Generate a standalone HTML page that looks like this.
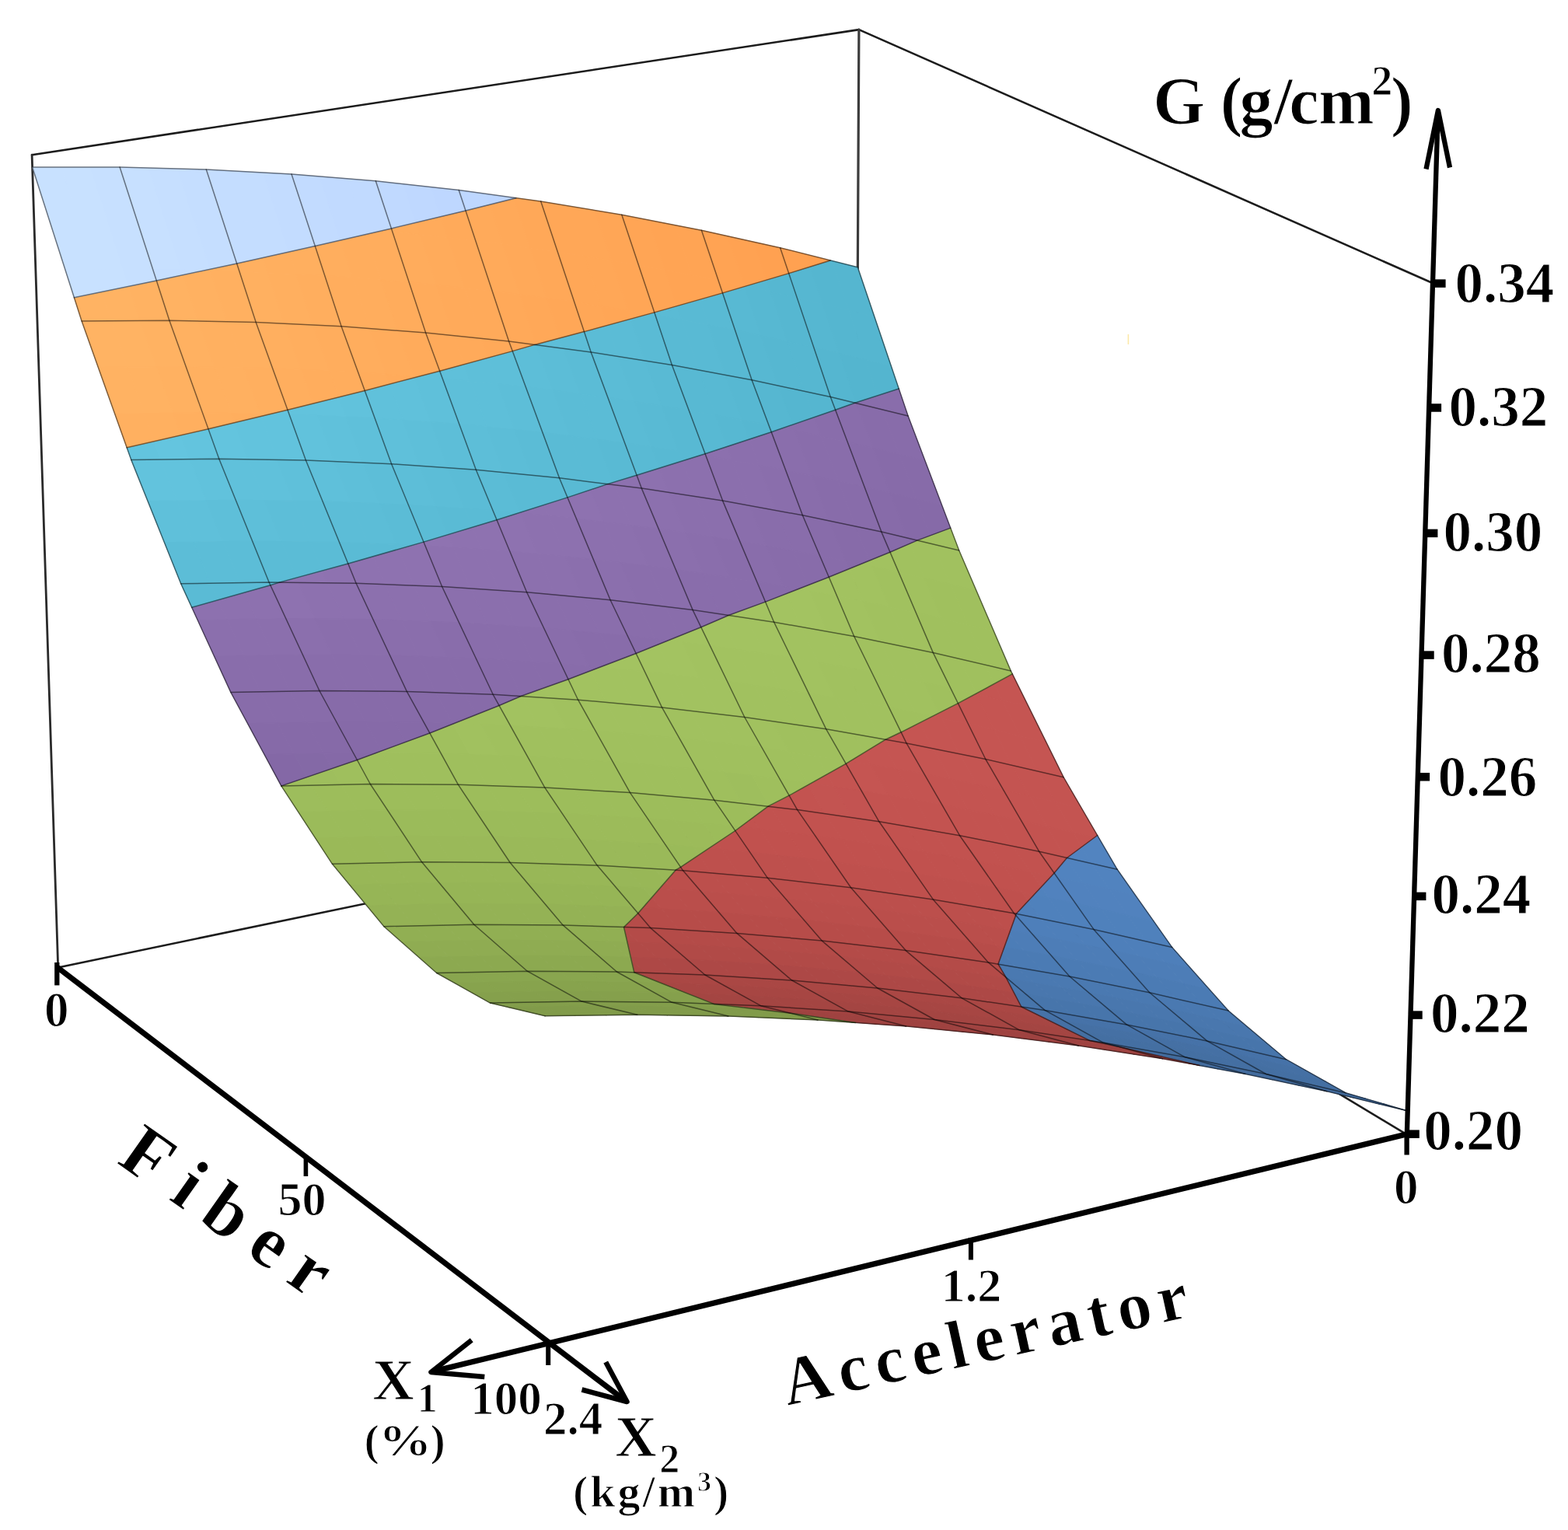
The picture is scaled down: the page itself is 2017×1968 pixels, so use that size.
<!DOCTYPE html>
<html lang="en"><head><meta charset="utf-8"><title>Response surface: G vs Fiber and Accelerator</title>
<style>html,body{margin:0;padding:0;background:#fff}body{width:2017px;height:1968px;overflow:hidden}svg{display:block}text{font-family:"Liberation Serif","DejaVu Serif",serif;font-weight:bold;fill:#000}</style></head><body>
<svg width="2017" height="1968" viewBox="0 0 2017 1968">
<rect width="2017" height="1968" fill="#fff"/>
<g id="box" stroke-linecap="round">
<line x1="41.1" y1="199.2" x2="1104.9" y2="38.1" stroke="#1c1c1c" stroke-width="2.6" />
<line x1="1104.9" y1="38.1" x2="1843.1" y2="364.3" stroke="#1c1c1c" stroke-width="2.6" />
<line x1="41.1" y1="199.2" x2="74.7" y2="1244.4" stroke="#2a2a2a" stroke-width="2.8" />
<line x1="1104.9" y1="38.1" x2="1099.8" y2="1031.5" stroke="#3c3c3c" stroke-width="3.1999999999999997" />
<line x1="74.7" y1="1244.4" x2="1099.8" y2="1031.5" stroke="#1c1c1c" stroke-width="2.6" />
<line x1="1099.8" y1="1031.5" x2="1808.9" y2="1458.9" stroke="#1c1c1c" stroke-width="2.6" />
</g>
<g id="surface" stroke-linejoin="round">
<polygon points="142.7,412.8 105.1,413.0 95.4,382.8 130.7,375.5" fill="#ffb363" stroke="#ffb363" stroke-width="1"/>
<polygon points="180.3,412.5 142.7,412.8 130.7,375.5 166.0,368.3" fill="#ffb363" stroke="#ffb363" stroke-width="1"/>
<polygon points="201.3,361.0 217.9,412.3 180.3,412.5 166.0,368.3" fill="#ffb262" stroke="#ffb262" stroke-width="1"/>
<polygon points="41.6,215.1 79.1,215.1 100.3,281.0 62.8,281.1" fill="#c8e1ff" stroke="#c8e1ff" stroke-width="1"/>
<polygon points="100.3,281.0 121.5,346.9 84.0,347.1 62.8,281.1" fill="#c8e1ff" stroke="#c8e1ff" stroke-width="1"/>
<polygon points="121.5,346.9 130.7,375.5 95.4,382.8 84.0,347.1" fill="#c8e1ff" stroke="#c8e1ff" stroke-width="1"/>
<polygon points="79.1,215.1 116.6,215.0 137.9,280.9 100.3,281.0" fill="#c8e1ff" stroke="#c8e1ff" stroke-width="1"/>
<polygon points="137.9,280.9 159.1,346.7 121.5,346.9 100.3,281.0" fill="#c8e1ff" stroke="#c8e1ff" stroke-width="1"/>
<polygon points="159.1,346.7 166.0,368.3 130.7,375.5 121.5,346.9" fill="#c8e1ff" stroke="#c8e1ff" stroke-width="1"/>
<polygon points="116.6,215.0 154.1,215.0 175.4,280.8 137.9,280.9" fill="#c7e0ff" stroke="#c7e0ff" stroke-width="1"/>
<polygon points="175.4,280.8 196.6,346.5 159.1,346.7 137.9,280.9" fill="#c7e0ff" stroke="#c7e0ff" stroke-width="1"/>
<polygon points="196.6,346.5 201.3,361.0 166.0,368.3 159.1,346.7" fill="#c7e0ff" stroke="#c7e0ff" stroke-width="1"/>
<polygon points="255.0,413.0 217.9,412.3 201.3,361.0 235.8,353.6" fill="#ffb262" stroke="#ffb262" stroke-width="1"/>
<polygon points="262.1,348.0 270.2,346.3 270.8,348.2" fill="#ffb161" stroke="#ffb161" stroke-width="1"/>
<polygon points="292.1,413.8 255.0,413.0 235.8,353.6 262.1,348.0 270.8,348.2" fill="#ffb161" stroke="#ffb161" stroke-width="1"/>
<polygon points="304.6,338.9 307.9,349.0 270.8,348.2 270.2,346.3" fill="#ffb161" stroke="#ffb161" stroke-width="1"/>
<polygon points="307.9,349.0 329.2,414.6 292.1,413.8 270.8,348.2" fill="#ffb060" stroke="#ffb060" stroke-width="1"/>
<polygon points="154.1,215.0 191.2,216.0 212.5,281.7 175.4,280.8" fill="#c7e0ff" stroke="#c7e0ff" stroke-width="1"/>
<polygon points="212.5,281.7 233.7,347.4 196.6,346.5 175.4,280.8" fill="#c7e0ff" stroke="#c7e0ff" stroke-width="1"/>
<polygon points="233.7,347.4 235.8,353.6 201.3,361.0 196.6,346.5" fill="#c6dfff" stroke="#c6dfff" stroke-width="1"/>
<polygon points="191.2,216.0 228.2,217.0 249.5,282.6 212.5,281.7" fill="#c6dfff" stroke="#c6dfff" stroke-width="1"/>
<polygon points="249.5,282.6 270.2,346.3 262.1,348.0 233.7,347.4 212.5,281.7" fill="#c6dfff" stroke="#c6dfff" stroke-width="1"/>
<polygon points="262.1,348.0 235.8,353.6 233.7,347.4" fill="#c6dfff" stroke="#c6dfff" stroke-width="1"/>
<polygon points="228.2,217.0 265.3,218.0 286.6,283.5 249.5,282.6" fill="#c5deff" stroke="#c5deff" stroke-width="1"/>
<polygon points="286.6,283.5 304.6,338.9 270.2,346.3 249.5,282.6" fill="#c5deff" stroke="#c5deff" stroke-width="1"/>
<polygon points="307.9,349.0 304.6,338.9 338.2,331.4 344.5,350.9" fill="#ffb060" stroke="#ffb060" stroke-width="1"/>
<polygon points="365.9,416.3 329.2,414.6 307.9,349.0 344.5,350.9" fill="#ffb060" stroke="#ffb060" stroke-width="1"/>
<polygon points="344.5,350.9 338.2,331.4 371.8,324.0 381.1,352.7" fill="#ffaf5f" stroke="#ffaf5f" stroke-width="1"/>
<polygon points="402.5,418.1 365.9,416.3 344.5,350.9 381.1,352.7" fill="#ffaf5f" stroke="#ffaf5f" stroke-width="1"/>
<polygon points="405.3,316.5 417.8,354.5 381.1,352.7 371.8,324.0" fill="#ffaf5f" stroke="#ffaf5f" stroke-width="1"/>
<polygon points="417.8,354.5 439.1,419.8 402.5,418.1 381.1,352.7" fill="#ffae5e" stroke="#ffae5e" stroke-width="1"/>
<polygon points="265.3,218.0 301.9,220.0 323.2,285.4 286.6,283.5" fill="#c4ddff" stroke="#c4ddff" stroke-width="1"/>
<polygon points="323.2,285.4 338.2,331.4 304.6,338.9 286.6,283.5" fill="#c4ddff" stroke="#c4ddff" stroke-width="1"/>
<polygon points="301.9,220.0 338.4,221.9 359.8,287.3 323.2,285.4" fill="#c4ddff" stroke="#c4ddff" stroke-width="1"/>
<polygon points="359.8,287.3 371.8,324.0 338.2,331.4 323.2,285.4" fill="#c4ddff" stroke="#c4ddff" stroke-width="1"/>
<polygon points="338.4,221.9 375.0,223.9 396.4,289.2 359.8,287.3" fill="#c3dcff" stroke="#c3dcff" stroke-width="1"/>
<polygon points="396.4,289.2 405.3,316.5 371.8,324.0 359.8,287.3" fill="#c3dcff" stroke="#c3dcff" stroke-width="1"/>
<polygon points="417.8,354.5 405.3,316.5 438.0,309.0 453.9,357.3" fill="#ffae5e" stroke="#ffae5e" stroke-width="1"/>
<polygon points="475.3,422.5 439.1,419.8 417.8,354.5 453.9,357.3" fill="#ffad5d" stroke="#ffad5d" stroke-width="1"/>
<polygon points="453.9,357.3 438.0,309.0 470.7,301.4 490.0,360.1" fill="#ffad5d" stroke="#ffad5d" stroke-width="1"/>
<polygon points="511.4,425.3 475.3,422.5 453.9,357.3 490.0,360.1" fill="#ffad5d" stroke="#ffad5d" stroke-width="1"/>
<polygon points="503.4,293.9 504.8,297.9 490.9,296.8" fill="#ffac5c" stroke="#ffac5c" stroke-width="1"/>
<polygon points="504.8,297.9 526.2,362.9 490.0,360.1 470.7,301.4 490.9,296.8" fill="#ffad5d" stroke="#ffad5d" stroke-width="1"/>
<polygon points="526.2,362.9 547.6,428.0 511.4,425.3 490.0,360.1" fill="#ffac5c" stroke="#ffac5c" stroke-width="1"/>
<polygon points="375.0,223.9 411.1,226.9 432.5,292.1 396.4,289.2" fill="#c2dbff" stroke="#c2dbff" stroke-width="1"/>
<polygon points="432.5,292.1 438.0,309.0 405.3,316.5 396.4,289.2" fill="#c2dbff" stroke="#c2dbff" stroke-width="1"/>
<polygon points="411.1,226.9 447.2,229.8 468.6,295.0 432.5,292.1" fill="#c1daff" stroke="#c1daff" stroke-width="1"/>
<polygon points="468.6,295.0 470.7,301.4 438.0,309.0 432.5,292.1" fill="#c1daff" stroke="#c1daff" stroke-width="1"/>
<polygon points="447.2,229.8 483.3,232.8 503.4,293.9 490.9,296.8 468.6,295.0" fill="#c1daff" stroke="#c1daff" stroke-width="1"/>
<polygon points="490.9,296.8 470.7,301.4 468.6,295.0" fill="#c1daff" stroke="#c1daff" stroke-width="1"/>
<polygon points="504.8,297.9 503.4,293.9 535.3,286.2 540.4,301.7" fill="#ffac5c" stroke="#ffac5c" stroke-width="1"/>
<polygon points="526.2,362.9 504.8,297.9 540.4,301.7 561.8,366.7" fill="#ffac5c" stroke="#ffac5c" stroke-width="1"/>
<polygon points="583.3,431.7 547.6,428.0 526.2,362.9 561.8,366.7" fill="#ffab5b" stroke="#ffab5b" stroke-width="1"/>
<polygon points="540.4,301.7 535.3,286.2 567.1,278.5 576.0,305.5" fill="#ffab5b" stroke="#ffab5b" stroke-width="1"/>
<polygon points="561.8,366.7 540.4,301.7 576.0,305.5 597.5,370.4" fill="#ffab5b" stroke="#ffab5b" stroke-width="1"/>
<polygon points="618.9,435.4 583.3,431.7 561.8,366.7 597.5,370.4" fill="#ffaa5a" stroke="#ffaa5a" stroke-width="1"/>
<polygon points="599.0,270.9 611.7,309.4 576.0,305.5 567.1,278.5" fill="#ffaa5a" stroke="#ffaa5a" stroke-width="1"/>
<polygon points="611.7,309.4 633.2,374.2 597.5,370.4 576.0,305.5" fill="#ffaa5a" stroke="#ffaa5a" stroke-width="1"/>
<polygon points="633.2,374.2 654.6,439.0 618.9,435.4 597.5,370.4" fill="#ffaa5a" stroke="#ffaa5a" stroke-width="1"/>
<polygon points="483.3,232.8 519.0,236.7 535.3,286.2 503.4,293.9" fill="#c0d9ff" stroke="#c0d9ff" stroke-width="1"/>
<polygon points="519.0,236.7 554.6,240.6 567.1,278.5 535.3,286.2" fill="#bfd8ff" stroke="#bfd8ff" stroke-width="1"/>
<polygon points="554.6,240.6 590.2,244.5 599.0,270.9 567.1,278.5" fill="#bed7ff" stroke="#bed7ff" stroke-width="1"/>
<polygon points="689.8,443.7 687.8,443.4 689.6,442.9" fill="#5dbed8" stroke="#5dbed8" stroke-width="1"/>
<polygon points="725.0,448.3 689.8,443.7 689.6,442.9 720.5,434.8" fill="#5dbed8" stroke="#5dbed8" stroke-width="1"/>
<polygon points="751.5,426.6 760.2,452.9 725.0,448.3 720.5,434.8" fill="#5cbdd7" stroke="#5cbdd7" stroke-width="1"/>
<polygon points="611.7,309.4 599.0,270.9 630.0,263.1 646.9,314.1" fill="#ffaa5a" stroke="#ffaa5a" stroke-width="1"/>
<polygon points="633.2,374.2 611.7,309.4 646.9,314.1 668.3,378.9" fill="#ffaa5a" stroke="#ffaa5a" stroke-width="1"/>
<polygon points="689.6,442.9 687.8,443.4 654.6,439.0 633.2,374.2 668.3,378.9" fill="#ffa959" stroke="#ffa959" stroke-width="1"/>
<polygon points="646.9,314.1 630.0,263.1 660.9,255.4 682.0,318.9" fill="#ffa959" stroke="#ffa959" stroke-width="1"/>
<polygon points="668.3,378.9 646.9,314.1 682.0,318.9 703.5,383.6" fill="#ffa959" stroke="#ffa959" stroke-width="1"/>
<polygon points="720.5,434.8 689.6,442.9 668.3,378.9 703.5,383.6" fill="#ffa858" stroke="#ffa858" stroke-width="1"/>
<polygon points="663.8,254.7 695.7,259.0 717.2,323.7 682.0,318.9 660.9,255.4" fill="#ffa858" stroke="#ffa858" stroke-width="1"/>
<polygon points="717.2,323.7 738.7,388.3 703.5,383.6 682.0,318.9" fill="#ffa858" stroke="#ffa858" stroke-width="1"/>
<polygon points="738.7,388.3 751.5,426.6 720.5,434.8 703.5,383.6" fill="#ffa757" stroke="#ffa757" stroke-width="1"/>
<polygon points="590.2,244.5 625.4,249.4 630.0,263.1 599.0,270.9" fill="#bed7ff" stroke="#bed7ff" stroke-width="1"/>
<polygon points="625.4,249.4 660.6,254.2 660.9,255.4 630.0,263.1" fill="#bdd6ff" stroke="#bdd6ff" stroke-width="1"/>
<polygon points="660.6,254.2 663.8,254.7 660.9,255.4" fill="#bcd5ff" stroke="#bcd5ff" stroke-width="1"/>
<polygon points="794.9,458.4 760.2,452.9 751.5,426.6 781.6,418.3" fill="#5bbcd6" stroke="#5bbcd6" stroke-width="1"/>
<polygon points="829.6,463.9 794.9,458.4 781.6,418.3 811.7,410.1" fill="#5bbcd6" stroke="#5bbcd6" stroke-width="1"/>
<polygon points="841.8,401.9 842.8,405.1 834.8,403.8" fill="#5abbd5" stroke="#5abbd5" stroke-width="1"/>
<polygon points="842.8,405.1 864.4,469.5 829.6,463.9 811.7,410.1 834.8,403.8" fill="#5abbd5" stroke="#5abbd5" stroke-width="1"/>
<polygon points="695.7,259.0 730.4,264.8 751.9,329.3 717.2,323.7" fill="#ffa757" stroke="#ffa757" stroke-width="1"/>
<polygon points="751.9,329.3 773.4,393.9 738.7,388.3 717.2,323.7" fill="#ffa757" stroke="#ffa757" stroke-width="1"/>
<polygon points="773.4,393.9 781.6,418.3 751.5,426.6 738.7,388.3" fill="#ffa757" stroke="#ffa757" stroke-width="1"/>
<polygon points="730.4,264.8 765.1,270.5 786.6,335.0 751.9,329.3" fill="#ffa757" stroke="#ffa757" stroke-width="1"/>
<polygon points="786.6,335.0 808.1,399.5 773.4,393.9 751.9,329.3" fill="#ffa757" stroke="#ffa757" stroke-width="1"/>
<polygon points="808.1,399.5 811.7,410.1 781.6,418.3 773.4,393.9" fill="#ffa656" stroke="#ffa656" stroke-width="1"/>
<polygon points="765.1,270.5 799.8,276.3 821.3,340.7 786.6,335.0" fill="#ffa656" stroke="#ffa656" stroke-width="1"/>
<polygon points="821.3,340.7 841.8,401.9 834.8,403.8 808.1,399.5 786.6,335.0" fill="#ffa656" stroke="#ffa656" stroke-width="1"/>
<polygon points="834.8,403.8 811.7,410.1 808.1,399.5" fill="#ffa656" stroke="#ffa656" stroke-width="1"/>
<polygon points="842.8,405.1 841.8,401.9 871.0,393.5 877.0,411.6" fill="#5abbd5" stroke="#5abbd5" stroke-width="1"/>
<polygon points="898.6,475.9 864.4,469.5 842.8,405.1 877.0,411.6" fill="#59bad4" stroke="#59bad4" stroke-width="1"/>
<polygon points="877.0,411.6 871.0,393.5 900.2,385.2 911.3,418.1" fill="#59bad4" stroke="#59bad4" stroke-width="1"/>
<polygon points="932.8,482.3 898.6,475.9 877.0,411.6 911.3,418.1" fill="#59bad4" stroke="#59bad4" stroke-width="1"/>
<polygon points="929.5,376.9 945.5,424.5 911.3,418.1 900.2,385.2" fill="#59bad4" stroke="#59bad4" stroke-width="1"/>
<polygon points="945.5,424.5 967.1,488.7 932.8,482.3 911.3,418.1" fill="#58b9d3" stroke="#58b9d3" stroke-width="1"/>
<polygon points="799.8,276.3 834.0,282.9 855.5,347.2 821.3,340.7" fill="#ffa555" stroke="#ffa555" stroke-width="1"/>
<polygon points="855.5,347.2 871.0,393.5 841.8,401.9 821.3,340.7" fill="#ffa555" stroke="#ffa555" stroke-width="1"/>
<polygon points="834.0,282.9 868.2,289.6 889.7,353.8 855.5,347.2" fill="#ffa454" stroke="#ffa454" stroke-width="1"/>
<polygon points="889.7,353.8 900.2,385.2 871.0,393.5 855.5,347.2" fill="#ffa454" stroke="#ffa454" stroke-width="1"/>
<polygon points="868.2,289.6 902.4,296.2 923.9,360.4 889.7,353.8" fill="#ffa454" stroke="#ffa454" stroke-width="1"/>
<polygon points="923.9,360.4 929.5,376.9 900.2,385.2 889.7,353.8" fill="#ffa454" stroke="#ffa454" stroke-width="1"/>
<polygon points="945.5,424.5 929.5,376.9 957.9,368.4 979.2,431.9" fill="#58b9d3" stroke="#58b9d3" stroke-width="1"/>
<polygon points="1000.8,496.0 967.1,488.7 945.5,424.5 979.2,431.9" fill="#57b8d2" stroke="#57b8d2" stroke-width="1"/>
<polygon points="958.9,368.1 986.3,360.0 991.4,375.3" fill="#57b8d2" stroke="#57b8d2" stroke-width="1"/>
<polygon points="979.2,431.9 957.9,368.4 958.9,368.1 991.4,375.3 1013.0,439.3" fill="#57b8d2" stroke="#57b8d2" stroke-width="1"/>
<polygon points="1034.5,503.3 1000.8,496.0 979.2,431.9 1013.0,439.3" fill="#56b7d1" stroke="#56b7d1" stroke-width="1"/>
<polygon points="1014.7,351.6 1025.1,382.7 991.4,375.3 986.3,360.0" fill="#56b7d1" stroke="#56b7d1" stroke-width="1"/>
<polygon points="1025.1,382.7 1046.7,446.6 1013.0,439.3 991.4,375.3" fill="#56b7d1" stroke="#56b7d1" stroke-width="1"/>
<polygon points="1046.7,446.6 1068.3,510.6 1034.5,503.3 1013.0,439.3" fill="#56b7d1" stroke="#56b7d1" stroke-width="1"/>
<polygon points="902.4,296.2 936.1,303.7 957.7,367.8 923.9,360.4" fill="#ffa353" stroke="#ffa353" stroke-width="1"/>
<polygon points="957.7,367.8 957.9,368.4 929.5,376.9 923.9,360.4" fill="#ffa353" stroke="#ffa353" stroke-width="1"/>
<polygon points="936.1,303.7 969.8,311.2 986.3,360.0 958.9,368.1 957.7,367.8" fill="#ffa252" stroke="#ffa252" stroke-width="1"/>
<polygon points="958.9,368.1 957.9,368.4 957.7,367.8" fill="#ffa353" stroke="#ffa353" stroke-width="1"/>
<polygon points="969.8,311.2 1003.6,318.7 1014.7,351.6 986.3,360.0" fill="#ffa151" stroke="#ffa151" stroke-width="1"/>
<polygon points="1101.6,518.7 1099.7,518.3 1101.2,517.8" fill="#896dab" stroke="#896dab" stroke-width="1"/>
<polygon points="1134.8,526.9 1101.6,518.7 1101.2,517.8 1128.7,508.9" fill="#896dab" stroke="#896dab" stroke-width="1"/>
<polygon points="1156.2,500.0 1168.1,535.0 1134.8,526.9 1128.7,508.9" fill="#896dab" stroke="#896dab" stroke-width="1"/>
<polygon points="1025.1,382.7 1014.7,351.6 1042.2,343.0 1058.4,391.0" fill="#56b7d1" stroke="#56b7d1" stroke-width="1"/>
<polygon points="1046.7,446.6 1025.1,382.7 1058.4,391.0 1080.0,454.8" fill="#56b7d1" stroke="#56b7d1" stroke-width="1"/>
<polygon points="1101.2,517.8 1099.7,518.3 1068.3,510.6 1046.7,446.6 1080.0,454.8" fill="#55b6d0" stroke="#55b6d0" stroke-width="1"/>
<polygon points="1068.2,335.0 1070.1,335.5 1091.7,399.3 1058.4,391.0 1042.2,343.0" fill="#55b6d0" stroke="#55b6d0" stroke-width="1"/>
<polygon points="1091.7,399.3 1113.2,463.1 1080.0,454.8 1058.4,391.0" fill="#55b6d0" stroke="#55b6d0" stroke-width="1"/>
<polygon points="1113.2,463.1 1128.7,508.9 1101.2,517.8 1080.0,454.8" fill="#54b5cf" stroke="#54b5cf" stroke-width="1"/>
<polygon points="1070.1,335.5 1103.3,343.8 1124.9,407.5 1091.7,399.3" fill="#55b6d0" stroke="#55b6d0" stroke-width="1"/>
<polygon points="1124.9,407.5 1146.5,471.3 1113.2,463.1 1091.7,399.3" fill="#55b6d0" stroke="#55b6d0" stroke-width="1"/>
<polygon points="1146.5,471.3 1156.2,500.0 1128.7,508.9 1113.2,463.1" fill="#54b5cf" stroke="#54b5cf" stroke-width="1"/>
<polygon points="1003.6,318.7 1036.8,327.1 1042.2,343.0 1014.7,351.6" fill="#ffa151" stroke="#ffa151" stroke-width="1"/>
<polygon points="1036.8,327.1 1068.2,335.0 1042.2,343.0" fill="#ffa050" stroke="#ffa050" stroke-width="1"/>
<polygon points="206.5,591.2 168.8,591.6 163.1,575.8 198.1,567.8" fill="#63c4de" stroke="#63c4de" stroke-width="1"/>
<polygon points="244.1,590.7 206.5,591.2 198.1,567.8 233.1,559.8" fill="#64c5df" stroke="#64c5df" stroke-width="1"/>
<polygon points="268.0,551.8 281.8,590.3 244.1,590.7 233.1,559.8" fill="#63c4de" stroke="#63c4de" stroke-width="1"/>
<polygon points="105.1,413.0 142.7,412.8 164.0,472.2 126.3,472.6" fill="#ffb363" stroke="#ffb363" stroke-width="1"/>
<polygon points="164.0,472.2 185.2,531.7 147.6,532.1 126.3,472.6" fill="#ffb262" stroke="#ffb262" stroke-width="1"/>
<polygon points="185.2,531.7 198.1,567.8 163.1,575.8 147.6,532.1" fill="#ffb060" stroke="#ffb060" stroke-width="1"/>
<polygon points="142.7,412.8 180.3,412.5 201.6,471.9 164.0,472.2" fill="#ffb363" stroke="#ffb363" stroke-width="1"/>
<polygon points="201.6,471.9 222.9,531.3 185.2,531.7 164.0,472.2" fill="#ffb262" stroke="#ffb262" stroke-width="1"/>
<polygon points="222.9,531.3 233.1,559.8 198.1,567.8 185.2,531.7" fill="#ffb060" stroke="#ffb060" stroke-width="1"/>
<polygon points="180.3,412.5 217.9,412.3 239.2,471.6 201.6,471.9" fill="#ffb262" stroke="#ffb262" stroke-width="1"/>
<polygon points="239.2,471.6 260.5,530.9 222.9,531.3 201.6,471.9" fill="#ffb161" stroke="#ffb161" stroke-width="1"/>
<polygon points="260.5,530.9 268.0,551.8 233.1,559.8 222.9,531.3" fill="#ffaf5f" stroke="#ffaf5f" stroke-width="1"/>
<polygon points="319.0,590.8 281.8,590.3 268.0,551.8 302.0,543.6" fill="#63c4de" stroke="#63c4de" stroke-width="1"/>
<polygon points="356.2,591.4 319.0,590.8 302.0,543.6 336.0,535.5" fill="#62c3dd" stroke="#62c3dd" stroke-width="1"/>
<polygon points="370.0,527.3 372.0,532.8 348.7,532.4" fill="#63c4de" stroke="#63c4de" stroke-width="1"/>
<polygon points="372.0,532.8 393.4,592.0 356.2,591.4 336.0,535.5 348.7,532.4" fill="#62c3dd" stroke="#62c3dd" stroke-width="1"/>
<polygon points="217.9,412.3 255.0,413.0 276.3,472.3 239.2,471.6" fill="#ffb161" stroke="#ffb161" stroke-width="1"/>
<polygon points="276.3,472.3 297.7,531.6 260.5,530.9 239.2,471.6" fill="#ffb060" stroke="#ffb060" stroke-width="1"/>
<polygon points="297.7,531.6 302.0,543.6 268.0,551.8 260.5,530.9" fill="#ffaf5f" stroke="#ffaf5f" stroke-width="1"/>
<polygon points="255.0,413.0 292.1,413.8 313.5,473.0 276.3,472.3" fill="#ffb060" stroke="#ffb060" stroke-width="1"/>
<polygon points="313.5,473.0 334.9,532.2 297.7,531.6 276.3,472.3" fill="#ffb060" stroke="#ffb060" stroke-width="1"/>
<polygon points="334.9,532.2 336.0,535.5 302.0,543.6 297.7,531.6" fill="#ffae5e" stroke="#ffae5e" stroke-width="1"/>
<polygon points="292.1,413.8 329.2,414.6 350.6,473.7 313.5,473.0" fill="#ffb060" stroke="#ffb060" stroke-width="1"/>
<polygon points="350.6,473.7 370.0,527.3 348.7,532.4 334.9,532.2 313.5,473.0" fill="#ffaf5f" stroke="#ffaf5f" stroke-width="1"/>
<polygon points="348.7,532.4 336.0,535.5 334.9,532.2" fill="#ffae5e" stroke="#ffae5e" stroke-width="1"/>
<polygon points="372.0,532.8 370.0,527.3 403.1,519.0 408.7,534.5" fill="#62c3dd" stroke="#62c3dd" stroke-width="1"/>
<polygon points="430.2,593.5 393.4,592.0 372.0,532.8 408.7,534.5" fill="#61c2dc" stroke="#61c2dc" stroke-width="1"/>
<polygon points="408.7,534.5 403.1,519.0 436.2,510.7 445.4,536.1" fill="#62c3dd" stroke="#62c3dd" stroke-width="1"/>
<polygon points="466.9,595.1 430.2,593.5 408.7,534.5 445.4,536.1" fill="#60c1db" stroke="#60c1db" stroke-width="1"/>
<polygon points="469.3,502.5 482.1,537.7 445.4,536.1 436.2,510.7" fill="#61c2dc" stroke="#61c2dc" stroke-width="1"/>
<polygon points="482.1,537.7 503.6,596.7 466.9,595.1 445.4,536.1" fill="#5fc0da" stroke="#5fc0da" stroke-width="1"/>
<polygon points="329.2,414.6 365.9,416.3 387.3,475.4 350.6,473.7" fill="#ffaf5f" stroke="#ffaf5f" stroke-width="1"/>
<polygon points="387.3,475.4 403.1,519.0 370.0,527.3 350.6,473.7" fill="#ffae5e" stroke="#ffae5e" stroke-width="1"/>
<polygon points="365.9,416.3 402.5,418.1 424.0,477.1 387.3,475.4" fill="#ffae5e" stroke="#ffae5e" stroke-width="1"/>
<polygon points="424.0,477.1 436.2,510.7 403.1,519.0 387.3,475.4" fill="#ffad5d" stroke="#ffad5d" stroke-width="1"/>
<polygon points="402.5,418.1 439.1,419.8 460.6,478.8 424.0,477.1" fill="#ffad5d" stroke="#ffad5d" stroke-width="1"/>
<polygon points="460.6,478.8 469.3,502.5 436.2,510.7 424.0,477.1" fill="#ffad5d" stroke="#ffad5d" stroke-width="1"/>
<polygon points="482.1,537.7 469.3,502.5 501.4,494.0 518.3,540.3" fill="#60c1db" stroke="#60c1db" stroke-width="1"/>
<polygon points="539.8,599.2 503.6,596.7 482.1,537.7 518.3,540.3" fill="#5fc0da" stroke="#5fc0da" stroke-width="1"/>
<polygon points="518.3,540.3 501.4,494.0 533.5,485.6 554.5,542.9" fill="#60c1db" stroke="#60c1db" stroke-width="1"/>
<polygon points="576.1,601.7 539.8,599.2 518.3,540.3 554.5,542.9" fill="#5ebfd9" stroke="#5ebfd9" stroke-width="1"/>
<polygon points="565.7,477.2 569.2,486.8 537.9,484.5" fill="#5fc0da" stroke="#5fc0da" stroke-width="1"/>
<polygon points="569.2,486.8 590.7,545.5 554.5,542.9 533.5,485.6 537.9,484.5" fill="#5fc0da" stroke="#5fc0da" stroke-width="1"/>
<polygon points="590.7,545.5 612.3,604.3 576.1,601.7 554.5,542.9" fill="#5dbed8" stroke="#5dbed8" stroke-width="1"/>
<polygon points="439.1,419.8 475.3,422.5 496.8,481.4 460.6,478.8" fill="#ffad5d" stroke="#ffad5d" stroke-width="1"/>
<polygon points="496.8,481.4 501.4,494.0 469.3,502.5 460.6,478.8" fill="#ffac5c" stroke="#ffac5c" stroke-width="1"/>
<polygon points="475.3,422.5 511.4,425.3 533.0,484.1 496.8,481.4" fill="#ffac5c" stroke="#ffac5c" stroke-width="1"/>
<polygon points="533.0,484.1 533.5,485.6 501.4,494.0 496.8,481.4" fill="#ffab5b" stroke="#ffab5b" stroke-width="1"/>
<polygon points="511.4,425.3 547.6,428.0 565.7,477.2 537.9,484.5 533.0,484.1" fill="#ffab5b" stroke="#ffab5b" stroke-width="1"/>
<polygon points="537.9,484.5 533.5,485.6 533.0,484.1" fill="#ffab5b" stroke="#ffab5b" stroke-width="1"/>
<polygon points="569.2,486.8 565.7,477.2 596.9,468.7 604.9,490.4" fill="#5fc0da" stroke="#5fc0da" stroke-width="1"/>
<polygon points="590.7,545.5 569.2,486.8 604.9,490.4 626.4,549.1" fill="#5ebfd9" stroke="#5ebfd9" stroke-width="1"/>
<polygon points="648.0,607.8 612.3,604.3 590.7,545.5 626.4,549.1" fill="#5dbed8" stroke="#5dbed8" stroke-width="1"/>
<polygon points="604.9,490.4 596.9,468.7 628.1,460.1 640.6,494.0" fill="#5ebfd9" stroke="#5ebfd9" stroke-width="1"/>
<polygon points="626.4,549.1 604.9,490.4 640.6,494.0 662.2,552.6" fill="#5ebfd9" stroke="#5ebfd9" stroke-width="1"/>
<polygon points="683.8,611.3 648.0,607.8 626.4,549.1 662.2,552.6" fill="#5cbdd7" stroke="#5cbdd7" stroke-width="1"/>
<polygon points="659.3,451.6 676.3,497.6 640.6,494.0 628.1,460.1" fill="#5ebfd9" stroke="#5ebfd9" stroke-width="1"/>
<polygon points="676.3,497.6 697.9,556.2 662.2,552.6 640.6,494.0" fill="#5dbed8" stroke="#5dbed8" stroke-width="1"/>
<polygon points="697.9,556.2 719.5,614.8 683.8,611.3 662.2,552.6" fill="#5bbcd6" stroke="#5bbcd6" stroke-width="1"/>
<polygon points="547.6,428.0 583.3,431.7 596.9,468.7 565.7,477.2" fill="#ffaa5a" stroke="#ffaa5a" stroke-width="1"/>
<polygon points="583.3,431.7 618.9,435.4 628.1,460.1 596.9,468.7" fill="#ffaa5a" stroke="#ffaa5a" stroke-width="1"/>
<polygon points="618.9,435.4 654.6,439.0 659.3,451.6 628.1,460.1" fill="#ffa959" stroke="#ffa959" stroke-width="1"/>
<polygon points="790.0,623.6 781.6,622.6 788.8,620.4" fill="#8e72b0" stroke="#8e72b0" stroke-width="1"/>
<polygon points="819.1,611.3 825.3,628.1 790.0,623.6 788.8,620.4" fill="#8d71af" stroke="#8d71af" stroke-width="1"/>
<polygon points="687.8,443.4 689.8,443.7 711.5,502.2 676.3,497.6 659.3,451.6" fill="#5dbed8" stroke="#5dbed8" stroke-width="1"/>
<polygon points="711.5,502.2 733.1,560.7 697.9,556.2 676.3,497.6" fill="#5cbdd7" stroke="#5cbdd7" stroke-width="1"/>
<polygon points="733.1,560.7 754.8,619.2 719.5,614.8 697.9,556.2" fill="#5abbd5" stroke="#5abbd5" stroke-width="1"/>
<polygon points="689.8,443.7 725.0,448.3 746.7,506.7 711.5,502.2" fill="#5cbdd7" stroke="#5cbdd7" stroke-width="1"/>
<polygon points="746.7,506.7 768.4,565.2 733.1,560.7 711.5,502.2" fill="#5bbcd6" stroke="#5bbcd6" stroke-width="1"/>
<polygon points="768.4,565.2 788.8,620.4 781.6,622.6 754.8,619.2 733.1,560.7" fill="#5abbd5" stroke="#5abbd5" stroke-width="1"/>
<polygon points="725.0,448.3 760.2,452.9 781.9,511.3 746.7,506.7" fill="#5bbcd6" stroke="#5bbcd6" stroke-width="1"/>
<polygon points="781.9,511.3 803.6,569.7 768.4,565.2 746.7,506.7" fill="#5bbcd6" stroke="#5bbcd6" stroke-width="1"/>
<polygon points="803.6,569.7 819.1,611.3 788.8,620.4 768.4,565.2" fill="#59bad4" stroke="#59bad4" stroke-width="1"/>
<polygon points="654.6,439.0 687.8,443.4 659.3,451.6" fill="#ffa858" stroke="#ffa858" stroke-width="1"/>
<polygon points="860.1,633.4 825.3,628.1 819.1,611.3 848.4,602.1" fill="#8d71af" stroke="#8d71af" stroke-width="1"/>
<polygon points="894.8,638.7 860.1,633.4 848.4,602.1 877.7,592.9" fill="#8c70ae" stroke="#8c70ae" stroke-width="1"/>
<polygon points="907.0,583.7 907.9,585.9 902.6,585.1" fill="#8c70ae" stroke="#8c70ae" stroke-width="1"/>
<polygon points="907.9,585.9 929.6,644.1 894.8,638.7 877.7,592.9 902.6,585.1" fill="#8c70ae" stroke="#8c70ae" stroke-width="1"/>
<polygon points="760.2,452.9 794.9,458.4 816.6,516.7 781.9,511.3" fill="#5bbcd6" stroke="#5bbcd6" stroke-width="1"/>
<polygon points="816.6,516.7 838.4,575.1 803.6,569.7 781.9,511.3" fill="#5abbd5" stroke="#5abbd5" stroke-width="1"/>
<polygon points="838.4,575.1 848.4,602.1 819.1,611.3 803.6,569.7" fill="#59bad4" stroke="#59bad4" stroke-width="1"/>
<polygon points="794.9,458.4 829.6,463.9 851.4,522.2 816.6,516.7" fill="#5abbd5" stroke="#5abbd5" stroke-width="1"/>
<polygon points="851.4,522.2 873.1,580.5 838.4,575.1 816.6,516.7" fill="#59bad4" stroke="#59bad4" stroke-width="1"/>
<polygon points="873.1,580.5 877.7,592.9 848.4,602.1 838.4,575.1" fill="#58b9d3" stroke="#58b9d3" stroke-width="1"/>
<polygon points="829.6,463.9 864.4,469.5 886.1,527.7 851.4,522.2" fill="#59bad4" stroke="#59bad4" stroke-width="1"/>
<polygon points="886.1,527.7 907.0,583.7 902.6,585.1 873.1,580.5 851.4,522.2" fill="#58b9d3" stroke="#58b9d3" stroke-width="1"/>
<polygon points="902.6,585.1 877.7,592.9 873.1,580.5" fill="#58b9d3" stroke="#58b9d3" stroke-width="1"/>
<polygon points="907.9,585.9 907.0,583.7 935.4,574.3 942.1,592.2" fill="#8c70ae" stroke="#8c70ae" stroke-width="1"/>
<polygon points="963.9,650.3 929.6,644.1 907.9,585.9 942.1,592.2" fill="#8b6fad" stroke="#8b6fad" stroke-width="1"/>
<polygon points="942.1,592.2 935.4,574.3 963.8,565.0 976.4,598.5" fill="#8b6fad" stroke="#8b6fad" stroke-width="1"/>
<polygon points="998.2,656.6 963.9,650.3 942.1,592.2 976.4,598.5" fill="#8b6fad" stroke="#8b6fad" stroke-width="1"/>
<polygon points="992.2,555.7 1010.6,604.8 976.4,598.5 963.8,565.0" fill="#8b6fad" stroke="#8b6fad" stroke-width="1"/>
<polygon points="1010.6,604.8 1032.4,662.8 998.2,656.6 976.4,598.5" fill="#8a6eac" stroke="#8a6eac" stroke-width="1"/>
<polygon points="864.4,469.5 898.6,475.9 920.4,534.0 886.1,527.7" fill="#58b9d3" stroke="#58b9d3" stroke-width="1"/>
<polygon points="920.4,534.0 935.4,574.3 907.0,583.7 886.1,527.7" fill="#58b9d3" stroke="#58b9d3" stroke-width="1"/>
<polygon points="898.6,475.9 932.8,482.3 954.6,540.4 920.4,534.0" fill="#58b9d3" stroke="#58b9d3" stroke-width="1"/>
<polygon points="954.6,540.4 963.8,565.0 935.4,574.3 920.4,534.0" fill="#57b8d2" stroke="#57b8d2" stroke-width="1"/>
<polygon points="932.8,482.3 967.1,488.7 988.8,546.7 954.6,540.4" fill="#57b8d2" stroke="#57b8d2" stroke-width="1"/>
<polygon points="988.8,546.7 992.2,555.7 963.8,565.0 954.6,540.4" fill="#56b7d1" stroke="#56b7d1" stroke-width="1"/>
<polygon points="1006.9,550.6 1019.7,546.2 1022.6,554.0" fill="#8a6eac" stroke="#8a6eac" stroke-width="1"/>
<polygon points="1010.6,604.8 992.2,555.7 1006.9,550.6 1022.6,554.0 1044.4,611.9" fill="#8a6eac" stroke="#8a6eac" stroke-width="1"/>
<polygon points="1066.2,669.9 1032.4,662.8 1010.6,604.8 1044.4,611.9" fill="#896dab" stroke="#896dab" stroke-width="1"/>
<polygon points="1022.6,554.0 1019.7,546.2 1047.2,536.8 1056.4,561.2" fill="#8a6eac" stroke="#8a6eac" stroke-width="1"/>
<polygon points="1044.4,611.9 1022.6,554.0 1056.4,561.2 1078.2,619.1" fill="#896dab" stroke="#896dab" stroke-width="1"/>
<polygon points="1100.0,677.0 1066.2,669.9 1044.4,611.9 1078.2,619.1" fill="#886caa" stroke="#886caa" stroke-width="1"/>
<polygon points="1074.6,527.3 1090.1,568.4 1056.4,561.2 1047.2,536.8" fill="#896dab" stroke="#896dab" stroke-width="1"/>
<polygon points="1090.1,568.4 1112.0,626.3 1078.2,619.1 1056.4,561.2" fill="#896dab" stroke="#896dab" stroke-width="1"/>
<polygon points="1112.0,626.3 1133.8,684.1 1100.0,677.0 1078.2,619.1" fill="#886caa" stroke="#886caa" stroke-width="1"/>
<polygon points="967.1,488.7 1000.8,496.0 1019.7,546.2 1006.9,550.6 988.8,546.7" fill="#56b7d1" stroke="#56b7d1" stroke-width="1"/>
<polygon points="1006.9,550.6 992.2,555.7 988.8,546.7" fill="#56b7d1" stroke="#56b7d1" stroke-width="1"/>
<polygon points="1000.8,496.0 1034.5,503.3 1047.2,536.8 1019.7,546.2" fill="#55b6d0" stroke="#55b6d0" stroke-width="1"/>
<polygon points="1034.5,503.3 1068.3,510.6 1074.6,527.3 1047.2,536.8" fill="#55b6d0" stroke="#55b6d0" stroke-width="1"/>
<polygon points="1200.4,700.1 1179.8,695.1 1196.2,689.0" fill="#a1c15f" stroke="#a1c15f" stroke-width="1"/>
<polygon points="1222.7,679.1 1233.7,708.0 1200.4,700.1 1196.2,689.0" fill="#a1c15f" stroke="#a1c15f" stroke-width="1"/>
<polygon points="1099.7,518.3 1101.6,518.7 1123.4,576.5 1090.1,568.4 1074.6,527.3" fill="#896dab" stroke="#896dab" stroke-width="1"/>
<polygon points="1123.4,576.5 1145.2,634.3 1112.0,626.3 1090.1,568.4" fill="#886caa" stroke="#886caa" stroke-width="1"/>
<polygon points="1145.2,634.3 1167.1,692.1 1133.8,684.1 1112.0,626.3" fill="#876ba9" stroke="#876ba9" stroke-width="1"/>
<polygon points="1101.6,518.7 1134.8,526.9 1156.7,584.6 1123.4,576.5" fill="#886caa" stroke="#886caa" stroke-width="1"/>
<polygon points="1156.7,584.6 1178.5,642.3 1145.2,634.3 1123.4,576.5" fill="#876ba9" stroke="#876ba9" stroke-width="1"/>
<polygon points="1178.5,642.3 1196.2,689.0 1179.8,695.1 1167.1,692.1 1145.2,634.3" fill="#866aa8" stroke="#866aa8" stroke-width="1"/>
<polygon points="1134.8,526.9 1168.1,535.0 1190.0,592.7 1156.7,584.6" fill="#886caa" stroke="#886caa" stroke-width="1"/>
<polygon points="1190.0,592.7 1211.8,650.3 1178.5,642.3 1156.7,584.6" fill="#876ba9" stroke="#876ba9" stroke-width="1"/>
<polygon points="1211.8,650.3 1222.7,679.1 1196.2,689.0 1178.5,642.3" fill="#866aa8" stroke="#866aa8" stroke-width="1"/>
<polygon points="1068.3,510.6 1099.7,518.3 1074.6,527.3" fill="#54b5cf" stroke="#54b5cf" stroke-width="1"/>
<polygon points="168.8,591.6 206.5,591.2 227.8,644.2 190.1,644.7" fill="#62c3dd" stroke="#62c3dd" stroke-width="1"/>
<polygon points="227.8,644.2 249.1,697.2 211.4,697.7 190.1,644.7" fill="#5fc0da" stroke="#5fc0da" stroke-width="1"/>
<polygon points="249.1,697.2 270.5,750.2 232.7,750.8 211.4,697.7" fill="#5cbdd7" stroke="#5cbdd7" stroke-width="1"/>
<polygon points="206.5,591.2 244.1,590.7 265.5,643.7 227.8,644.2" fill="#62c3dd" stroke="#62c3dd" stroke-width="1"/>
<polygon points="265.5,643.7 286.9,696.6 249.1,697.2 227.8,644.2" fill="#5fc0da" stroke="#5fc0da" stroke-width="1"/>
<polygon points="286.9,696.6 308.3,749.6 270.5,750.2 249.1,697.2" fill="#5cbdd7" stroke="#5cbdd7" stroke-width="1"/>
<polygon points="244.1,590.7 281.8,590.3 303.2,643.2 265.5,643.7" fill="#61c2dc" stroke="#61c2dc" stroke-width="1"/>
<polygon points="303.2,643.2 324.7,696.1 286.9,696.6 265.5,643.7" fill="#5ebfd9" stroke="#5ebfd9" stroke-width="1"/>
<polygon points="324.7,696.1 346.1,749.0 308.3,749.6 286.9,696.6" fill="#5cbdd7" stroke="#5cbdd7" stroke-width="1"/>
<polygon points="383.4,749.4 359.4,749.1 380.9,743.3" fill="#8f73b1" stroke="#8f73b1" stroke-width="1"/>
<polygon points="420.7,749.8 383.4,749.4 380.9,743.3 414.4,734.2" fill="#8f73b1" stroke="#8f73b1" stroke-width="1"/>
<polygon points="447.8,725.0 458.1,750.2 420.7,749.8 414.4,734.2" fill="#8e72b0" stroke="#8e72b0" stroke-width="1"/>
<polygon points="281.8,590.3 319.0,590.8 340.5,643.7 303.2,643.2" fill="#60c1db" stroke="#60c1db" stroke-width="1"/>
<polygon points="340.5,643.7 362.0,696.6 324.7,696.1 303.2,643.2" fill="#5ebfd9" stroke="#5ebfd9" stroke-width="1"/>
<polygon points="362.0,696.6 380.9,743.3 359.4,749.1 346.1,749.0 324.7,696.1" fill="#5bbcd6" stroke="#5bbcd6" stroke-width="1"/>
<polygon points="319.0,590.8 356.2,591.4 377.7,644.2 340.5,643.7" fill="#60c1db" stroke="#60c1db" stroke-width="1"/>
<polygon points="377.7,644.2 399.2,697.0 362.0,696.6 340.5,643.7" fill="#5dbed8" stroke="#5dbed8" stroke-width="1"/>
<polygon points="399.2,697.0 414.4,734.2 380.9,743.3 362.0,696.6" fill="#5bbcd6" stroke="#5bbcd6" stroke-width="1"/>
<polygon points="356.2,591.4 393.4,592.0 415.0,644.7 377.7,644.2" fill="#5fc0da" stroke="#5fc0da" stroke-width="1"/>
<polygon points="415.0,644.7 436.5,697.5 399.2,697.0 377.7,644.2" fill="#5dbed8" stroke="#5dbed8" stroke-width="1"/>
<polygon points="436.5,697.5 447.8,725.0 414.4,734.2 399.2,697.0" fill="#5bbcd6" stroke="#5bbcd6" stroke-width="1"/>
<polygon points="494.9,751.7 458.1,750.2 447.8,725.0 480.2,715.7" fill="#8e72b0" stroke="#8e72b0" stroke-width="1"/>
<polygon points="531.7,753.1 494.9,751.7 480.2,715.7 512.6,706.4" fill="#8e72b0" stroke="#8e72b0" stroke-width="1"/>
<polygon points="545.0,697.1 546.9,701.9 530.7,701.2" fill="#8f73b1" stroke="#8f73b1" stroke-width="1"/>
<polygon points="546.9,701.9 568.6,754.5 531.7,753.1 512.6,706.4 530.7,701.2" fill="#8e72b0" stroke="#8e72b0" stroke-width="1"/>
<polygon points="393.4,592.0 430.2,593.5 451.7,646.2 415.0,644.7" fill="#5fc0da" stroke="#5fc0da" stroke-width="1"/>
<polygon points="451.7,646.2 473.3,698.9 436.5,697.5 415.0,644.7" fill="#5cbdd7" stroke="#5cbdd7" stroke-width="1"/>
<polygon points="473.3,698.9 480.2,715.7 447.8,725.0 436.5,697.5" fill="#5abbd5" stroke="#5abbd5" stroke-width="1"/>
<polygon points="430.2,593.5 466.9,595.1 488.5,647.8 451.7,646.2" fill="#5ebfd9" stroke="#5ebfd9" stroke-width="1"/>
<polygon points="488.5,647.8 510.1,700.4 473.3,698.9 451.7,646.2" fill="#5cbdd7" stroke="#5cbdd7" stroke-width="1"/>
<polygon points="510.1,700.4 512.6,706.4 480.2,715.7 473.3,698.9" fill="#5abbd5" stroke="#5abbd5" stroke-width="1"/>
<polygon points="466.9,595.1 503.6,596.7 525.2,649.3 488.5,647.8" fill="#5dbed8" stroke="#5dbed8" stroke-width="1"/>
<polygon points="525.2,649.3 545.0,697.1 530.7,701.2 510.1,700.4 488.5,647.8" fill="#5bbcd6" stroke="#5bbcd6" stroke-width="1"/>
<polygon points="530.7,701.2 512.6,706.4 510.1,700.4" fill="#5abbd5" stroke="#5abbd5" stroke-width="1"/>
<polygon points="546.9,701.9 545.0,697.1 576.3,687.7 583.2,704.3" fill="#8f73b1" stroke="#8f73b1" stroke-width="1"/>
<polygon points="604.9,756.9 568.6,754.5 546.9,701.9 583.2,704.3" fill="#8d71af" stroke="#8d71af" stroke-width="1"/>
<polygon points="583.2,704.3 576.3,687.7 607.7,678.2 619.5,706.8" fill="#8e72b0" stroke="#8e72b0" stroke-width="1"/>
<polygon points="641.2,759.3 604.9,756.9 583.2,704.3 619.5,706.8" fill="#8d71af" stroke="#8d71af" stroke-width="1"/>
<polygon points="639.0,668.7 655.8,709.2 619.5,706.8 607.7,678.2" fill="#8e72b0" stroke="#8e72b0" stroke-width="1"/>
<polygon points="655.8,709.2 677.6,761.7 641.2,759.3 619.5,706.8" fill="#8d71af" stroke="#8d71af" stroke-width="1"/>
<polygon points="503.6,596.7 539.8,599.2 561.5,651.8 525.2,649.3" fill="#5dbed8" stroke="#5dbed8" stroke-width="1"/>
<polygon points="561.5,651.8 576.3,687.7 545.0,697.1 525.2,649.3" fill="#5bbcd6" stroke="#5bbcd6" stroke-width="1"/>
<polygon points="539.8,599.2 576.1,601.7 597.8,654.3 561.5,651.8" fill="#5cbdd7" stroke="#5cbdd7" stroke-width="1"/>
<polygon points="597.8,654.3 607.7,678.2 576.3,687.7 561.5,651.8" fill="#5abbd5" stroke="#5abbd5" stroke-width="1"/>
<polygon points="576.1,601.7 612.3,604.3 634.0,656.7 597.8,654.3" fill="#5bbcd6" stroke="#5bbcd6" stroke-width="1"/>
<polygon points="634.0,656.7 639.0,668.7 607.7,678.2 597.8,654.3" fill="#5abbd5" stroke="#5abbd5" stroke-width="1"/>
<polygon points="666.8,659.9 669.4,659.1 669.8,660.2" fill="#8f73b1" stroke="#8f73b1" stroke-width="1"/>
<polygon points="655.8,709.2 639.0,668.7 666.8,659.9 669.8,660.2 691.6,712.6" fill="#8e72b0" stroke="#8e72b0" stroke-width="1"/>
<polygon points="713.4,765.0 677.6,761.7 655.8,709.2 691.6,712.6" fill="#8c70ae" stroke="#8c70ae" stroke-width="1"/>
<polygon points="669.8,660.2 669.4,659.1 699.7,649.5 705.6,663.6" fill="#8e72b0" stroke="#8e72b0" stroke-width="1"/>
<polygon points="691.6,712.6 669.8,660.2 705.6,663.6 727.4,716.0" fill="#8d71af" stroke="#8d71af" stroke-width="1"/>
<polygon points="749.2,768.4 713.4,765.0 691.6,712.6 727.4,716.0" fill="#8c70ae" stroke="#8c70ae" stroke-width="1"/>
<polygon points="730.0,639.9 741.4,667.1 705.6,663.6 699.7,649.5" fill="#8e72b0" stroke="#8e72b0" stroke-width="1"/>
<polygon points="741.4,667.1 763.2,719.4 727.4,716.0 705.6,663.6" fill="#8d71af" stroke="#8d71af" stroke-width="1"/>
<polygon points="763.2,719.4 785.1,771.7 749.2,768.4 727.4,716.0" fill="#8b6fad" stroke="#8b6fad" stroke-width="1"/>
<polygon points="612.3,604.3 648.0,607.8 669.4,659.1 666.8,659.9 634.0,656.7" fill="#5bbcd6" stroke="#5bbcd6" stroke-width="1"/>
<polygon points="666.8,659.9 639.0,668.7 634.0,656.7" fill="#5abbd5" stroke="#5abbd5" stroke-width="1"/>
<polygon points="648.0,607.8 683.8,611.3 699.7,649.5 669.4,659.1" fill="#5abbd5" stroke="#5abbd5" stroke-width="1"/>
<polygon points="683.8,611.3 719.5,614.8 730.0,639.9 699.7,649.5" fill="#5abbd5" stroke="#5abbd5" stroke-width="1"/>
<polygon points="741.4,667.1 730.0,639.9 759.3,630.0 776.7,671.5" fill="#8e72b0" stroke="#8e72b0" stroke-width="1"/>
<polygon points="763.2,719.4 741.4,667.1 776.7,671.5 798.5,723.7" fill="#8c70ae" stroke="#8c70ae" stroke-width="1"/>
<polygon points="820.4,776.0 785.1,771.7 763.2,719.4 798.5,723.7" fill="#8b6fad" stroke="#8b6fad" stroke-width="1"/>
<polygon points="781.6,622.6 790.0,623.6 812.0,675.9 776.7,671.5 759.3,630.0" fill="#8d71af" stroke="#8d71af" stroke-width="1"/>
<polygon points="812.0,675.9 833.9,728.1 798.5,723.7 776.7,671.5" fill="#8c70ae" stroke="#8c70ae" stroke-width="1"/>
<polygon points="833.9,728.1 855.8,780.3 820.4,776.0 798.5,723.7" fill="#8a6eac" stroke="#8a6eac" stroke-width="1"/>
<polygon points="790.0,623.6 825.3,628.1 847.2,680.2 812.0,675.9" fill="#8d71af" stroke="#8d71af" stroke-width="1"/>
<polygon points="847.2,680.2 869.2,732.4 833.9,728.1 812.0,675.9" fill="#8b6fad" stroke="#8b6fad" stroke-width="1"/>
<polygon points="869.2,732.4 891.1,784.6 855.8,780.3 833.9,728.1" fill="#8a6eac" stroke="#8a6eac" stroke-width="1"/>
<polygon points="719.5,614.8 754.8,619.2 759.3,630.0 730.0,639.9" fill="#59bad4" stroke="#59bad4" stroke-width="1"/>
<polygon points="754.8,619.2 781.6,622.6 759.3,630.0" fill="#59bad4" stroke="#59bad4" stroke-width="1"/>
<polygon points="960.8,795.0 937.1,791.5 956.3,784.4" fill="#a3c361" stroke="#a3c361" stroke-width="1"/>
<polygon points="984.6,774.1 995.6,800.2 960.8,795.0 956.3,784.4" fill="#a3c361" stroke="#a3c361" stroke-width="1"/>
<polygon points="825.3,628.1 860.1,633.4 882.0,685.5 847.2,680.2" fill="#8c70ae" stroke="#8c70ae" stroke-width="1"/>
<polygon points="882.0,685.5 904.0,737.7 869.2,732.4 847.2,680.2" fill="#8b6fad" stroke="#8b6fad" stroke-width="1"/>
<polygon points="904.0,737.7 926.0,789.8 891.1,784.6 869.2,732.4" fill="#896dab" stroke="#896dab" stroke-width="1"/>
<polygon points="860.1,633.4 894.8,638.7 916.8,690.8 882.0,685.5" fill="#8b6fad" stroke="#8b6fad" stroke-width="1"/>
<polygon points="916.8,690.8 938.8,742.9 904.0,737.7 882.0,685.5" fill="#8a6eac" stroke="#8a6eac" stroke-width="1"/>
<polygon points="938.8,742.9 956.3,784.4 937.1,791.5 926.0,789.8 904.0,737.7" fill="#896dab" stroke="#896dab" stroke-width="1"/>
<polygon points="894.8,638.7 929.6,644.1 951.6,696.1 916.8,690.8" fill="#8b6fad" stroke="#8b6fad" stroke-width="1"/>
<polygon points="951.6,696.1 973.6,748.2 938.8,742.9 916.8,690.8" fill="#896dab" stroke="#896dab" stroke-width="1"/>
<polygon points="973.6,748.2 984.6,774.1 956.3,784.4 938.8,742.9" fill="#896dab" stroke="#896dab" stroke-width="1"/>
<polygon points="1030.0,806.3 995.6,800.2 984.6,774.1 1011.8,763.5" fill="#a3c361" stroke="#a3c361" stroke-width="1"/>
<polygon points="1026.7,757.7 1039.1,752.9 1042.3,760.5" fill="#a3c361" stroke="#a3c361" stroke-width="1"/>
<polygon points="1064.3,812.4 1030.0,806.3 1011.8,763.5 1026.7,757.7 1042.3,760.5" fill="#a3c361" stroke="#a3c361" stroke-width="1"/>
<polygon points="1066.3,742.3 1076.6,766.6 1042.3,760.5 1039.1,752.9" fill="#a3c361" stroke="#a3c361" stroke-width="1"/>
<polygon points="1076.6,766.6 1098.7,818.5 1064.3,812.4 1042.3,760.5" fill="#a2c260" stroke="#a2c260" stroke-width="1"/>
<polygon points="929.6,644.1 963.9,650.3 985.9,702.3 951.6,696.1" fill="#8a6eac" stroke="#8a6eac" stroke-width="1"/>
<polygon points="985.9,702.3 1008.0,754.3 973.6,748.2 951.6,696.1" fill="#896dab" stroke="#896dab" stroke-width="1"/>
<polygon points="1008.0,754.3 1011.8,763.5 984.6,774.1 973.6,748.2" fill="#886caa" stroke="#886caa" stroke-width="1"/>
<polygon points="963.9,650.3 998.2,656.6 1020.2,708.5 985.9,702.3" fill="#896dab" stroke="#896dab" stroke-width="1"/>
<polygon points="1020.2,708.5 1039.1,752.9 1026.7,757.7 1008.0,754.3 985.9,702.3" fill="#886caa" stroke="#886caa" stroke-width="1"/>
<polygon points="1026.7,757.7 1011.8,763.5 1008.0,754.3" fill="#886caa" stroke="#886caa" stroke-width="1"/>
<polygon points="998.2,656.6 1032.4,662.8 1054.5,714.7 1020.2,708.5" fill="#896dab" stroke="#896dab" stroke-width="1"/>
<polygon points="1054.5,714.7 1066.3,742.3 1039.1,752.9 1020.2,708.5" fill="#886caa" stroke="#886caa" stroke-width="1"/>
<polygon points="1076.6,766.6 1066.3,742.3 1092.5,731.6 1110.4,773.6" fill="#a2c260" stroke="#a2c260" stroke-width="1"/>
<polygon points="1132.5,825.5 1098.7,818.5 1076.6,766.6 1110.4,773.6" fill="#a2c260" stroke="#a2c260" stroke-width="1"/>
<polygon points="1107.0,725.7 1118.7,720.9 1122.1,728.8" fill="#a2c260" stroke="#a2c260" stroke-width="1"/>
<polygon points="1110.4,773.6 1092.5,731.6 1107.0,725.7 1122.1,728.8 1144.3,780.7" fill="#a2c260" stroke="#a2c260" stroke-width="1"/>
<polygon points="1166.4,832.5 1132.5,825.5 1110.4,773.6 1144.3,780.7" fill="#a1c15f" stroke="#a1c15f" stroke-width="1"/>
<polygon points="1144.9,710.2 1155.9,735.9 1122.1,728.8 1118.7,720.9" fill="#a2c260" stroke="#a2c260" stroke-width="1"/>
<polygon points="1155.9,735.9 1178.1,787.7 1144.3,780.7 1122.1,728.8" fill="#a1c15f" stroke="#a1c15f" stroke-width="1"/>
<polygon points="1178.1,787.7 1200.2,839.4 1166.4,832.5 1144.3,780.7" fill="#a1c15f" stroke="#a1c15f" stroke-width="1"/>
<polygon points="1032.4,662.8 1066.2,669.9 1088.3,721.8 1054.5,714.7" fill="#886caa" stroke="#886caa" stroke-width="1"/>
<polygon points="1088.3,721.8 1092.5,731.6 1066.3,742.3 1054.5,714.7" fill="#886caa" stroke="#886caa" stroke-width="1"/>
<polygon points="1066.2,669.9 1100.0,677.0 1118.7,720.9 1107.0,725.7 1088.3,721.8" fill="#876ba9" stroke="#876ba9" stroke-width="1"/>
<polygon points="1107.0,725.7 1092.5,731.6 1088.3,721.8" fill="#876ba9" stroke="#876ba9" stroke-width="1"/>
<polygon points="1100.0,677.0 1133.8,684.1 1144.9,710.2 1118.7,720.9" fill="#876ba9" stroke="#876ba9" stroke-width="1"/>
<polygon points="1155.9,735.9 1144.9,710.2 1170.2,699.3 1189.3,743.8" fill="#a1c15f" stroke="#a1c15f" stroke-width="1"/>
<polygon points="1178.1,787.7 1155.9,735.9 1189.3,743.8 1211.4,795.5" fill="#a1c15f" stroke="#a1c15f" stroke-width="1"/>
<polygon points="1233.6,847.3 1200.2,839.4 1178.1,787.7 1211.4,795.5" fill="#a0c05e" stroke="#a0c05e" stroke-width="1"/>
<polygon points="1179.8,695.1 1200.4,700.1 1222.6,751.7 1189.3,743.8 1170.2,699.3" fill="#a1c15f" stroke="#a1c15f" stroke-width="1"/>
<polygon points="1222.6,751.7 1244.8,803.4 1211.4,795.5 1189.3,743.8" fill="#a0c05e" stroke="#a0c05e" stroke-width="1"/>
<polygon points="1244.8,803.4 1266.9,855.1 1233.6,847.3 1211.4,795.5" fill="#a0c05e" stroke="#a0c05e" stroke-width="1"/>
<polygon points="1200.4,700.1 1233.7,708.0 1255.9,759.7 1222.6,751.7" fill="#a1c15f" stroke="#a1c15f" stroke-width="1"/>
<polygon points="1255.9,759.7 1278.1,811.3 1244.8,803.4 1222.6,751.7" fill="#a0c05e" stroke="#a0c05e" stroke-width="1"/>
<polygon points="1278.1,811.3 1300.3,862.9 1266.9,855.1 1244.8,803.4" fill="#a0c05e" stroke="#a0c05e" stroke-width="1"/>
<polygon points="1133.8,684.1 1167.1,692.1 1170.2,699.3 1144.9,710.2" fill="#876ba9" stroke="#876ba9" stroke-width="1"/>
<polygon points="1167.1,692.1 1179.8,695.1 1170.2,699.3" fill="#866aa8" stroke="#866aa8" stroke-width="1"/>
<polygon points="254.1,797.4 246.7,781.3 280.4,771.7 292.0,796.8" fill="#8d71af" stroke="#8d71af" stroke-width="1"/>
<polygon points="275.5,844.0 254.1,797.4 292.0,796.8 313.4,843.3" fill="#8b6fad" stroke="#8b6fad" stroke-width="1"/>
<polygon points="334.9,889.9 296.9,890.6 275.5,844.0 313.4,843.3" fill="#896dab" stroke="#896dab" stroke-width="1"/>
<polygon points="292.0,796.8 280.4,771.7 314.1,762.2 329.8,796.1" fill="#8d71af" stroke="#8d71af" stroke-width="1"/>
<polygon points="313.4,843.3 292.0,796.8 329.8,796.1 351.4,842.7" fill="#8b6fad" stroke="#8b6fad" stroke-width="1"/>
<polygon points="372.9,889.2 334.9,889.9 313.4,843.3 351.4,842.7" fill="#896dab" stroke="#896dab" stroke-width="1"/>
<polygon points="347.8,752.7 367.7,795.5 329.8,796.1 314.1,762.2" fill="#8d71af" stroke="#8d71af" stroke-width="1"/>
<polygon points="367.7,795.5 389.3,842.0 351.4,842.7 329.8,796.1" fill="#8b6fad" stroke="#8b6fad" stroke-width="1"/>
<polygon points="389.3,842.0 410.9,888.5 372.9,889.2 351.4,842.7" fill="#896dab" stroke="#896dab" stroke-width="1"/>
<polygon points="232.7,750.8 270.5,750.2 280.4,771.7 246.7,781.3" fill="#5abbd5" stroke="#5abbd5" stroke-width="1"/>
<polygon points="270.5,750.2 308.3,749.6 314.1,762.2 280.4,771.7" fill="#5abbd5" stroke="#5abbd5" stroke-width="1"/>
<polygon points="308.3,749.6 346.1,749.0 347.8,752.7 314.1,762.2" fill="#5abbd5" stroke="#5abbd5" stroke-width="1"/>
<polygon points="359.4,749.1 383.4,749.4 405.1,795.9 367.7,795.5 347.8,752.7" fill="#8e72b0" stroke="#8e72b0" stroke-width="1"/>
<polygon points="405.1,795.9 426.7,842.3 389.3,842.0 367.7,795.5" fill="#8b6fad" stroke="#8b6fad" stroke-width="1"/>
<polygon points="426.7,842.3 448.3,888.8 410.9,888.5 389.3,842.0" fill="#896dab" stroke="#896dab" stroke-width="1"/>
<polygon points="383.4,749.4 420.7,749.8 442.4,796.2 405.1,795.9" fill="#8d71af" stroke="#8d71af" stroke-width="1"/>
<polygon points="442.4,796.2 464.1,842.6 426.7,842.3 405.1,795.9" fill="#8a6eac" stroke="#8a6eac" stroke-width="1"/>
<polygon points="464.1,842.6 485.8,889.1 448.3,888.8 426.7,842.3" fill="#896dab" stroke="#896dab" stroke-width="1"/>
<polygon points="420.7,749.8 458.1,750.2 479.8,796.6 442.4,796.2" fill="#8d71af" stroke="#8d71af" stroke-width="1"/>
<polygon points="479.8,796.6 501.5,843.0 464.1,842.6 442.4,796.2" fill="#8a6eac" stroke="#8a6eac" stroke-width="1"/>
<polygon points="501.5,843.0 523.3,889.4 485.8,889.1 464.1,842.6" fill="#896dab" stroke="#896dab" stroke-width="1"/>
<polygon points="346.1,749.0 359.4,749.1 347.8,752.7" fill="#5abbd5" stroke="#5abbd5" stroke-width="1"/>
<polygon points="458.1,750.2 494.9,751.7 516.7,798.0 479.8,796.6" fill="#8c70ae" stroke="#8c70ae" stroke-width="1"/>
<polygon points="516.7,798.0 538.5,844.3 501.5,843.0 479.8,796.6" fill="#8a6eac" stroke="#8a6eac" stroke-width="1"/>
<polygon points="538.5,844.3 560.3,890.7 523.3,889.4 501.5,843.0" fill="#886caa" stroke="#886caa" stroke-width="1"/>
<polygon points="494.9,751.7 531.7,753.1 553.6,799.4 516.7,798.0" fill="#8c70ae" stroke="#8c70ae" stroke-width="1"/>
<polygon points="553.6,799.4 575.4,845.7 538.5,844.3 516.7,798.0" fill="#8a6eac" stroke="#8a6eac" stroke-width="1"/>
<polygon points="575.4,845.7 597.2,892.0 560.3,890.7 538.5,844.3" fill="#886caa" stroke="#886caa" stroke-width="1"/>
<polygon points="531.7,753.1 568.6,754.5 590.4,800.8 553.6,799.4" fill="#8c70ae" stroke="#8c70ae" stroke-width="1"/>
<polygon points="590.4,800.8 612.3,847.0 575.4,845.7 553.6,799.4" fill="#896dab" stroke="#896dab" stroke-width="1"/>
<polygon points="612.3,847.0 634.2,893.3 597.2,892.0 575.4,845.7" fill="#886caa" stroke="#886caa" stroke-width="1"/>
<polygon points="670.7,895.6 670.0,895.5 670.5,895.3" fill="#a2c260" stroke="#a2c260" stroke-width="1"/>
<polygon points="707.1,897.9 670.7,895.6 670.5,895.3 700.8,884.5" fill="#a2c260" stroke="#a2c260" stroke-width="1"/>
<polygon points="731.0,873.7 743.6,900.2 707.1,897.9 700.8,884.5" fill="#a2c260" stroke="#a2c260" stroke-width="1"/>
<polygon points="568.6,754.5 604.9,756.9 626.8,803.1 590.4,800.8" fill="#8b6fad" stroke="#8b6fad" stroke-width="1"/>
<polygon points="626.8,803.1 648.7,849.3 612.3,847.0 590.4,800.8" fill="#896dab" stroke="#896dab" stroke-width="1"/>
<polygon points="648.7,849.3 670.5,895.3 670.0,895.5 634.2,893.3 612.3,847.0" fill="#886caa" stroke="#886caa" stroke-width="1"/>
<polygon points="604.9,756.9 641.2,759.3 663.2,805.5 626.8,803.1" fill="#8b6fad" stroke="#8b6fad" stroke-width="1"/>
<polygon points="663.2,805.5 685.2,851.7 648.7,849.3 626.8,803.1" fill="#896dab" stroke="#896dab" stroke-width="1"/>
<polygon points="685.2,851.7 700.8,884.5 670.5,895.3 648.7,849.3" fill="#886caa" stroke="#886caa" stroke-width="1"/>
<polygon points="641.2,759.3 677.6,761.7 699.6,807.8 663.2,805.5" fill="#8b6fad" stroke="#8b6fad" stroke-width="1"/>
<polygon points="699.6,807.8 721.6,854.0 685.2,851.7 663.2,805.5" fill="#896dab" stroke="#896dab" stroke-width="1"/>
<polygon points="721.6,854.0 731.0,873.7 700.8,884.5 685.2,851.7" fill="#886caa" stroke="#886caa" stroke-width="1"/>
<polygon points="779.5,903.4 743.6,900.2 731.0,873.7 760.1,862.6" fill="#a2c260" stroke="#a2c260" stroke-width="1"/>
<polygon points="770.9,858.5 789.1,851.6 793.4,860.6" fill="#a3c361" stroke="#a3c361" stroke-width="1"/>
<polygon points="815.5,906.7 779.5,903.4 760.1,862.6 770.9,858.5 793.4,860.6" fill="#a2c260" stroke="#a2c260" stroke-width="1"/>
<polygon points="818.1,840.5 829.3,863.9 793.4,860.6 789.1,851.6" fill="#a3c361" stroke="#a3c361" stroke-width="1"/>
<polygon points="829.3,863.9 851.5,909.9 815.5,906.7 793.4,860.6" fill="#a2c260" stroke="#a2c260" stroke-width="1"/>
<polygon points="677.6,761.7 713.4,765.0 735.5,811.2 699.6,807.8" fill="#8a6eac" stroke="#8a6eac" stroke-width="1"/>
<polygon points="735.5,811.2 757.5,857.3 721.6,854.0 699.6,807.8" fill="#896dab" stroke="#896dab" stroke-width="1"/>
<polygon points="757.5,857.3 760.1,862.6 731.0,873.7 721.6,854.0" fill="#886caa" stroke="#886caa" stroke-width="1"/>
<polygon points="713.4,765.0 749.2,768.4 771.3,814.5 735.5,811.2" fill="#8a6eac" stroke="#8a6eac" stroke-width="1"/>
<polygon points="771.3,814.5 789.1,851.6 770.9,858.5 757.5,857.3 735.5,811.2" fill="#886caa" stroke="#886caa" stroke-width="1"/>
<polygon points="770.9,858.5 760.1,862.6 757.5,857.3" fill="#886caa" stroke="#886caa" stroke-width="1"/>
<polygon points="749.2,768.4 785.1,771.7 807.2,817.8 771.3,814.5" fill="#8a6eac" stroke="#8a6eac" stroke-width="1"/>
<polygon points="807.2,817.8 818.1,840.5 789.1,851.6 771.3,814.5" fill="#886caa" stroke="#886caa" stroke-width="1"/>
<polygon points="829.3,863.9 818.1,840.5 846.1,829.2 864.8,868.1" fill="#a3c361" stroke="#a3c361" stroke-width="1"/>
<polygon points="886.9,914.1 851.5,909.9 829.3,863.9 864.8,868.1" fill="#a2c260" stroke="#a2c260" stroke-width="1"/>
<polygon points="859.0,824.0 873.9,818.0 878.0,826.3" fill="#a3c361" stroke="#a3c361" stroke-width="1"/>
<polygon points="864.8,868.1 846.1,829.2 859.0,824.0 878.0,826.3 900.2,872.3" fill="#a3c361" stroke="#a3c361" stroke-width="1"/>
<polygon points="922.4,918.3 886.9,914.1 864.8,868.1 900.2,872.3" fill="#a2c260" stroke="#a2c260" stroke-width="1"/>
<polygon points="901.8,806.7 913.4,830.6 878.0,826.3 873.9,818.0" fill="#a3c361" stroke="#a3c361" stroke-width="1"/>
<polygon points="913.4,830.6 935.6,876.5 900.2,872.3 878.0,826.3" fill="#a2c260" stroke="#a2c260" stroke-width="1"/>
<polygon points="935.6,876.5 957.8,922.5 922.4,918.3 900.2,872.3" fill="#a2c260" stroke="#a2c260" stroke-width="1"/>
<polygon points="785.1,771.7 820.4,776.0 842.6,822.0 807.2,817.8" fill="#896dab" stroke="#896dab" stroke-width="1"/>
<polygon points="842.6,822.0 846.1,829.2 818.1,840.5 807.2,817.8" fill="#886caa" stroke="#886caa" stroke-width="1"/>
<polygon points="820.4,776.0 855.8,780.3 873.9,818.0 859.0,824.0 842.6,822.0" fill="#896dab" stroke="#896dab" stroke-width="1"/>
<polygon points="859.0,824.0 846.1,829.2 842.6,822.0" fill="#886caa" stroke="#886caa" stroke-width="1"/>
<polygon points="855.8,780.3 891.1,784.6 901.8,806.7 873.9,818.0" fill="#896dab" stroke="#896dab" stroke-width="1"/>
<polygon points="913.4,830.6 901.8,806.7 928.6,795.2 948.2,835.7" fill="#a3c361" stroke="#a3c361" stroke-width="1"/>
<polygon points="935.6,876.5 913.4,830.6 948.2,835.7 970.5,881.7" fill="#a2c260" stroke="#a2c260" stroke-width="1"/>
<polygon points="992.8,927.6 957.8,922.5 935.6,876.5 970.5,881.7" fill="#a1c15f" stroke="#a1c15f" stroke-width="1"/>
<polygon points="937.1,791.5 960.8,795.0 983.1,840.9 948.2,835.7 928.6,795.2" fill="#a3c361" stroke="#a3c361" stroke-width="1"/>
<polygon points="983.1,840.9 1005.4,886.8 970.5,881.7 948.2,835.7" fill="#a2c260" stroke="#a2c260" stroke-width="1"/>
<polygon points="1005.4,886.8 1027.7,932.7 992.8,927.6 970.5,881.7" fill="#a1c15f" stroke="#a1c15f" stroke-width="1"/>
<polygon points="960.8,795.0 995.6,800.2 1018.0,846.1 983.1,840.9" fill="#a3c361" stroke="#a3c361" stroke-width="1"/>
<polygon points="1018.0,846.1 1040.3,892.0 1005.4,886.8 983.1,840.9" fill="#a2c260" stroke="#a2c260" stroke-width="1"/>
<polygon points="1040.3,892.0 1062.7,937.8 1027.7,932.7 1005.4,886.8" fill="#a1c15f" stroke="#a1c15f" stroke-width="1"/>
<polygon points="891.1,784.6 926.0,789.8 928.6,795.2 901.8,806.7" fill="#896dab" stroke="#896dab" stroke-width="1"/>
<polygon points="926.0,789.8 937.1,791.5 928.6,795.2" fill="#896dab" stroke="#896dab" stroke-width="1"/>
<polygon points="1159.1,941.8 1166.0,955.9 1139.3,951.2" fill="#c55552" stroke="#c55552" stroke-width="1"/>
<polygon points="995.6,800.2 1030.0,806.3 1052.4,852.2 1018.0,846.1" fill="#a2c260" stroke="#a2c260" stroke-width="1"/>
<polygon points="1052.4,852.2 1074.7,898.0 1040.3,892.0 1018.0,846.1" fill="#a2c260" stroke="#a2c260" stroke-width="1"/>
<polygon points="1074.7,898.0 1097.1,943.8 1062.7,937.8 1040.3,892.0" fill="#a1c15f" stroke="#a1c15f" stroke-width="1"/>
<polygon points="1030.0,806.3 1064.3,812.4 1086.7,858.2 1052.4,852.2" fill="#a2c260" stroke="#a2c260" stroke-width="1"/>
<polygon points="1086.7,858.2 1109.1,904.0 1074.7,898.0 1052.4,852.2" fill="#a1c15f" stroke="#a1c15f" stroke-width="1"/>
<polygon points="1109.1,904.0 1131.5,949.8 1097.1,943.8 1074.7,898.0" fill="#a1c15f" stroke="#a1c15f" stroke-width="1"/>
<polygon points="1064.3,812.4 1098.7,818.5 1121.1,864.3 1086.7,858.2" fill="#a2c260" stroke="#a2c260" stroke-width="1"/>
<polygon points="1121.1,864.3 1143.6,910.1 1109.1,904.0 1086.7,858.2" fill="#a1c15f" stroke="#a1c15f" stroke-width="1"/>
<polygon points="1143.6,910.1 1159.1,941.8 1139.3,951.2 1131.5,949.8 1109.1,904.0" fill="#a1c15f" stroke="#a1c15f" stroke-width="1"/>
<polygon points="1199.9,962.7 1166.0,955.9 1159.1,941.8 1183.6,929.4" fill="#c55552" stroke="#c55552" stroke-width="1"/>
<polygon points="1199.3,921.4 1208.0,917.0 1211.4,923.9" fill="#c55552" stroke="#c55552" stroke-width="1"/>
<polygon points="1233.8,969.6 1199.9,962.7 1183.6,929.4 1199.3,921.4 1211.4,923.9" fill="#c55552" stroke="#c55552" stroke-width="1"/>
<polygon points="1232.4,904.7 1245.3,930.8 1211.4,923.9 1208.0,917.0" fill="#c55552" stroke="#c55552" stroke-width="1"/>
<polygon points="1245.3,930.8 1267.8,976.5 1233.8,969.6 1211.4,923.9" fill="#c55552" stroke="#c55552" stroke-width="1"/>
<polygon points="1098.7,818.5 1132.5,825.5 1155.0,871.2 1121.1,864.3" fill="#a1c15f" stroke="#a1c15f" stroke-width="1"/>
<polygon points="1155.0,871.2 1177.5,917.0 1143.6,910.1 1121.1,864.3" fill="#a1c15f" stroke="#a1c15f" stroke-width="1"/>
<polygon points="1177.5,917.0 1183.6,929.4 1159.1,941.8 1143.6,910.1" fill="#a0c05e" stroke="#a0c05e" stroke-width="1"/>
<polygon points="1132.5,825.5 1166.4,832.5 1188.9,878.2 1155.0,871.2" fill="#a1c15f" stroke="#a1c15f" stroke-width="1"/>
<polygon points="1188.9,878.2 1208.0,917.0 1199.3,921.4 1177.5,917.0 1155.0,871.2" fill="#a1c15f" stroke="#a1c15f" stroke-width="1"/>
<polygon points="1199.3,921.4 1183.6,929.4 1177.5,917.0" fill="#a0c05e" stroke="#a0c05e" stroke-width="1"/>
<polygon points="1166.4,832.5 1200.2,839.4 1222.7,885.1 1188.9,878.2" fill="#a1c15f" stroke="#a1c15f" stroke-width="1"/>
<polygon points="1222.7,885.1 1232.4,904.7 1208.0,917.0 1188.9,878.2" fill="#a0c05e" stroke="#a0c05e" stroke-width="1"/>
<polygon points="1254.7,892.6 1255.7,892.1 1256.1,892.9" fill="#c55552" stroke="#c55552" stroke-width="1"/>
<polygon points="1245.3,930.8 1232.4,904.7 1254.7,892.6 1256.1,892.9 1278.7,938.6" fill="#c55552" stroke="#c55552" stroke-width="1"/>
<polygon points="1301.2,984.3 1267.8,976.5 1245.3,930.8 1278.7,938.6" fill="#c55552" stroke="#c55552" stroke-width="1"/>
<polygon points="1256.1,892.9 1255.7,892.1 1279.0,879.5 1289.5,900.7" fill="#c55552" stroke="#c55552" stroke-width="1"/>
<polygon points="1278.7,938.6 1256.1,892.9 1289.5,900.7 1312.1,946.4" fill="#c55552" stroke="#c55552" stroke-width="1"/>
<polygon points="1334.6,992.0 1301.2,984.3 1278.7,938.6 1312.1,946.4" fill="#c55552" stroke="#c55552" stroke-width="1"/>
<polygon points="1302.3,866.9 1322.9,908.5 1289.5,900.7 1279.0,879.5" fill="#c55552" stroke="#c55552" stroke-width="1"/>
<polygon points="1322.9,908.5 1345.5,954.1 1312.1,946.4 1289.5,900.7" fill="#c55552" stroke="#c55552" stroke-width="1"/>
<polygon points="1345.5,954.1 1368.1,999.7 1334.6,992.0 1312.1,946.4" fill="#c55552" stroke="#c55552" stroke-width="1"/>
<polygon points="1200.2,839.4 1233.6,847.3 1255.7,892.1 1254.7,892.6 1222.7,885.1" fill="#a0c05e" stroke="#a0c05e" stroke-width="1"/>
<polygon points="1254.7,892.6 1232.4,904.7 1222.7,885.1" fill="#a0c05e" stroke="#a0c05e" stroke-width="1"/>
<polygon points="1233.6,847.3 1266.9,855.1 1279.0,879.5 1255.7,892.1" fill="#a0c05e" stroke="#a0c05e" stroke-width="1"/>
<polygon points="1266.9,855.1 1300.3,862.9 1302.3,866.9 1279.0,879.5" fill="#a0c05e" stroke="#a0c05e" stroke-width="1"/>
<polygon points="400.0,1010.1 362.0,1010.9 394.4,999.8" fill="#9ebe5c" stroke="#9ebe5c" stroke-width="1"/>
<polygon points="438.1,1009.3 400.0,1010.1 394.4,999.8 426.9,988.6" fill="#9ebe5d" stroke="#9ebe5d" stroke-width="1"/>
<polygon points="459.4,977.5 476.3,1008.5 438.1,1009.3 426.9,988.6" fill="#9fbf5d" stroke="#9fbf5d" stroke-width="1"/>
<polygon points="296.9,890.6 334.9,889.9 356.6,930.0 318.6,930.7" fill="#886caa" stroke="#886caa" stroke-width="1"/>
<polygon points="356.6,930.0 378.3,970.0 340.2,970.8 318.6,930.7" fill="#866aa8" stroke="#866aa8" stroke-width="1"/>
<polygon points="378.3,970.0 394.4,999.8 362.0,1010.9 361.8,1010.9 340.2,970.8" fill="#8468a6" stroke="#8468a6" stroke-width="1"/>
<polygon points="334.9,889.9 372.9,889.2 394.6,929.2 356.6,930.0" fill="#886caa" stroke="#886caa" stroke-width="1"/>
<polygon points="394.6,929.2 416.4,969.2 378.3,970.0 356.6,930.0" fill="#866aa8" stroke="#866aa8" stroke-width="1"/>
<polygon points="416.4,969.2 426.9,988.6 394.4,999.8 378.3,970.0" fill="#8469a6" stroke="#8469a6" stroke-width="1"/>
<polygon points="372.9,889.2 410.9,888.5 432.7,928.5 394.6,929.2" fill="#886caa" stroke="#886caa" stroke-width="1"/>
<polygon points="432.7,928.5 454.5,968.5 416.4,969.2 394.6,929.2" fill="#866aa8" stroke="#866aa8" stroke-width="1"/>
<polygon points="454.5,968.5 459.4,977.5 426.9,988.6 416.4,969.2" fill="#8569a7" stroke="#8569a7" stroke-width="1"/>
<polygon points="483.2,968.7 490.6,965.9 492.1,968.7" fill="#a0c05e" stroke="#a0c05e" stroke-width="1"/>
<polygon points="513.9,1008.7 476.3,1008.5 459.4,977.5 483.2,968.7 492.1,968.7" fill="#9fbf5d" stroke="#9fbf5d" stroke-width="1"/>
<polygon points="492.1,968.7 490.6,965.9 521.7,954.4 529.7,969.0" fill="#a0c05e" stroke="#a0c05e" stroke-width="1"/>
<polygon points="551.6,1008.9 513.9,1008.7 492.1,968.7 529.7,969.0" fill="#9fbf5d" stroke="#9fbf5d" stroke-width="1"/>
<polygon points="552.8,943.0 567.3,969.2 529.7,969.0 521.7,954.4" fill="#a0c05e" stroke="#a0c05e" stroke-width="1"/>
<polygon points="567.3,969.2 589.3,1009.2 551.6,1008.9 529.7,969.0" fill="#9fbf5d" stroke="#9fbf5d" stroke-width="1"/>
<polygon points="410.9,888.5 448.3,888.8 470.2,928.7 432.7,928.5" fill="#876ba9" stroke="#876ba9" stroke-width="1"/>
<polygon points="470.2,928.7 490.6,965.9 483.2,968.7 454.5,968.5 432.7,928.5" fill="#866aa8" stroke="#866aa8" stroke-width="1"/>
<polygon points="483.2,968.7 459.4,977.5 454.5,968.5" fill="#8569a7" stroke="#8569a7" stroke-width="1"/>
<polygon points="448.3,888.8 485.8,889.1 507.7,929.0 470.2,928.7" fill="#876ba9" stroke="#876ba9" stroke-width="1"/>
<polygon points="507.7,929.0 521.7,954.4 490.6,965.9 470.2,928.7" fill="#866aa8" stroke="#866aa8" stroke-width="1"/>
<polygon points="485.8,889.1 523.3,889.4 545.3,929.3 507.7,929.0" fill="#876ba9" stroke="#876ba9" stroke-width="1"/>
<polygon points="545.3,929.3 552.8,943.0 521.7,954.4 507.7,929.0" fill="#866aa8" stroke="#866aa8" stroke-width="1"/>
<polygon points="567.3,969.2 552.8,943.0 582.6,931.1 604.3,970.5" fill="#a0c05e" stroke="#a0c05e" stroke-width="1"/>
<polygon points="626.4,1010.4 589.3,1009.2 567.3,969.2 604.3,970.5" fill="#9fbf5d" stroke="#9fbf5d" stroke-width="1"/>
<polygon points="583.9,930.6 612.4,919.3 619.3,931.9" fill="#a1c15f" stroke="#a1c15f" stroke-width="1"/>
<polygon points="604.3,970.5 582.6,931.1 583.9,930.6 619.3,931.9 641.4,971.8" fill="#a1c15f" stroke="#a1c15f" stroke-width="1"/>
<polygon points="663.5,1011.7 626.4,1010.4 604.3,970.5 641.4,971.8" fill="#9fbf5d" stroke="#9fbf5d" stroke-width="1"/>
<polygon points="642.1,907.5 656.3,933.2 619.3,931.9 612.4,919.3" fill="#a1c15f" stroke="#a1c15f" stroke-width="1"/>
<polygon points="656.3,933.2 678.5,973.0 641.4,971.8 619.3,931.9" fill="#a0c05e" stroke="#a0c05e" stroke-width="1"/>
<polygon points="678.5,973.0 700.7,1012.9 663.5,1011.7 641.4,971.8" fill="#9fbf5d" stroke="#9fbf5d" stroke-width="1"/>
<polygon points="523.3,889.4 560.3,890.7 582.3,930.6 545.3,929.3" fill="#876ba9" stroke="#876ba9" stroke-width="1"/>
<polygon points="582.3,930.6 582.6,931.1 552.8,943.0 545.3,929.3" fill="#866aa8" stroke="#866aa8" stroke-width="1"/>
<polygon points="560.3,890.7 597.2,892.0 612.4,919.3 583.9,930.6 582.3,930.6" fill="#876ba9" stroke="#876ba9" stroke-width="1"/>
<polygon points="583.9,930.6 582.6,931.1 582.3,930.6" fill="#866aa8" stroke="#866aa8" stroke-width="1"/>
<polygon points="597.2,892.0 634.2,893.3 642.1,907.5 612.4,919.3" fill="#876ba9" stroke="#876ba9" stroke-width="1"/>
<polygon points="670.0,895.5 670.7,895.6 692.9,935.4 656.3,933.2 642.1,907.5" fill="#a2c260" stroke="#a2c260" stroke-width="1"/>
<polygon points="692.9,935.4 715.1,975.3 678.5,973.0 656.3,933.2" fill="#a0c05e" stroke="#a0c05e" stroke-width="1"/>
<polygon points="715.1,975.3 737.3,1015.1 700.7,1012.9 678.5,973.0" fill="#9fbf5d" stroke="#9fbf5d" stroke-width="1"/>
<polygon points="670.7,895.6 707.1,897.9 729.4,937.7 692.9,935.4" fill="#a2c260" stroke="#a2c260" stroke-width="1"/>
<polygon points="729.4,937.7 751.6,977.5 715.1,975.3 692.9,935.4" fill="#a0c05e" stroke="#a0c05e" stroke-width="1"/>
<polygon points="751.6,977.5 773.9,1017.4 737.3,1015.1 715.1,975.3" fill="#9fbf5d" stroke="#9fbf5d" stroke-width="1"/>
<polygon points="707.1,897.9 743.6,900.2 765.9,940.0 729.4,937.7" fill="#a1c15f" stroke="#a1c15f" stroke-width="1"/>
<polygon points="765.9,940.0 788.2,979.8 751.6,977.5 729.4,937.7" fill="#a0c05e" stroke="#a0c05e" stroke-width="1"/>
<polygon points="788.2,979.8 810.5,1019.6 773.9,1017.4 751.6,977.5" fill="#9fbf5d" stroke="#9fbf5d" stroke-width="1"/>
<polygon points="634.2,893.3 670.0,895.5 642.1,907.5" fill="#876ba9" stroke="#876ba9" stroke-width="1"/>
<polygon points="743.6,900.2 779.5,903.4 801.9,943.2 765.9,940.0" fill="#a1c15f" stroke="#a1c15f" stroke-width="1"/>
<polygon points="801.9,943.2 824.3,983.0 788.2,979.8 765.9,940.0" fill="#a0c05e" stroke="#a0c05e" stroke-width="1"/>
<polygon points="824.3,983.0 846.6,1022.8 810.5,1019.6 788.2,979.8" fill="#9fbf5d" stroke="#9fbf5d" stroke-width="1"/>
<polygon points="779.5,903.4 815.5,906.7 837.9,946.4 801.9,943.2" fill="#a1c15f" stroke="#a1c15f" stroke-width="1"/>
<polygon points="837.9,946.4 860.3,986.2 824.3,983.0 801.9,943.2" fill="#a0c05e" stroke="#a0c05e" stroke-width="1"/>
<polygon points="860.3,986.2 882.7,1026.0 846.6,1022.8 824.3,983.0" fill="#9fbf5d" stroke="#9fbf5d" stroke-width="1"/>
<polygon points="815.5,906.7 851.5,909.9 873.9,949.7 837.9,946.4" fill="#a1c15f" stroke="#a1c15f" stroke-width="1"/>
<polygon points="873.9,949.7 896.4,989.4 860.3,986.2 837.9,946.4" fill="#a0c05e" stroke="#a0c05e" stroke-width="1"/>
<polygon points="896.4,989.4 918.8,1029.2 882.7,1026.0 860.3,986.2" fill="#9fbf5d" stroke="#9fbf5d" stroke-width="1"/>
<polygon points="990.0,1037.5 988.1,1037.2 989.5,1036.5" fill="#c35350" stroke="#c35350" stroke-width="1"/>
<polygon points="1015.2,1023.2 1025.6,1041.6 990.0,1037.5 989.5,1036.5" fill="#c35350" stroke="#c35350" stroke-width="1"/>
<polygon points="851.5,909.9 886.9,914.1 909.4,953.8 873.9,949.7" fill="#a1c15f" stroke="#a1c15f" stroke-width="1"/>
<polygon points="909.4,953.8 931.9,993.6 896.4,989.4 873.9,949.7" fill="#a0c05e" stroke="#a0c05e" stroke-width="1"/>
<polygon points="931.9,993.6 954.4,1033.3 918.8,1029.2 896.4,989.4" fill="#9fbf5d" stroke="#9fbf5d" stroke-width="1"/>
<polygon points="886.9,914.1 922.4,918.3 944.9,958.0 909.4,953.8" fill="#a1c15f" stroke="#a1c15f" stroke-width="1"/>
<polygon points="944.9,958.0 967.5,997.7 931.9,993.6 909.4,953.8" fill="#a0c05e" stroke="#a0c05e" stroke-width="1"/>
<polygon points="967.5,997.7 989.5,1036.5 988.1,1037.2 954.4,1033.3 931.9,993.6" fill="#9ebe5d" stroke="#9ebe5d" stroke-width="1"/>
<polygon points="922.4,918.3 957.8,922.5 980.4,962.2 944.9,958.0" fill="#a1c15f" stroke="#a1c15f" stroke-width="1"/>
<polygon points="980.4,962.2 1003.0,1001.9 967.5,997.7 944.9,958.0" fill="#a0c05e" stroke="#a0c05e" stroke-width="1"/>
<polygon points="1003.0,1001.9 1015.2,1023.2 989.5,1036.5 967.5,997.7" fill="#9fbf5d" stroke="#9fbf5d" stroke-width="1"/>
<polygon points="1060.7,1046.7 1025.6,1041.6 1015.2,1023.2 1039.5,1009.6" fill="#c35350" stroke="#c35350" stroke-width="1"/>
<polygon points="1042.9,1007.7 1063.8,995.9 1073.1,1012.1" fill="#c45451" stroke="#c45451" stroke-width="1"/>
<polygon points="1095.7,1051.7 1060.7,1046.7 1039.5,1009.6 1042.9,1007.7 1073.1,1012.1" fill="#c35451" stroke="#c35451" stroke-width="1"/>
<polygon points="1088.1,982.3 1108.1,1017.1 1073.1,1012.1 1063.8,995.9" fill="#c45451" stroke="#c45451" stroke-width="1"/>
<polygon points="1108.1,1017.1 1130.8,1056.8 1095.7,1051.7 1073.1,1012.1" fill="#c35351" stroke="#c35351" stroke-width="1"/>
<polygon points="957.8,922.5 992.8,927.6 1015.4,967.3 980.4,962.2" fill="#a1c15f" stroke="#a1c15f" stroke-width="1"/>
<polygon points="1015.4,967.3 1038.0,1007.0 1003.0,1001.9 980.4,962.2" fill="#a0c05e" stroke="#a0c05e" stroke-width="1"/>
<polygon points="1038.0,1007.0 1039.5,1009.6 1015.2,1023.2 1003.0,1001.9" fill="#9fbf5d" stroke="#9fbf5d" stroke-width="1"/>
<polygon points="992.8,927.6 1027.7,932.7 1050.4,972.4 1015.4,967.3" fill="#a0c05e" stroke="#a0c05e" stroke-width="1"/>
<polygon points="1050.4,972.4 1063.8,995.9 1042.9,1007.7 1038.0,1007.0 1015.4,967.3" fill="#a0c05e" stroke="#a0c05e" stroke-width="1"/>
<polygon points="1042.9,1007.7 1039.5,1009.6 1038.0,1007.0" fill="#9fbf5d" stroke="#9fbf5d" stroke-width="1"/>
<polygon points="1027.7,932.7 1062.7,937.8 1085.4,977.5 1050.4,972.4" fill="#a0c05e" stroke="#a0c05e" stroke-width="1"/>
<polygon points="1085.4,977.5 1088.1,982.3 1063.8,995.9 1050.4,972.4" fill="#a0c05e" stroke="#a0c05e" stroke-width="1"/>
<polygon points="1093.6,978.9 1111.1,968.3 1119.9,983.5" fill="#c55552" stroke="#c55552" stroke-width="1"/>
<polygon points="1108.1,1017.1 1088.1,982.3 1093.6,978.9 1119.9,983.5 1142.6,1023.1" fill="#c55552" stroke="#c55552" stroke-width="1"/>
<polygon points="1165.4,1062.8 1130.8,1056.8 1108.1,1017.1 1142.6,1023.1" fill="#c35350" stroke="#c35350" stroke-width="1"/>
<polygon points="1119.9,983.5 1111.1,968.3 1134.1,954.3 1154.3,989.5" fill="#c55552" stroke="#c55552" stroke-width="1"/>
<polygon points="1142.6,1023.1 1119.9,983.5 1154.3,989.5 1177.1,1029.1" fill="#c45451" stroke="#c45451" stroke-width="1"/>
<polygon points="1199.9,1068.7 1165.4,1062.8 1142.6,1023.1 1177.1,1029.1" fill="#c35350" stroke="#c35350" stroke-width="1"/>
<polygon points="1139.3,951.2 1166.0,955.9 1188.8,995.5 1154.3,989.5 1134.1,954.3" fill="#c55552" stroke="#c55552" stroke-width="1"/>
<polygon points="1188.8,995.5 1211.7,1035.1 1177.1,1029.1 1154.3,989.5" fill="#c45451" stroke="#c45451" stroke-width="1"/>
<polygon points="1211.7,1035.1 1234.5,1074.7 1199.9,1068.7 1177.1,1029.1" fill="#c35350" stroke="#c35350" stroke-width="1"/>
<polygon points="1062.7,937.8 1097.1,943.8 1111.1,968.3 1093.6,978.9 1085.4,977.5" fill="#a0c05e" stroke="#a0c05e" stroke-width="1"/>
<polygon points="1093.6,978.9 1088.1,982.3 1085.4,977.5" fill="#a0c05e" stroke="#a0c05e" stroke-width="1"/>
<polygon points="1097.1,943.8 1131.5,949.8 1134.1,954.3 1111.1,968.3" fill="#a0c05e" stroke="#a0c05e" stroke-width="1"/>
<polygon points="1131.5,949.8 1139.3,951.2 1134.1,954.3" fill="#a0c05e" stroke="#a0c05e" stroke-width="1"/>
<polygon points="1166.0,955.9 1199.9,962.7 1222.8,1002.3 1188.8,995.5" fill="#c55552" stroke="#c55552" stroke-width="1"/>
<polygon points="1222.8,1002.3 1245.7,1041.9 1211.7,1035.1 1188.8,995.5" fill="#c45451" stroke="#c45451" stroke-width="1"/>
<polygon points="1245.7,1041.9 1268.5,1081.5 1234.5,1074.7 1211.7,1035.1" fill="#c35350" stroke="#c35350" stroke-width="1"/>
<polygon points="1199.9,962.7 1233.8,969.6 1256.8,1009.2 1222.8,1002.3" fill="#c55552" stroke="#c55552" stroke-width="1"/>
<polygon points="1256.8,1009.2 1279.7,1048.8 1245.7,1041.9 1222.8,1002.3" fill="#c45451" stroke="#c45451" stroke-width="1"/>
<polygon points="1279.7,1048.8 1302.6,1088.4 1268.5,1081.5 1245.7,1041.9" fill="#c35350" stroke="#c35350" stroke-width="1"/>
<polygon points="1233.8,969.6 1267.8,976.5 1290.7,1016.1 1256.8,1009.2" fill="#c55552" stroke="#c55552" stroke-width="1"/>
<polygon points="1290.7,1016.1 1313.7,1055.7 1279.7,1048.8 1256.8,1009.2" fill="#c45451" stroke="#c45451" stroke-width="1"/>
<polygon points="1313.7,1055.7 1336.6,1095.2 1302.6,1088.4 1279.7,1048.8" fill="#c35350" stroke="#c35350" stroke-width="1"/>
<polygon points="1403.6,1110.6 1372.4,1103.5 1391.3,1089.5" fill="#5284c0" stroke="#5284c0" stroke-width="1"/>
<polygon points="1411.6,1074.5 1414.1,1078.8 1407.8,1077.4" fill="#5385c1" stroke="#5385c1" stroke-width="1"/>
<polygon points="1414.1,1078.8 1437.2,1118.3 1403.6,1110.6 1391.3,1089.5 1407.8,1077.4" fill="#5284c0" stroke="#5284c0" stroke-width="1"/>
<polygon points="1267.8,976.5 1301.2,984.3 1324.2,1023.8 1290.7,1016.1" fill="#c45451" stroke="#c45451" stroke-width="1"/>
<polygon points="1324.2,1023.8 1347.1,1063.4 1313.7,1055.7 1290.7,1016.1" fill="#c45451" stroke="#c45451" stroke-width="1"/>
<polygon points="1347.1,1063.4 1370.1,1102.9 1336.6,1095.2 1313.7,1055.7" fill="#c35350" stroke="#c35350" stroke-width="1"/>
<polygon points="1301.2,984.3 1334.6,992.0 1357.6,1031.5 1324.2,1023.8" fill="#c45451" stroke="#c45451" stroke-width="1"/>
<polygon points="1357.6,1031.5 1380.6,1071.1 1347.1,1063.4 1324.2,1023.8" fill="#c45451" stroke="#c45451" stroke-width="1"/>
<polygon points="1380.6,1071.1 1391.3,1089.5 1372.4,1103.5 1370.1,1102.9 1347.1,1063.4" fill="#c35350" stroke="#c35350" stroke-width="1"/>
<polygon points="1334.6,992.0 1368.1,999.7 1391.1,1039.3 1357.6,1031.5" fill="#c45451" stroke="#c45451" stroke-width="1"/>
<polygon points="1391.1,1039.3 1411.6,1074.5 1407.8,1077.4 1380.6,1071.1 1357.6,1031.5" fill="#c45451" stroke="#c45451" stroke-width="1"/>
<polygon points="1407.8,1077.4 1391.3,1089.5 1380.6,1071.1" fill="#c35350" stroke="#c35350" stroke-width="1"/>
<polygon points="362.0,1010.9 400.0,1010.1 421.9,1043.6 383.7,1044.4 361.9,1010.9" fill="#9dbd5c" stroke="#9dbd5c" stroke-width="1"/>
<polygon points="421.9,1043.6 443.9,1077.0 405.5,1077.9 383.7,1044.4" fill="#9bbb5a" stroke="#9bbb5a" stroke-width="1"/>
<polygon points="443.9,1077.0 465.8,1110.5 427.4,1111.3 405.5,1077.9" fill="#9ab958" stroke="#9ab958" stroke-width="1"/>
<polygon points="400.0,1010.1 438.1,1009.3 460.2,1042.7 421.9,1043.6" fill="#9dbd5b" stroke="#9dbd5b" stroke-width="1"/>
<polygon points="460.2,1042.7 482.2,1076.2 443.9,1077.0 421.9,1043.6" fill="#9bbb5a" stroke="#9bbb5a" stroke-width="1"/>
<polygon points="482.2,1076.2 504.2,1109.7 465.8,1110.5 443.9,1077.0" fill="#9ab958" stroke="#9ab958" stroke-width="1"/>
<polygon points="438.1,1009.3 476.3,1008.5 498.4,1041.9 460.2,1042.7" fill="#9dbd5b" stroke="#9dbd5b" stroke-width="1"/>
<polygon points="498.4,1041.9 520.5,1075.4 482.2,1076.2 460.2,1042.7" fill="#9bbb5a" stroke="#9bbb5a" stroke-width="1"/>
<polygon points="520.5,1075.4 542.6,1108.8 504.2,1109.7 482.2,1076.2" fill="#9ab959" stroke="#9ab959" stroke-width="1"/>
<polygon points="476.3,1008.5 513.9,1008.7 536.1,1042.2 498.4,1041.9" fill="#9dbd5b" stroke="#9dbd5b" stroke-width="1"/>
<polygon points="536.1,1042.2 558.3,1075.6 520.5,1075.4 498.4,1041.9" fill="#9bbb5a" stroke="#9bbb5a" stroke-width="1"/>
<polygon points="558.3,1075.6 580.4,1109.1 542.6,1108.8 520.5,1075.4" fill="#9ab959" stroke="#9ab959" stroke-width="1"/>
<polygon points="513.9,1008.7 551.6,1008.9 573.8,1042.4 536.1,1042.2" fill="#9dbd5b" stroke="#9dbd5b" stroke-width="1"/>
<polygon points="573.8,1042.4 596.1,1075.8 558.3,1075.6 536.1,1042.2" fill="#9bbb5a" stroke="#9bbb5a" stroke-width="1"/>
<polygon points="596.1,1075.8 618.3,1109.3 580.4,1109.1 558.3,1075.6" fill="#9ab959" stroke="#9ab959" stroke-width="1"/>
<polygon points="551.6,1008.9 589.3,1009.2 611.5,1042.6 573.8,1042.4" fill="#9dbd5b" stroke="#9dbd5b" stroke-width="1"/>
<polygon points="611.5,1042.6 633.8,1076.0 596.1,1075.8 573.8,1042.4" fill="#9bbb5a" stroke="#9bbb5a" stroke-width="1"/>
<polygon points="633.8,1076.0 656.1,1109.5 618.3,1109.3 596.1,1075.8" fill="#9ab959" stroke="#9ab959" stroke-width="1"/>
<polygon points="589.3,1009.2 626.4,1010.4 648.7,1043.8 611.5,1042.6" fill="#9dbd5b" stroke="#9dbd5b" stroke-width="1"/>
<polygon points="648.7,1043.8 671.1,1077.3 633.8,1076.0 611.5,1042.6" fill="#9bbb5a" stroke="#9bbb5a" stroke-width="1"/>
<polygon points="671.1,1077.3 693.5,1110.7 656.1,1109.5 633.8,1076.0" fill="#9ab959" stroke="#9ab959" stroke-width="1"/>
<polygon points="626.4,1010.4 663.5,1011.7 686.0,1045.1 648.7,1043.8" fill="#9dbd5b" stroke="#9dbd5b" stroke-width="1"/>
<polygon points="686.0,1045.1 708.4,1078.5 671.1,1077.3 648.7,1043.8" fill="#9bbb5a" stroke="#9bbb5a" stroke-width="1"/>
<polygon points="708.4,1078.5 730.8,1111.9 693.5,1110.7 671.1,1077.3" fill="#9ab959" stroke="#9ab959" stroke-width="1"/>
<polygon points="663.5,1011.7 700.7,1012.9 723.2,1046.3 686.0,1045.1" fill="#9dbd5b" stroke="#9dbd5b" stroke-width="1"/>
<polygon points="723.2,1046.3 745.6,1079.7 708.4,1078.5 686.0,1045.1" fill="#9bbb5a" stroke="#9bbb5a" stroke-width="1"/>
<polygon points="745.6,1079.7 768.1,1113.1 730.8,1111.9 708.4,1078.5" fill="#9ab959" stroke="#9ab959" stroke-width="1"/>
<polygon points="875.5,1115.3 878.6,1119.8 869.1,1119.2" fill="#bd4f4c" stroke="#bd4f4c" stroke-width="1"/>
<polygon points="700.7,1012.9 737.3,1015.1 759.8,1048.5 723.2,1046.3" fill="#9dbd5b" stroke="#9dbd5b" stroke-width="1"/>
<polygon points="759.8,1048.5 782.4,1081.9 745.6,1079.7 723.2,1046.3" fill="#9cbb5a" stroke="#9cbb5a" stroke-width="1"/>
<polygon points="782.4,1081.9 804.9,1115.3 768.1,1113.1 745.6,1079.7" fill="#9ab959" stroke="#9ab959" stroke-width="1"/>
<polygon points="737.3,1015.1 773.9,1017.4 796.5,1050.8 759.8,1048.5" fill="#9dbd5b" stroke="#9dbd5b" stroke-width="1"/>
<polygon points="796.5,1050.8 819.1,1084.2 782.4,1081.9 759.8,1048.5" fill="#9cbb5a" stroke="#9cbb5a" stroke-width="1"/>
<polygon points="819.1,1084.2 841.7,1117.6 804.9,1115.3 782.4,1081.9" fill="#9ab959" stroke="#9ab959" stroke-width="1"/>
<polygon points="773.9,1017.4 810.5,1019.6 833.2,1053.0 796.5,1050.8" fill="#9dbd5b" stroke="#9dbd5b" stroke-width="1"/>
<polygon points="833.2,1053.0 855.9,1086.4 819.1,1084.2 796.5,1050.8" fill="#9cbb5a" stroke="#9cbb5a" stroke-width="1"/>
<polygon points="855.9,1086.4 875.5,1115.3 869.1,1119.2 841.7,1117.6 819.1,1084.2" fill="#9ab959" stroke="#9ab959" stroke-width="1"/>
<polygon points="914.8,1123.0 878.6,1119.8 875.5,1115.3 899.0,1099.7" fill="#be504d" stroke="#be504d" stroke-width="1"/>
<polygon points="911.7,1091.3 922.4,1084.1 928.3,1092.8" fill="#c0514e" stroke="#c0514e" stroke-width="1"/>
<polygon points="951.1,1126.1 914.8,1123.0 899.0,1099.7 911.7,1091.3 928.3,1092.8" fill="#be504d" stroke="#be504d" stroke-width="1"/>
<polygon points="945.8,1068.5 964.5,1095.9 928.3,1092.8 922.4,1084.1" fill="#c0514e" stroke="#c0514e" stroke-width="1"/>
<polygon points="964.5,1095.9 987.4,1129.3 951.1,1126.1 928.3,1092.8" fill="#be504d" stroke="#be504d" stroke-width="1"/>
<polygon points="810.5,1019.6 846.6,1022.8 869.4,1056.2 833.2,1053.0" fill="#9dbd5b" stroke="#9dbd5b" stroke-width="1"/>
<polygon points="869.4,1056.2 892.1,1089.6 855.9,1086.4 833.2,1053.0" fill="#9cbb5a" stroke="#9cbb5a" stroke-width="1"/>
<polygon points="892.1,1089.6 899.0,1099.7 875.5,1115.3 855.9,1086.4" fill="#9aba59" stroke="#9aba59" stroke-width="1"/>
<polygon points="846.6,1022.8 882.7,1026.0 905.5,1059.4 869.4,1056.2" fill="#9dbd5b" stroke="#9dbd5b" stroke-width="1"/>
<polygon points="905.5,1059.4 922.4,1084.1 911.7,1091.3 892.1,1089.6 869.4,1056.2" fill="#9cbb5a" stroke="#9cbb5a" stroke-width="1"/>
<polygon points="911.7,1091.3 899.0,1099.7 892.1,1089.6" fill="#9bba59" stroke="#9bba59" stroke-width="1"/>
<polygon points="882.7,1026.0 918.8,1029.2 941.7,1062.6 905.5,1059.4" fill="#9dbd5b" stroke="#9dbd5b" stroke-width="1"/>
<polygon points="941.7,1062.6 945.8,1068.5 922.4,1084.1 905.5,1059.4" fill="#9cbc5a" stroke="#9cbc5a" stroke-width="1"/>
<polygon points="952.2,1063.8 967.5,1052.4 977.3,1066.7" fill="#c2524f" stroke="#c2524f" stroke-width="1"/>
<polygon points="964.5,1095.9 945.8,1068.5 952.2,1063.8 977.3,1066.7 1000.2,1100.1" fill="#c1514e" stroke="#c1514e" stroke-width="1"/>
<polygon points="1023.1,1133.5 987.4,1129.3 964.5,1095.9 1000.2,1100.1" fill="#be504d" stroke="#be504d" stroke-width="1"/>
<polygon points="988.1,1037.2 990.0,1037.5 1013.0,1070.8 977.3,1066.7 967.5,1052.4" fill="#c2524f" stroke="#c2524f" stroke-width="1"/>
<polygon points="1013.0,1070.8 1035.9,1104.2 1000.2,1100.1 977.3,1066.7" fill="#c1514e" stroke="#c1514e" stroke-width="1"/>
<polygon points="1035.9,1104.2 1058.9,1137.6 1023.1,1133.5 1000.2,1100.1" fill="#be504d" stroke="#be504d" stroke-width="1"/>
<polygon points="990.0,1037.5 1025.6,1041.6 1048.6,1075.0 1013.0,1070.8" fill="#c2524f" stroke="#c2524f" stroke-width="1"/>
<polygon points="1048.6,1075.0 1071.6,1108.4 1035.9,1104.2 1013.0,1070.8" fill="#c1514e" stroke="#c1514e" stroke-width="1"/>
<polygon points="1071.6,1108.4 1094.6,1141.7 1058.9,1137.6 1035.9,1104.2" fill="#bf504d" stroke="#bf504d" stroke-width="1"/>
<polygon points="918.8,1029.2 954.4,1033.3 967.5,1052.4 952.2,1063.8 941.7,1062.6" fill="#9dbd5b" stroke="#9dbd5b" stroke-width="1"/>
<polygon points="952.2,1063.8 945.8,1068.5 941.7,1062.6" fill="#9cbc5b" stroke="#9cbc5b" stroke-width="1"/>
<polygon points="954.4,1033.3 988.1,1037.2 967.5,1052.4" fill="#9ebd5c" stroke="#9ebd5c" stroke-width="1"/>
<polygon points="1025.6,1041.6 1060.7,1046.7 1083.7,1080.0 1048.6,1075.0" fill="#c2524f" stroke="#c2524f" stroke-width="1"/>
<polygon points="1083.7,1080.0 1106.8,1113.4 1071.6,1108.4 1048.6,1075.0" fill="#c1514e" stroke="#c1514e" stroke-width="1"/>
<polygon points="1106.8,1113.4 1129.9,1146.8 1094.6,1141.7 1071.6,1108.4" fill="#bf504d" stroke="#bf504d" stroke-width="1"/>
<polygon points="1060.7,1046.7 1095.7,1051.7 1118.9,1085.1 1083.7,1080.0" fill="#c2524f" stroke="#c2524f" stroke-width="1"/>
<polygon points="1118.9,1085.1 1142.0,1118.5 1106.8,1113.4 1083.7,1080.0" fill="#c1514e" stroke="#c1514e" stroke-width="1"/>
<polygon points="1142.0,1118.5 1165.1,1151.9 1129.9,1146.8 1106.8,1113.4" fill="#bf504d" stroke="#bf504d" stroke-width="1"/>
<polygon points="1095.7,1051.7 1130.8,1056.8 1154.0,1090.2 1118.9,1085.1" fill="#c2524f" stroke="#c2524f" stroke-width="1"/>
<polygon points="1154.0,1090.2 1177.1,1123.6 1142.0,1118.5 1118.9,1085.1" fill="#c1514e" stroke="#c1514e" stroke-width="1"/>
<polygon points="1177.1,1123.6 1200.3,1156.9 1165.1,1151.9 1142.0,1118.5" fill="#bf504d" stroke="#bf504d" stroke-width="1"/>
<polygon points="1130.8,1056.8 1165.4,1062.8 1188.6,1096.1 1154.0,1090.2" fill="#c2524f" stroke="#c2524f" stroke-width="1"/>
<polygon points="1188.6,1096.1 1211.8,1129.5 1177.1,1123.6 1154.0,1090.2" fill="#c1514e" stroke="#c1514e" stroke-width="1"/>
<polygon points="1211.8,1129.5 1235.0,1162.9 1200.3,1156.9 1177.1,1123.6" fill="#bf504d" stroke="#bf504d" stroke-width="1"/>
<polygon points="1165.4,1062.8 1199.9,1068.7 1223.2,1102.1 1188.6,1096.1" fill="#c2524f" stroke="#c2524f" stroke-width="1"/>
<polygon points="1223.2,1102.1 1246.4,1135.5 1211.8,1129.5 1188.6,1096.1" fill="#c1514e" stroke="#c1514e" stroke-width="1"/>
<polygon points="1246.4,1135.5 1269.7,1168.9 1235.0,1162.9 1211.8,1129.5" fill="#bf504d" stroke="#bf504d" stroke-width="1"/>
<polygon points="1199.9,1068.7 1234.5,1074.7 1257.8,1108.1 1223.2,1102.1" fill="#c2524f" stroke="#c2524f" stroke-width="1"/>
<polygon points="1257.8,1108.1 1281.1,1141.5 1246.4,1135.5 1223.2,1102.1" fill="#c1514e" stroke="#c1514e" stroke-width="1"/>
<polygon points="1281.1,1141.5 1304.4,1174.8 1269.7,1168.9 1246.4,1135.5" fill="#bf504d" stroke="#bf504d" stroke-width="1"/>
<polygon points="1338.5,1181.7 1307.1,1175.4 1322.6,1158.9" fill="#4f80bb" stroke="#4f80bb" stroke-width="1"/>
<polygon points="1329.8,1151.3 1339.4,1141.0 1349.3,1155.2" fill="#5082bd" stroke="#5082bd" stroke-width="1"/>
<polygon points="1372.7,1188.6 1338.5,1181.7 1322.6,1158.9 1329.8,1151.3 1349.3,1155.2" fill="#4f81bc" stroke="#4f81bc" stroke-width="1"/>
<polygon points="1356.1,1123.1 1360.0,1128.6 1352.4,1127.1" fill="#5183bf" stroke="#5183bf" stroke-width="1"/>
<polygon points="1360.0,1128.6 1383.5,1162.0 1349.3,1155.2 1339.4,1141.0 1352.4,1127.1" fill="#5182be" stroke="#5182be" stroke-width="1"/>
<polygon points="1383.5,1162.0 1406.9,1195.4 1372.7,1188.6 1349.3,1155.2" fill="#4f81bc" stroke="#4f81bc" stroke-width="1"/>
<polygon points="1234.5,1074.7 1268.5,1081.5 1291.9,1114.9 1257.8,1108.1" fill="#c2524f" stroke="#c2524f" stroke-width="1"/>
<polygon points="1291.9,1114.9 1315.2,1148.3 1281.1,1141.5 1257.8,1108.1" fill="#c1514e" stroke="#c1514e" stroke-width="1"/>
<polygon points="1315.2,1148.3 1322.6,1158.9 1307.1,1175.4 1304.4,1174.8 1281.1,1141.5" fill="#bf504d" stroke="#bf504d" stroke-width="1"/>
<polygon points="1268.5,1081.5 1302.6,1088.4 1325.9,1121.8 1291.9,1114.9" fill="#c2524f" stroke="#c2524f" stroke-width="1"/>
<polygon points="1325.9,1121.8 1339.4,1141.0 1329.8,1151.3 1315.2,1148.3 1291.9,1114.9" fill="#c1514e" stroke="#c1514e" stroke-width="1"/>
<polygon points="1329.8,1151.3 1322.6,1158.9 1315.2,1148.3" fill="#c0514e" stroke="#c0514e" stroke-width="1"/>
<polygon points="1302.6,1088.4 1336.6,1095.2 1356.1,1123.1 1352.4,1127.1 1325.9,1121.8" fill="#c2524f" stroke="#c2524f" stroke-width="1"/>
<polygon points="1352.4,1127.1 1339.4,1141.0 1325.9,1121.8" fill="#c1524f" stroke="#c1524f" stroke-width="1"/>
<polygon points="1360.0,1128.6 1356.1,1123.1 1371.4,1104.7 1393.6,1136.3" fill="#5183bf" stroke="#5183bf" stroke-width="1"/>
<polygon points="1383.5,1162.0 1360.0,1128.6 1393.6,1136.3 1417.1,1169.7" fill="#5182be" stroke="#5182be" stroke-width="1"/>
<polygon points="1440.5,1203.1 1406.9,1195.4 1383.5,1162.0 1417.1,1169.7" fill="#4f81bc" stroke="#4f81bc" stroke-width="1"/>
<polygon points="1372.4,1103.5 1403.6,1110.6 1427.2,1144.0 1393.6,1136.3 1371.4,1104.7" fill="#5183bf" stroke="#5183bf" stroke-width="1"/>
<polygon points="1427.2,1144.0 1450.7,1177.4 1417.1,1169.7 1393.6,1136.3" fill="#5182be" stroke="#5182be" stroke-width="1"/>
<polygon points="1450.7,1177.4 1474.2,1210.8 1440.5,1203.1 1417.1,1169.7" fill="#4f81bc" stroke="#4f81bc" stroke-width="1"/>
<polygon points="1403.6,1110.6 1437.2,1118.3 1460.7,1151.8 1427.2,1144.0" fill="#5183bf" stroke="#5183bf" stroke-width="1"/>
<polygon points="1460.7,1151.8 1484.3,1185.2 1450.7,1177.4 1427.2,1144.0" fill="#5182be" stroke="#5182be" stroke-width="1"/>
<polygon points="1484.3,1185.2 1507.8,1218.6 1474.2,1210.8 1450.7,1177.4" fill="#4f81bc" stroke="#4f81bc" stroke-width="1"/>
<polygon points="1336.6,1095.2 1370.1,1102.9 1371.4,1104.7 1356.1,1123.1" fill="#c25350" stroke="#c25350" stroke-width="1"/>
<polygon points="1370.1,1102.9 1372.4,1103.5 1371.4,1104.7" fill="#c35350" stroke="#c35350" stroke-width="1"/>
<polygon points="427.4,1111.3 465.8,1110.5 488.1,1137.3 449.6,1138.1" fill="#98b757" stroke="#98b757" stroke-width="1"/>
<polygon points="488.1,1137.3 510.3,1164.1 471.8,1164.9 449.6,1138.1" fill="#96b556" stroke="#96b556" stroke-width="1"/>
<polygon points="510.3,1164.1 532.6,1190.9 493.9,1191.7 471.8,1164.9" fill="#94b255" stroke="#94b255" stroke-width="1"/>
<polygon points="465.8,1110.5 504.2,1109.7 526.5,1136.5 488.1,1137.3" fill="#98b757" stroke="#98b757" stroke-width="1"/>
<polygon points="526.5,1136.5 548.9,1163.3 510.3,1164.1 488.1,1137.3" fill="#96b556" stroke="#96b556" stroke-width="1"/>
<polygon points="548.9,1163.3 571.2,1190.1 532.6,1190.9 510.3,1164.1" fill="#94b255" stroke="#94b255" stroke-width="1"/>
<polygon points="504.2,1109.7 542.6,1108.8 565.0,1135.6 526.5,1136.5" fill="#98b757" stroke="#98b757" stroke-width="1"/>
<polygon points="565.0,1135.6 587.4,1162.4 548.9,1163.3 526.5,1136.5" fill="#96b556" stroke="#96b556" stroke-width="1"/>
<polygon points="587.4,1162.4 609.8,1189.2 571.2,1190.1 548.9,1163.3" fill="#94b255" stroke="#94b255" stroke-width="1"/>
<polygon points="542.6,1108.8 580.4,1109.1 602.9,1135.9 565.0,1135.6" fill="#98b757" stroke="#98b757" stroke-width="1"/>
<polygon points="602.9,1135.9 625.4,1162.7 587.4,1162.4 565.0,1135.6" fill="#96b556" stroke="#96b556" stroke-width="1"/>
<polygon points="625.4,1162.7 647.9,1189.5 609.8,1189.2 587.4,1162.4" fill="#94b255" stroke="#94b255" stroke-width="1"/>
<polygon points="580.4,1109.1 618.3,1109.3 640.9,1136.1 602.9,1135.9" fill="#98b757" stroke="#98b757" stroke-width="1"/>
<polygon points="640.9,1136.1 663.5,1162.9 625.4,1162.7 602.9,1135.9" fill="#96b556" stroke="#96b556" stroke-width="1"/>
<polygon points="663.5,1162.9 686.0,1189.7 647.9,1189.5 625.4,1162.7" fill="#94b255" stroke="#94b255" stroke-width="1"/>
<polygon points="618.3,1109.3 656.1,1109.5 678.8,1136.3 640.9,1136.1" fill="#98b757" stroke="#98b757" stroke-width="1"/>
<polygon points="678.8,1136.3 701.5,1163.1 663.5,1162.9 640.9,1136.1" fill="#96b556" stroke="#96b556" stroke-width="1"/>
<polygon points="701.5,1163.1 724.1,1189.9 686.0,1189.7 663.5,1162.9" fill="#94b255" stroke="#94b255" stroke-width="1"/>
<polygon points="820.7,1174.8 836.8,1193.6 802.5,1192.5" fill="#b64c49" stroke="#b64c49" stroke-width="1"/>
<polygon points="656.1,1109.5 693.5,1110.7 716.2,1137.5 678.8,1136.3" fill="#98b757" stroke="#98b757" stroke-width="1"/>
<polygon points="716.2,1137.5 739.0,1164.3 701.5,1163.1 678.8,1136.3" fill="#96b556" stroke="#96b556" stroke-width="1"/>
<polygon points="739.0,1164.3 761.7,1191.1 724.1,1189.9 701.5,1163.1" fill="#94b255" stroke="#94b255" stroke-width="1"/>
<polygon points="693.5,1110.7 730.8,1111.9 753.6,1138.7 716.2,1137.5" fill="#98b757" stroke="#98b757" stroke-width="1"/>
<polygon points="753.6,1138.7 776.4,1165.6 739.0,1164.3 716.2,1137.5" fill="#96b556" stroke="#96b556" stroke-width="1"/>
<polygon points="776.4,1165.6 799.3,1192.4 761.7,1191.1 739.0,1164.3" fill="#94b255" stroke="#94b255" stroke-width="1"/>
<polygon points="730.8,1111.9 768.1,1113.1 791.0,1140.0 753.6,1138.7" fill="#98b757" stroke="#98b757" stroke-width="1"/>
<polygon points="791.0,1140.0 813.9,1166.8 776.4,1165.6 753.6,1138.7" fill="#96b556" stroke="#96b556" stroke-width="1"/>
<polygon points="813.9,1166.8 820.7,1174.8 802.5,1192.5 799.3,1192.4 776.4,1165.6" fill="#94b255" stroke="#94b255" stroke-width="1"/>
<polygon points="827.0,1167.6 838.5,1154.5 850.9,1169.0" fill="#b94d4a" stroke="#b94d4a" stroke-width="1"/>
<polygon points="873.8,1195.9 836.8,1193.6 820.7,1174.8 827.0,1167.6 850.9,1169.0" fill="#b74c49" stroke="#b74c49" stroke-width="1"/>
<polygon points="848.2,1143.4 856.1,1134.3 864.8,1144.4" fill="#bc4e4b" stroke="#bc4e4b" stroke-width="1"/>
<polygon points="850.9,1169.0 838.5,1154.5 848.2,1143.4 864.8,1144.4 887.8,1171.3" fill="#ba4e4b" stroke="#ba4e4b" stroke-width="1"/>
<polygon points="910.8,1198.1 873.8,1195.9 850.9,1169.0 887.8,1171.3" fill="#b74c49" stroke="#b74c49" stroke-width="1"/>
<polygon points="869.1,1119.2 878.6,1119.8 901.7,1146.6 864.8,1144.4 856.1,1134.3" fill="#bc4f4c" stroke="#bc4f4c" stroke-width="1"/>
<polygon points="901.7,1146.6 924.8,1173.5 887.8,1171.3 864.8,1144.4" fill="#ba4e4b" stroke="#ba4e4b" stroke-width="1"/>
<polygon points="924.8,1173.5 947.9,1200.4 910.8,1198.1 887.8,1171.3" fill="#b74c49" stroke="#b74c49" stroke-width="1"/>
<polygon points="768.1,1113.1 804.9,1115.3 827.9,1142.2 791.0,1140.0" fill="#98b758" stroke="#98b758" stroke-width="1"/>
<polygon points="827.9,1142.2 838.5,1154.5 827.0,1167.6 813.9,1166.8 791.0,1140.0" fill="#96b556" stroke="#96b556" stroke-width="1"/>
<polygon points="827.0,1167.6 820.7,1174.8 813.9,1166.8" fill="#95b455" stroke="#95b455" stroke-width="1"/>
<polygon points="804.9,1115.3 841.7,1117.6 856.1,1134.3 848.2,1143.4 827.9,1142.2" fill="#98b757" stroke="#98b757" stroke-width="1"/>
<polygon points="848.2,1143.4 838.5,1154.5 827.9,1142.2" fill="#97b657" stroke="#97b657" stroke-width="1"/>
<polygon points="841.7,1117.6 869.1,1119.2 856.1,1134.3" fill="#99b858" stroke="#99b858" stroke-width="1"/>
<polygon points="878.6,1119.8 914.8,1123.0 938.0,1149.8 901.7,1146.6" fill="#bc4f4c" stroke="#bc4f4c" stroke-width="1"/>
<polygon points="938.0,1149.8 961.2,1176.7 924.8,1173.5 901.7,1146.6" fill="#ba4e4b" stroke="#ba4e4b" stroke-width="1"/>
<polygon points="961.2,1176.7 984.3,1203.6 947.9,1200.4 924.8,1173.5" fill="#b74c49" stroke="#b74c49" stroke-width="1"/>
<polygon points="914.8,1123.0 951.1,1126.1 974.3,1153.0 938.0,1149.8" fill="#bc4f4c" stroke="#bc4f4c" stroke-width="1"/>
<polygon points="974.3,1153.0 997.6,1179.9 961.2,1176.7 938.0,1149.8" fill="#ba4e4b" stroke="#ba4e4b" stroke-width="1"/>
<polygon points="997.6,1179.9 1020.8,1206.8 984.3,1203.6 961.2,1176.7" fill="#b74c49" stroke="#b74c49" stroke-width="1"/>
<polygon points="951.1,1126.1 987.4,1129.3 1010.7,1156.2 974.3,1153.0" fill="#bc4f4c" stroke="#bc4f4c" stroke-width="1"/>
<polygon points="1010.7,1156.2 1034.0,1183.1 997.6,1179.9 974.3,1153.0" fill="#ba4e4b" stroke="#ba4e4b" stroke-width="1"/>
<polygon points="1034.0,1183.1 1057.3,1210.1 1020.8,1206.8 997.6,1179.9" fill="#b74c49" stroke="#b74c49" stroke-width="1"/>
<polygon points="987.4,1129.3 1023.1,1133.5 1046.5,1160.4 1010.7,1156.2" fill="#bc4f4c" stroke="#bc4f4c" stroke-width="1"/>
<polygon points="1046.5,1160.4 1069.9,1187.3 1034.0,1183.1 1010.7,1156.2" fill="#ba4e4b" stroke="#ba4e4b" stroke-width="1"/>
<polygon points="1069.9,1187.3 1093.2,1214.2 1057.3,1210.1 1034.0,1183.1" fill="#b74c49" stroke="#b74c49" stroke-width="1"/>
<polygon points="1023.1,1133.5 1058.9,1137.6 1082.3,1164.5 1046.5,1160.4" fill="#bc4f4c" stroke="#bc4f4c" stroke-width="1"/>
<polygon points="1082.3,1164.5 1105.7,1191.5 1069.9,1187.3 1046.5,1160.4" fill="#ba4e4b" stroke="#ba4e4b" stroke-width="1"/>
<polygon points="1105.7,1191.5 1129.2,1218.4 1093.2,1214.2 1069.9,1187.3" fill="#b74c49" stroke="#b74c49" stroke-width="1"/>
<polygon points="1058.9,1137.6 1094.6,1141.7 1118.1,1168.7 1082.3,1164.5" fill="#bc4f4c" stroke="#bc4f4c" stroke-width="1"/>
<polygon points="1118.1,1168.7 1141.6,1195.6 1105.7,1191.5 1082.3,1164.5" fill="#ba4e4b" stroke="#ba4e4b" stroke-width="1"/>
<polygon points="1141.6,1195.6 1165.1,1222.6 1129.2,1218.4 1105.7,1191.5" fill="#b74c49" stroke="#b74c49" stroke-width="1"/>
<polygon points="1094.6,1141.7 1129.9,1146.8 1153.4,1173.8 1118.1,1168.7" fill="#bc4f4c" stroke="#bc4f4c" stroke-width="1"/>
<polygon points="1153.4,1173.8 1177.0,1200.7 1141.6,1195.6 1118.1,1168.7" fill="#ba4e4b" stroke="#ba4e4b" stroke-width="1"/>
<polygon points="1177.0,1200.7 1200.5,1227.7 1165.1,1222.6 1141.6,1195.6" fill="#b74c49" stroke="#b74c49" stroke-width="1"/>
<polygon points="1129.9,1146.8 1165.1,1151.9 1188.7,1178.9 1153.4,1173.8" fill="#bc4f4c" stroke="#bc4f4c" stroke-width="1"/>
<polygon points="1188.7,1178.9 1212.3,1205.8 1177.0,1200.7 1153.4,1173.8" fill="#ba4e4b" stroke="#ba4e4b" stroke-width="1"/>
<polygon points="1212.3,1205.8 1235.9,1232.8 1200.5,1227.7 1177.0,1200.7" fill="#b74c49" stroke="#b74c49" stroke-width="1"/>
<polygon points="1165.1,1151.9 1200.3,1156.9 1224.0,1183.9 1188.7,1178.9" fill="#bc4f4c" stroke="#bc4f4c" stroke-width="1"/>
<polygon points="1224.0,1183.9 1247.6,1210.9 1212.3,1205.8 1188.7,1178.9" fill="#ba4e4b" stroke="#ba4e4b" stroke-width="1"/>
<polygon points="1247.6,1210.9 1271.3,1237.9 1235.9,1232.8 1212.3,1205.8" fill="#b74c49" stroke="#b74c49" stroke-width="1"/>
<polygon points="1306.2,1244.0 1284.0,1240.1 1289.5,1225.0" fill="#4b7ab3" stroke="#4b7ab3" stroke-width="1"/>
<polygon points="1291.9,1218.6 1298.1,1201.2 1317.2,1223.0" fill="#4c7db7" stroke="#4c7db7" stroke-width="1"/>
<polygon points="1341.0,1250.0 1306.2,1244.0 1289.5,1225.0 1291.9,1218.6 1317.2,1223.0" fill="#4b7bb4" stroke="#4b7bb4" stroke-width="1"/>
<polygon points="1306.6,1177.4 1328.2,1201.9 1299.7,1197.0" fill="#4e7eb9" stroke="#4e7eb9" stroke-width="1"/>
<polygon points="1328.2,1201.9 1352.0,1229.0 1317.2,1223.0 1298.1,1201.2 1299.7,1197.0" fill="#4d7db7" stroke="#4d7db7" stroke-width="1"/>
<polygon points="1352.0,1229.0 1375.9,1256.0 1341.0,1250.0 1317.2,1223.0" fill="#4b7bb4" stroke="#4b7bb4" stroke-width="1"/>
<polygon points="1200.3,1156.9 1235.0,1162.9 1258.7,1189.9 1224.0,1183.9" fill="#bc4f4c" stroke="#bc4f4c" stroke-width="1"/>
<polygon points="1258.7,1189.9 1282.4,1217.0 1247.6,1210.9 1224.0,1183.9" fill="#ba4e4b" stroke="#ba4e4b" stroke-width="1"/>
<polygon points="1282.4,1217.0 1289.5,1225.0 1284.0,1240.1 1271.3,1237.9 1247.6,1210.9" fill="#b74c49" stroke="#b74c49" stroke-width="1"/>
<polygon points="1235.0,1162.9 1269.7,1168.9 1293.5,1195.9 1258.7,1189.9" fill="#bc4f4c" stroke="#bc4f4c" stroke-width="1"/>
<polygon points="1293.5,1195.9 1298.1,1201.2 1291.9,1218.6 1282.4,1217.0 1258.7,1189.9" fill="#ba4e4b" stroke="#ba4e4b" stroke-width="1"/>
<polygon points="1291.9,1218.6 1289.5,1225.0 1282.4,1217.0" fill="#b84d4a" stroke="#b84d4a" stroke-width="1"/>
<polygon points="1269.7,1168.9 1304.4,1174.8 1306.6,1177.4 1299.7,1197.0 1293.5,1195.9" fill="#bd4f4c" stroke="#bd4f4c" stroke-width="1"/>
<polygon points="1299.7,1197.0 1298.1,1201.2 1293.5,1195.9" fill="#bb4e4b" stroke="#bb4e4b" stroke-width="1"/>
<polygon points="1307.1,1175.4 1338.5,1181.7 1362.4,1208.8 1328.2,1201.9 1306.6,1177.4" fill="#4e7fba" stroke="#4e7fba" stroke-width="1"/>
<polygon points="1362.4,1208.8 1386.3,1235.9 1352.0,1229.0 1328.2,1201.9" fill="#4d7db7" stroke="#4d7db7" stroke-width="1"/>
<polygon points="1386.3,1235.9 1410.2,1262.9 1375.9,1256.0 1352.0,1229.0" fill="#4b7bb4" stroke="#4b7bb4" stroke-width="1"/>
<polygon points="1338.5,1181.7 1372.7,1188.6 1396.6,1215.7 1362.4,1208.8" fill="#4e7fba" stroke="#4e7fba" stroke-width="1"/>
<polygon points="1396.6,1215.7 1420.6,1242.8 1386.3,1235.9 1362.4,1208.8" fill="#4d7db7" stroke="#4d7db7" stroke-width="1"/>
<polygon points="1420.6,1242.8 1444.5,1269.9 1410.2,1262.9 1386.3,1235.9" fill="#4b7bb4" stroke="#4b7bb4" stroke-width="1"/>
<polygon points="1372.7,1188.6 1406.9,1195.4 1430.9,1222.5 1396.6,1215.7" fill="#4e7fba" stroke="#4e7fba" stroke-width="1"/>
<polygon points="1430.9,1222.5 1454.8,1249.7 1420.6,1242.8 1396.6,1215.7" fill="#4d7db7" stroke="#4d7db7" stroke-width="1"/>
<polygon points="1454.8,1249.7 1478.8,1276.8 1444.5,1269.9 1420.6,1242.8" fill="#4b7bb4" stroke="#4b7bb4" stroke-width="1"/>
<polygon points="1304.4,1174.8 1307.1,1175.4 1306.6,1177.4" fill="#bd4f4d" stroke="#bd4f4d" stroke-width="1"/>
<polygon points="1406.9,1195.4 1440.5,1203.1 1464.6,1230.3 1430.9,1222.5" fill="#4e7fba" stroke="#4e7fba" stroke-width="1"/>
<polygon points="1464.6,1230.3 1488.6,1257.4 1454.8,1249.7 1430.9,1222.5" fill="#4d7db7" stroke="#4d7db7" stroke-width="1"/>
<polygon points="1488.6,1257.4 1512.6,1284.6 1478.8,1276.8 1454.8,1249.7" fill="#4b7bb4" stroke="#4b7bb4" stroke-width="1"/>
<polygon points="1440.5,1203.1 1474.2,1210.8 1498.2,1238.0 1464.6,1230.3" fill="#4e7fba" stroke="#4e7fba" stroke-width="1"/>
<polygon points="1498.2,1238.0 1522.3,1265.2 1488.6,1257.4 1464.6,1230.3" fill="#4d7db7" stroke="#4d7db7" stroke-width="1"/>
<polygon points="1522.3,1265.2 1546.4,1292.3 1512.6,1284.6 1488.6,1257.4" fill="#4b7bb4" stroke="#4b7bb4" stroke-width="1"/>
<polygon points="1474.2,1210.8 1507.8,1218.6 1531.9,1245.7 1498.2,1238.0" fill="#4e7fba" stroke="#4e7fba" stroke-width="1"/>
<polygon points="1531.9,1245.7 1556.0,1272.9 1522.3,1265.2 1498.2,1238.0" fill="#4d7db7" stroke="#4d7db7" stroke-width="1"/>
<polygon points="1556.0,1272.9 1580.2,1300.1 1546.4,1292.3 1522.3,1265.2" fill="#4b7bb4" stroke="#4b7bb4" stroke-width="1"/>
<polygon points="493.9,1191.7 532.6,1190.9 555.2,1210.8 516.5,1211.6" fill="#91af53" stroke="#91af53" stroke-width="1"/>
<polygon points="555.2,1210.8 577.9,1230.8 539.0,1231.5 516.5,1211.6" fill="#8fac52" stroke="#8fac52" stroke-width="1"/>
<polygon points="577.9,1230.8 600.5,1250.7 561.6,1251.5 539.0,1231.5" fill="#8ca950" stroke="#8ca950" stroke-width="1"/>
<polygon points="532.6,1190.9 571.2,1190.1 593.9,1210.0 555.2,1210.8" fill="#91af53" stroke="#91af53" stroke-width="1"/>
<polygon points="593.9,1210.0 616.7,1230.0 577.9,1230.8 555.2,1210.8" fill="#8fac52" stroke="#8fac52" stroke-width="1"/>
<polygon points="616.7,1230.0 639.4,1249.9 600.5,1250.7 577.9,1230.8" fill="#8ca950" stroke="#8ca950" stroke-width="1"/>
<polygon points="571.2,1190.1 609.8,1189.2 632.7,1209.2 593.9,1210.0" fill="#91af53" stroke="#91af53" stroke-width="1"/>
<polygon points="632.7,1209.2 655.5,1229.2 616.7,1230.0 593.9,1210.0" fill="#8fac52" stroke="#8fac52" stroke-width="1"/>
<polygon points="655.5,1229.2 678.3,1249.2 639.4,1249.9 616.7,1230.0" fill="#8ca950" stroke="#8ca950" stroke-width="1"/>
<polygon points="609.8,1189.2 647.9,1189.5 670.9,1209.5 632.7,1209.2" fill="#91af53" stroke="#91af53" stroke-width="1"/>
<polygon points="670.9,1209.5 693.8,1229.5 655.5,1229.2 632.7,1209.2" fill="#8fac52" stroke="#8fac52" stroke-width="1"/>
<polygon points="693.8,1229.5 716.7,1249.5 678.3,1249.2 655.5,1229.2" fill="#8ca950" stroke="#8ca950" stroke-width="1"/>
<polygon points="647.9,1189.5 686.0,1189.7 709.1,1209.7 670.9,1209.5" fill="#91af53" stroke="#91af53" stroke-width="1"/>
<polygon points="709.1,1209.7 732.1,1229.7 693.8,1229.5 670.9,1209.5" fill="#8fac52" stroke="#8fac52" stroke-width="1"/>
<polygon points="732.1,1229.7 755.1,1249.7 716.7,1249.5 693.8,1229.5" fill="#8ca950" stroke="#8ca950" stroke-width="1"/>
<polygon points="686.0,1189.7 724.1,1189.9 747.2,1209.9 709.1,1209.7" fill="#91af53" stroke="#91af53" stroke-width="1"/>
<polygon points="747.2,1209.9 770.3,1230.0 732.1,1229.7 709.1,1209.7" fill="#8fac52" stroke="#8fac52" stroke-width="1"/>
<polygon points="770.3,1230.0 793.4,1250.0 755.1,1249.7 732.1,1229.7" fill="#8ca950" stroke="#8ca950" stroke-width="1"/>
<polygon points="831.3,1251.4 815.8,1250.8 812.3,1234.9" fill="#ad4845" stroke="#ad4845" stroke-width="1"/>
<polygon points="807.0,1212.0 803.3,1195.9 822.5,1212.5" fill="#b34b48" stroke="#b34b48" stroke-width="1"/>
<polygon points="811.5,1231.4 807.0,1212.0 822.5,1212.5 845.8,1232.6" fill="#b14a47" stroke="#b14a47" stroke-width="1"/>
<polygon points="869.1,1252.7 831.3,1251.4 812.3,1234.9 811.5,1231.4 845.8,1232.6" fill="#ae4846" stroke="#ae4846" stroke-width="1"/>
<polygon points="802.5,1192.5 836.8,1193.6 860.2,1213.8 822.5,1212.5 803.3,1195.9" fill="#b44b48" stroke="#b44b48" stroke-width="1"/>
<polygon points="860.2,1213.8 883.5,1233.9 845.8,1232.6 822.5,1212.5" fill="#b14a47" stroke="#b14a47" stroke-width="1"/>
<polygon points="883.5,1233.9 906.9,1254.0 869.1,1252.7 845.8,1232.6" fill="#ad4846" stroke="#ad4846" stroke-width="1"/>
<polygon points="724.1,1189.9 761.7,1191.1 784.9,1211.2 747.2,1209.9" fill="#91af53" stroke="#91af53" stroke-width="1"/>
<polygon points="784.9,1211.2 808.1,1231.3 770.3,1230.0 747.2,1209.9" fill="#8fac52" stroke="#8fac52" stroke-width="1"/>
<polygon points="808.1,1231.3 812.3,1234.9 815.8,1250.8 793.4,1250.0 770.3,1230.0" fill="#8ca950" stroke="#8ca950" stroke-width="1"/>
<polygon points="761.7,1191.1 799.3,1192.4 803.3,1195.9 807.0,1212.0 784.9,1211.2" fill="#91af53" stroke="#91af53" stroke-width="1"/>
<polygon points="807.0,1212.0 811.5,1231.4 808.1,1231.3 784.9,1211.2" fill="#8fac52" stroke="#8fac52" stroke-width="1"/>
<polygon points="811.5,1231.4 812.3,1234.9 808.1,1231.3" fill="#8daa51" stroke="#8daa51" stroke-width="1"/>
<polygon points="799.3,1192.4 802.5,1192.5 803.3,1195.9" fill="#92b154" stroke="#92b154" stroke-width="1"/>
<polygon points="836.8,1193.6 873.8,1195.9 897.3,1216.0 860.2,1213.8" fill="#b44b48" stroke="#b44b48" stroke-width="1"/>
<polygon points="897.3,1216.0 920.7,1236.2 883.5,1233.9 860.2,1213.8" fill="#b14a47" stroke="#b14a47" stroke-width="1"/>
<polygon points="920.7,1236.2 944.1,1256.3 906.9,1254.0 883.5,1233.9" fill="#ad4846" stroke="#ad4846" stroke-width="1"/>
<polygon points="873.8,1195.9 910.8,1198.1 934.4,1218.3 897.3,1216.0" fill="#b44b48" stroke="#b44b48" stroke-width="1"/>
<polygon points="934.4,1218.3 957.9,1238.5 920.7,1236.2 897.3,1216.0" fill="#b14a47" stroke="#b14a47" stroke-width="1"/>
<polygon points="957.9,1238.5 981.4,1258.7 944.1,1256.3 920.7,1236.2" fill="#ad4846" stroke="#ad4846" stroke-width="1"/>
<polygon points="910.8,1198.1 947.9,1200.4 971.5,1220.6 934.4,1218.3" fill="#b44b48" stroke="#b44b48" stroke-width="1"/>
<polygon points="971.5,1220.6 995.1,1240.8 957.9,1238.5 934.4,1218.3" fill="#b14a47" stroke="#b14a47" stroke-width="1"/>
<polygon points="995.1,1240.8 1018.7,1261.0 981.4,1258.7 957.9,1238.5" fill="#ad4846" stroke="#ad4846" stroke-width="1"/>
<polygon points="947.9,1200.4 984.3,1203.6 1008.0,1223.8 971.5,1220.6" fill="#b44b48" stroke="#b44b48" stroke-width="1"/>
<polygon points="1008.0,1223.8 1031.7,1244.1 995.1,1240.8 971.5,1220.6" fill="#b14a47" stroke="#b14a47" stroke-width="1"/>
<polygon points="1031.7,1244.1 1055.4,1264.3 1018.7,1261.0 995.1,1240.8" fill="#ad4846" stroke="#ad4846" stroke-width="1"/>
<polygon points="984.3,1203.6 1020.8,1206.8 1044.6,1227.1 1008.0,1223.8" fill="#b44b48" stroke="#b44b48" stroke-width="1"/>
<polygon points="1044.6,1227.1 1068.3,1247.4 1031.7,1244.1 1008.0,1223.8" fill="#b14a47" stroke="#b14a47" stroke-width="1"/>
<polygon points="1068.3,1247.4 1092.1,1267.6 1055.4,1264.3 1031.7,1244.1" fill="#ad4846" stroke="#ad4846" stroke-width="1"/>
<polygon points="1020.8,1206.8 1057.3,1210.1 1081.1,1230.4 1044.6,1227.1" fill="#b44b48" stroke="#b44b48" stroke-width="1"/>
<polygon points="1081.1,1230.4 1105.0,1250.7 1068.3,1247.4 1044.6,1227.1" fill="#b14a47" stroke="#b14a47" stroke-width="1"/>
<polygon points="1105.0,1250.7 1128.8,1271.0 1092.1,1267.6 1068.3,1247.4" fill="#ad4846" stroke="#ad4846" stroke-width="1"/>
<polygon points="1057.3,1210.1 1093.2,1214.2 1117.1,1234.6 1081.1,1230.4" fill="#b44b48" stroke="#b44b48" stroke-width="1"/>
<polygon points="1117.1,1234.6 1141.0,1254.9 1105.0,1250.7 1081.1,1230.4" fill="#b14a47" stroke="#b14a47" stroke-width="1"/>
<polygon points="1141.0,1254.9 1164.9,1275.2 1128.8,1271.0 1105.0,1250.7" fill="#ad4846" stroke="#ad4846" stroke-width="1"/>
<polygon points="1093.2,1214.2 1129.2,1218.4 1153.1,1238.8 1117.1,1234.6" fill="#b44b48" stroke="#b44b48" stroke-width="1"/>
<polygon points="1153.1,1238.8 1177.1,1259.1 1141.0,1254.9 1117.1,1234.6" fill="#b14a47" stroke="#b14a47" stroke-width="1"/>
<polygon points="1177.1,1259.1 1201.1,1279.5 1164.9,1275.2 1141.0,1254.9" fill="#ad4846" stroke="#ad4846" stroke-width="1"/>
<polygon points="1129.2,1218.4 1165.1,1222.6 1189.2,1243.0 1153.1,1238.8" fill="#b44b48" stroke="#b44b48" stroke-width="1"/>
<polygon points="1189.2,1243.0 1213.2,1263.4 1177.1,1259.1 1153.1,1238.8" fill="#b14a47" stroke="#b14a47" stroke-width="1"/>
<polygon points="1213.2,1263.4 1237.2,1283.8 1201.1,1279.5 1177.1,1259.1" fill="#ad4846" stroke="#ad4846" stroke-width="1"/>
<polygon points="1294.0,1257.2 1295.5,1258.4 1294.6,1258.3" fill="#4978b0" stroke="#4978b0" stroke-width="1"/>
<polygon points="1295.5,1258.4 1319.8,1278.9 1304.2,1276.7 1294.6,1258.3" fill="#4977ae" stroke="#4977ae" stroke-width="1"/>
<polygon points="1319.8,1278.9 1344.0,1299.4 1313.8,1295.0 1304.2,1276.7" fill="#4775ab" stroke="#4775ab" stroke-width="1"/>
<polygon points="1165.1,1222.6 1200.5,1227.7 1224.6,1248.1 1189.2,1243.0" fill="#b44b48" stroke="#b44b48" stroke-width="1"/>
<polygon points="1224.6,1248.1 1248.7,1268.6 1213.2,1263.4 1189.2,1243.0" fill="#b14a47" stroke="#b14a47" stroke-width="1"/>
<polygon points="1248.7,1268.6 1272.8,1289.0 1237.2,1283.8 1213.2,1263.4" fill="#ad4846" stroke="#ad4846" stroke-width="1"/>
<polygon points="1200.5,1227.7 1235.9,1232.8 1260.1,1253.3 1224.6,1248.1" fill="#b44b48" stroke="#b44b48" stroke-width="1"/>
<polygon points="1260.1,1253.3 1284.3,1273.8 1248.7,1268.6 1224.6,1248.1" fill="#b14a47" stroke="#b14a47" stroke-width="1"/>
<polygon points="1284.3,1273.8 1308.4,1294.2 1272.8,1289.0 1248.7,1268.6" fill="#ad4846" stroke="#ad4846" stroke-width="1"/>
<polygon points="1235.9,1232.8 1271.3,1237.9 1294.0,1257.2 1294.6,1258.3 1260.1,1253.3" fill="#b44b48" stroke="#b44b48" stroke-width="1"/>
<polygon points="1294.6,1258.3 1304.2,1276.7 1284.3,1273.8 1260.1,1253.3" fill="#b14a47" stroke="#b14a47" stroke-width="1"/>
<polygon points="1304.2,1276.7 1313.8,1295.0 1308.4,1294.2 1284.3,1273.8" fill="#ad4846" stroke="#ad4846" stroke-width="1"/>
<polygon points="1284.0,1240.1 1306.2,1244.0 1330.5,1264.5 1295.5,1258.4 1294.0,1257.2" fill="#4a79b1" stroke="#4a79b1" stroke-width="1"/>
<polygon points="1330.5,1264.5 1354.8,1285.0 1319.8,1278.9 1295.5,1258.4" fill="#4977ae" stroke="#4977ae" stroke-width="1"/>
<polygon points="1354.8,1285.0 1379.1,1305.6 1344.0,1299.4 1319.8,1278.9" fill="#4775ab" stroke="#4775ab" stroke-width="1"/>
<polygon points="1306.2,1244.0 1341.0,1250.0 1365.4,1270.6 1330.5,1264.5" fill="#4a79b1" stroke="#4a79b1" stroke-width="1"/>
<polygon points="1365.4,1270.6 1389.8,1291.1 1354.8,1285.0 1330.5,1264.5" fill="#4977ae" stroke="#4977ae" stroke-width="1"/>
<polygon points="1389.8,1291.1 1414.1,1311.7 1379.1,1305.6 1354.8,1285.0" fill="#4775ab" stroke="#4775ab" stroke-width="1"/>
<polygon points="1341.0,1250.0 1375.9,1256.0 1400.3,1276.6 1365.4,1270.6" fill="#4a79b1" stroke="#4a79b1" stroke-width="1"/>
<polygon points="1400.3,1276.6 1424.7,1297.2 1389.8,1291.1 1365.4,1270.6" fill="#4977ae" stroke="#4977ae" stroke-width="1"/>
<polygon points="1424.7,1297.2 1449.2,1317.9 1414.1,1311.7 1389.8,1291.1" fill="#4775ab" stroke="#4775ab" stroke-width="1"/>
<polygon points="1271.3,1237.9 1284.0,1240.1 1294.0,1257.2" fill="#b44b48" stroke="#b44b48" stroke-width="1"/>
<polygon points="1375.9,1256.0 1410.2,1262.9 1434.7,1283.6 1400.3,1276.6" fill="#4a79b1" stroke="#4a79b1" stroke-width="1"/>
<polygon points="1434.7,1283.6 1459.2,1304.2 1424.7,1297.2 1400.3,1276.6" fill="#4977ae" stroke="#4977ae" stroke-width="1"/>
<polygon points="1459.2,1304.2 1483.7,1324.9 1449.2,1317.9 1424.7,1297.2" fill="#4775ab" stroke="#4775ab" stroke-width="1"/>
<polygon points="1410.2,1262.9 1444.5,1269.9 1469.1,1290.5 1434.7,1283.6" fill="#4a79b1" stroke="#4a79b1" stroke-width="1"/>
<polygon points="1469.1,1290.5 1493.6,1311.2 1459.2,1304.2 1434.7,1283.6" fill="#4977ae" stroke="#4977ae" stroke-width="1"/>
<polygon points="1493.6,1311.2 1518.2,1331.9 1483.7,1324.9 1459.2,1304.2" fill="#4775ab" stroke="#4775ab" stroke-width="1"/>
<polygon points="1444.5,1269.9 1478.8,1276.8 1503.4,1297.5 1469.1,1290.5" fill="#4a79b1" stroke="#4a79b1" stroke-width="1"/>
<polygon points="1503.4,1297.5 1528.0,1318.2 1493.6,1311.2 1469.1,1290.5" fill="#4977ae" stroke="#4977ae" stroke-width="1"/>
<polygon points="1528.0,1318.2 1552.6,1338.9 1518.2,1331.9 1493.6,1311.2" fill="#4775ab" stroke="#4775ab" stroke-width="1"/>
<polygon points="1478.8,1276.8 1512.6,1284.6 1537.3,1305.3 1503.4,1297.5" fill="#4a79b1" stroke="#4a79b1" stroke-width="1"/>
<polygon points="1537.3,1305.3 1561.9,1326.1 1528.0,1318.2 1503.4,1297.5" fill="#4977ae" stroke="#4977ae" stroke-width="1"/>
<polygon points="1561.9,1326.1 1586.6,1346.8 1552.6,1338.9 1528.0,1318.2" fill="#4775ab" stroke="#4775ab" stroke-width="1"/>
<polygon points="1512.6,1284.6 1546.4,1292.3 1571.1,1313.1 1537.3,1305.3" fill="#4a79b1" stroke="#4a79b1" stroke-width="1"/>
<polygon points="1571.1,1313.1 1595.8,1333.9 1561.9,1326.1 1537.3,1305.3" fill="#4977ae" stroke="#4977ae" stroke-width="1"/>
<polygon points="1595.8,1333.9 1620.5,1354.7 1586.6,1346.8 1561.9,1326.1" fill="#4775ab" stroke="#4775ab" stroke-width="1"/>
<polygon points="1546.4,1292.3 1580.2,1300.1 1604.9,1321.0 1571.1,1313.1" fill="#4a79b1" stroke="#4a79b1" stroke-width="1"/>
<polygon points="1604.9,1321.0 1629.7,1341.8 1595.8,1333.9 1571.1,1313.1" fill="#4977ae" stroke="#4977ae" stroke-width="1"/>
<polygon points="1629.7,1341.8 1654.5,1362.7 1620.5,1354.7 1595.8,1333.9" fill="#4775ab" stroke="#4775ab" stroke-width="1"/>
<polygon points="561.6,1251.5 600.5,1250.7 623.6,1263.6 584.6,1264.3" fill="#89a64f" stroke="#89a64f" stroke-width="1"/>
<polygon points="623.6,1263.6 646.7,1276.5 607.6,1277.2 584.6,1264.3" fill="#87a34d" stroke="#87a34d" stroke-width="1"/>
<polygon points="646.7,1276.5 669.8,1289.4 630.5,1290.1 607.6,1277.2" fill="#85a04c" stroke="#85a04c" stroke-width="1"/>
<polygon points="600.5,1250.7 639.4,1249.9 662.6,1262.9 623.6,1263.6" fill="#89a64f" stroke="#89a64f" stroke-width="1"/>
<polygon points="662.6,1262.9 685.8,1275.8 646.7,1276.5 623.6,1263.6" fill="#87a34d" stroke="#87a34d" stroke-width="1"/>
<polygon points="685.8,1275.8 709.0,1288.8 669.8,1289.4 646.7,1276.5" fill="#85a04c" stroke="#85a04c" stroke-width="1"/>
<polygon points="639.4,1249.9 678.3,1249.2 701.6,1262.1 662.6,1262.9" fill="#89a64f" stroke="#89a64f" stroke-width="1"/>
<polygon points="701.6,1262.1 725.0,1275.1 685.8,1275.8 662.6,1262.9" fill="#87a34d" stroke="#87a34d" stroke-width="1"/>
<polygon points="725.0,1275.1 748.3,1288.1 709.0,1288.8 685.8,1275.8" fill="#85a04c" stroke="#85a04c" stroke-width="1"/>
<polygon points="678.3,1249.2 716.7,1249.5 740.1,1262.5 701.6,1262.1" fill="#89a64f" stroke="#89a64f" stroke-width="1"/>
<polygon points="740.1,1262.5 763.5,1275.5 725.0,1275.1 701.6,1262.1" fill="#87a34d" stroke="#87a34d" stroke-width="1"/>
<polygon points="763.5,1275.5 786.9,1288.5 748.3,1288.1 725.0,1275.1" fill="#85a04c" stroke="#85a04c" stroke-width="1"/>
<polygon points="716.7,1249.5 755.1,1249.7 778.6,1262.8 740.1,1262.5" fill="#89a64f" stroke="#89a64f" stroke-width="1"/>
<polygon points="778.6,1262.8 802.1,1275.9 763.5,1275.5 740.1,1262.5" fill="#87a34d" stroke="#87a34d" stroke-width="1"/>
<polygon points="802.1,1275.9 825.6,1288.9 786.9,1288.5 763.5,1275.5" fill="#85a04c" stroke="#85a04c" stroke-width="1"/>
<polygon points="755.1,1249.7 793.4,1250.0 817.1,1263.1 778.6,1262.8" fill="#89a64f" stroke="#89a64f" stroke-width="1"/>
<polygon points="817.1,1263.1 840.7,1276.2 802.1,1275.9 778.6,1262.8" fill="#87a34d" stroke="#87a34d" stroke-width="1"/>
<polygon points="840.7,1276.2 864.3,1289.3 825.6,1288.9 802.1,1275.9" fill="#85a04c" stroke="#85a04c" stroke-width="1"/>
<polygon points="815.8,1250.8 831.3,1251.4 855.0,1264.5 849.9,1264.3" fill="#aa4744" stroke="#aa4744" stroke-width="1"/>
<polygon points="855.0,1264.5 866.4,1270.9 849.9,1264.3" fill="#a84643" stroke="#a84643" stroke-width="1"/>
<polygon points="831.3,1251.4 869.1,1252.7 892.9,1265.9 855.0,1264.5" fill="#aa4744" stroke="#aa4744" stroke-width="1"/>
<polygon points="892.9,1265.9 916.7,1279.1 884.1,1277.8 866.4,1270.9 855.0,1264.5" fill="#a74643" stroke="#a74643" stroke-width="1"/>
<polygon points="916.7,1279.1 940.5,1292.2 918.3,1291.4 884.1,1277.8" fill="#a44542" stroke="#a44542" stroke-width="1"/>
<polygon points="869.1,1252.7 906.9,1254.0 930.8,1267.2 892.9,1265.9" fill="#aa4744" stroke="#aa4744" stroke-width="1"/>
<polygon points="930.8,1267.2 954.7,1280.5 916.7,1279.1 892.9,1265.9" fill="#a74643" stroke="#a74643" stroke-width="1"/>
<polygon points="954.7,1280.5 978.6,1293.7 940.5,1292.2 916.7,1279.1" fill="#a44542" stroke="#a44542" stroke-width="1"/>
<polygon points="793.4,1250.0 815.8,1250.8 849.9,1264.3 817.1,1263.1" fill="#89a64f" stroke="#89a64f" stroke-width="1"/>
<polygon points="849.9,1264.3 866.4,1270.9 878.7,1277.6 840.7,1276.2 817.1,1263.1" fill="#87a34d" stroke="#87a34d" stroke-width="1"/>
<polygon points="878.7,1277.6 902.4,1290.8 864.3,1289.3 840.7,1276.2" fill="#85a04c" stroke="#85a04c" stroke-width="1"/>
<polygon points="866.4,1270.9 884.1,1277.8 878.7,1277.6" fill="#86a24d" stroke="#86a24d" stroke-width="1"/>
<polygon points="884.1,1277.8 918.3,1291.4 902.4,1290.8 878.7,1277.6" fill="#85a04c" stroke="#85a04c" stroke-width="1"/>
<polygon points="906.9,1254.0 944.1,1256.3 968.1,1269.6 930.8,1267.2" fill="#aa4744" stroke="#aa4744" stroke-width="1"/>
<polygon points="968.1,1269.6 992.1,1282.9 954.7,1280.5 930.8,1267.2" fill="#a74643" stroke="#a74643" stroke-width="1"/>
<polygon points="992.1,1282.9 1016.1,1296.2 978.6,1293.7 954.7,1280.5" fill="#a44542" stroke="#a44542" stroke-width="1"/>
<polygon points="944.1,1256.3 981.4,1258.7 1005.5,1272.0 968.1,1269.6" fill="#aa4744" stroke="#aa4744" stroke-width="1"/>
<polygon points="1005.5,1272.0 1029.6,1285.3 992.1,1282.9 968.1,1269.6" fill="#a74643" stroke="#a74643" stroke-width="1"/>
<polygon points="1029.6,1285.3 1053.6,1298.6 1016.1,1296.2 992.1,1282.9" fill="#a44542" stroke="#a44542" stroke-width="1"/>
<polygon points="981.4,1258.7 1018.7,1261.0 1042.8,1274.4 1005.5,1272.0" fill="#aa4744" stroke="#aa4744" stroke-width="1"/>
<polygon points="1042.8,1274.4 1067.0,1287.7 1029.6,1285.3 1005.5,1272.0" fill="#a74643" stroke="#a74643" stroke-width="1"/>
<polygon points="1067.0,1287.7 1091.2,1301.1 1053.6,1298.6 1029.6,1285.3" fill="#a44542" stroke="#a44542" stroke-width="1"/>
<polygon points="1018.7,1261.0 1055.4,1264.3 1079.6,1277.7 1042.8,1274.4" fill="#aa4744" stroke="#aa4744" stroke-width="1"/>
<polygon points="1079.6,1277.7 1103.9,1291.1 1067.0,1287.7 1042.8,1274.4" fill="#a74643" stroke="#a74643" stroke-width="1"/>
<polygon points="1103.9,1291.1 1128.1,1304.6 1091.2,1301.1 1067.0,1287.7" fill="#a44542" stroke="#a44542" stroke-width="1"/>
<polygon points="1055.4,1264.3 1092.1,1267.6 1116.4,1281.1 1079.6,1277.7" fill="#aa4744" stroke="#aa4744" stroke-width="1"/>
<polygon points="1116.4,1281.1 1140.8,1294.6 1103.9,1291.1 1079.6,1277.7" fill="#a74643" stroke="#a74643" stroke-width="1"/>
<polygon points="1140.8,1294.6 1165.1,1308.0 1128.1,1304.6 1103.9,1291.1" fill="#a44542" stroke="#a44542" stroke-width="1"/>
<polygon points="1092.1,1267.6 1128.8,1271.0 1153.2,1284.5 1116.4,1281.1" fill="#aa4744" stroke="#aa4744" stroke-width="1"/>
<polygon points="1153.2,1284.5 1177.6,1298.0 1140.8,1294.6 1116.4,1281.1" fill="#a74643" stroke="#a74643" stroke-width="1"/>
<polygon points="1177.6,1298.0 1202.1,1311.5 1165.1,1308.0 1140.8,1294.6" fill="#a44542" stroke="#a44542" stroke-width="1"/>
<polygon points="1128.8,1271.0 1164.9,1275.2 1189.4,1288.8 1153.2,1284.5" fill="#aa4744" stroke="#aa4744" stroke-width="1"/>
<polygon points="1189.4,1288.8 1213.9,1302.4 1177.6,1298.0 1153.2,1284.5" fill="#a74643" stroke="#a74643" stroke-width="1"/>
<polygon points="1213.9,1302.4 1238.5,1315.9 1202.1,1311.5 1177.6,1298.0" fill="#a44542" stroke="#a44542" stroke-width="1"/>
<polygon points="1164.9,1275.2 1201.1,1279.5 1225.7,1293.1 1189.4,1288.8" fill="#aa4744" stroke="#aa4744" stroke-width="1"/>
<polygon points="1225.7,1293.1 1250.3,1306.7 1213.9,1302.4 1189.4,1288.8" fill="#a74643" stroke="#a74643" stroke-width="1"/>
<polygon points="1250.3,1306.7 1274.8,1320.4 1238.5,1315.9 1213.9,1302.4" fill="#a44542" stroke="#a44542" stroke-width="1"/>
<polygon points="1201.1,1279.5 1237.2,1283.8 1261.9,1297.5 1225.7,1293.1" fill="#aa4744" stroke="#aa4744" stroke-width="1"/>
<polygon points="1261.9,1297.5 1286.6,1311.1 1250.3,1306.7 1225.7,1293.1" fill="#a74643" stroke="#a74643" stroke-width="1"/>
<polygon points="1286.6,1311.1 1311.2,1324.8 1274.8,1320.4 1250.3,1306.7" fill="#a44542" stroke="#a44542" stroke-width="1"/>
<polygon points="1313.8,1295.0 1344.0,1299.4 1368.9,1313.3 1343.0,1309.4" fill="#4672a8" stroke="#4672a8" stroke-width="1"/>
<polygon points="1368.9,1313.3 1393.8,1327.1 1372.3,1323.9 1343.0,1309.4" fill="#4570a4" stroke="#4570a4" stroke-width="1"/>
<polygon points="1393.8,1327.1 1418.7,1340.9 1401.6,1338.4 1372.3,1323.9" fill="#446fa2" stroke="#446fa2" stroke-width="1"/>
<polygon points="1237.2,1283.8 1272.8,1289.0 1297.6,1302.7 1261.9,1297.5" fill="#aa4744" stroke="#aa4744" stroke-width="1"/>
<polygon points="1297.6,1302.7 1322.3,1316.5 1286.6,1311.1 1261.9,1297.5" fill="#a74643" stroke="#a74643" stroke-width="1"/>
<polygon points="1322.3,1316.5 1347.1,1330.2 1311.2,1324.8 1286.6,1311.1" fill="#a44542" stroke="#a44542" stroke-width="1"/>
<polygon points="1272.8,1289.0 1308.4,1294.2 1333.3,1308.0 1297.6,1302.7" fill="#aa4744" stroke="#aa4744" stroke-width="1"/>
<polygon points="1333.3,1308.0 1358.1,1321.8 1322.3,1316.5 1297.6,1302.7" fill="#a74643" stroke="#a74643" stroke-width="1"/>
<polygon points="1358.1,1321.8 1382.9,1335.6 1347.1,1330.2 1322.3,1316.5" fill="#a44542" stroke="#a44542" stroke-width="1"/>
<polygon points="1308.4,1294.2 1313.8,1295.0 1343.0,1309.4 1333.3,1308.0" fill="#aa4744" stroke="#aa4744" stroke-width="1"/>
<polygon points="1343.0,1309.4 1372.3,1323.9 1358.1,1321.8 1333.3,1308.0" fill="#a74643" stroke="#a74643" stroke-width="1"/>
<polygon points="1372.3,1323.9 1401.6,1338.4 1382.9,1335.6 1358.1,1321.8" fill="#a44542" stroke="#a44542" stroke-width="1"/>
<polygon points="1344.0,1299.4 1379.1,1305.6 1404.0,1319.5 1368.9,1313.3" fill="#4672a8" stroke="#4672a8" stroke-width="1"/>
<polygon points="1404.0,1319.5 1429.0,1333.4 1393.8,1327.1 1368.9,1313.3" fill="#4570a4" stroke="#4570a4" stroke-width="1"/>
<polygon points="1429.0,1333.4 1454.0,1347.2 1418.7,1340.9 1393.8,1327.1" fill="#446fa2" stroke="#446fa2" stroke-width="1"/>
<polygon points="1379.1,1305.6 1414.1,1311.7 1439.2,1325.7 1404.0,1319.5" fill="#4672a8" stroke="#4672a8" stroke-width="1"/>
<polygon points="1439.2,1325.7 1464.2,1339.6 1429.0,1333.4 1404.0,1319.5" fill="#4570a4" stroke="#4570a4" stroke-width="1"/>
<polygon points="1464.2,1339.6 1489.2,1353.5 1454.0,1347.2 1429.0,1333.4" fill="#446fa2" stroke="#446fa2" stroke-width="1"/>
<polygon points="1414.1,1311.7 1449.2,1317.9 1474.3,1331.9 1439.2,1325.7" fill="#4672a8" stroke="#4672a8" stroke-width="1"/>
<polygon points="1474.3,1331.9 1499.4,1345.8 1464.2,1339.6 1439.2,1325.7" fill="#4570a4" stroke="#4570a4" stroke-width="1"/>
<polygon points="1499.4,1345.8 1524.5,1359.8 1489.2,1353.5 1464.2,1339.6" fill="#446fa2" stroke="#446fa2" stroke-width="1"/>
<polygon points="1449.2,1317.9 1483.7,1324.9 1508.8,1338.9 1474.3,1331.9" fill="#4672a8" stroke="#4672a8" stroke-width="1"/>
<polygon points="1508.8,1338.9 1534.0,1353.0 1499.4,1345.8 1474.3,1331.9" fill="#4570a4" stroke="#4570a4" stroke-width="1"/>
<polygon points="1534.0,1353.0 1559.2,1367.0 1524.5,1359.8 1499.4,1345.8" fill="#446fa2" stroke="#446fa2" stroke-width="1"/>
<polygon points="1483.7,1324.9 1518.2,1331.9 1543.4,1346.0 1508.8,1338.9" fill="#4672a8" stroke="#4672a8" stroke-width="1"/>
<polygon points="1543.4,1346.0 1568.6,1360.1 1534.0,1353.0 1508.8,1338.9" fill="#4570a4" stroke="#4570a4" stroke-width="1"/>
<polygon points="1568.6,1360.1 1593.9,1374.3 1559.2,1367.0 1534.0,1353.0" fill="#446fa2" stroke="#446fa2" stroke-width="1"/>
<polygon points="1518.2,1331.9 1552.6,1338.9 1578.0,1353.1 1543.4,1346.0" fill="#4672a8" stroke="#4672a8" stroke-width="1"/>
<polygon points="1578.0,1353.1 1603.3,1367.3 1568.6,1360.1 1543.4,1346.0" fill="#4570a4" stroke="#4570a4" stroke-width="1"/>
<polygon points="1603.3,1367.3 1628.6,1381.5 1593.9,1374.3 1568.6,1360.1" fill="#446fa2" stroke="#446fa2" stroke-width="1"/>
<polygon points="1552.6,1338.9 1586.6,1346.8 1612.0,1361.1 1578.0,1353.1" fill="#4672a8" stroke="#4672a8" stroke-width="1"/>
<polygon points="1612.0,1361.1 1637.3,1375.3 1603.3,1367.3 1578.0,1353.1" fill="#4570a4" stroke="#4570a4" stroke-width="1"/>
<polygon points="1637.3,1375.3 1662.7,1389.5 1628.6,1381.5 1603.3,1367.3" fill="#446fa2" stroke="#446fa2" stroke-width="1"/>
<polygon points="1586.6,1346.8 1620.5,1354.7 1646.0,1369.0 1612.0,1361.1" fill="#4672a8" stroke="#4672a8" stroke-width="1"/>
<polygon points="1646.0,1369.0 1671.4,1383.3 1637.3,1375.3 1612.0,1361.1" fill="#4570a4" stroke="#4570a4" stroke-width="1"/>
<polygon points="1671.4,1383.3 1696.8,1397.6 1662.7,1389.5 1637.3,1375.3" fill="#446fa2" stroke="#446fa2" stroke-width="1"/>
<polygon points="1620.5,1354.7 1654.5,1362.7 1680.0,1377.0 1646.0,1369.0" fill="#4672a8" stroke="#4672a8" stroke-width="1"/>
<polygon points="1680.0,1377.0 1705.5,1391.3 1671.4,1383.3 1646.0,1369.0" fill="#4570a4" stroke="#4570a4" stroke-width="1"/>
<polygon points="1705.5,1391.3 1731.0,1405.7 1696.8,1397.6 1671.4,1383.3" fill="#446fa2" stroke="#446fa2" stroke-width="1"/>
<polygon points="630.5,1290.1 669.8,1289.4 693.4,1295.0 654.0,1295.6" fill="#839e4b" stroke="#839e4b" stroke-width="1"/>
<polygon points="693.4,1295.0 717.0,1300.7 677.5,1301.2 654.0,1295.6" fill="#819b4a" stroke="#819b4a" stroke-width="1"/>
<polygon points="717.0,1300.7 740.6,1306.3 701.0,1306.8 677.5,1301.2" fill="#819b4a" stroke="#819b4a" stroke-width="1"/>
<polygon points="669.8,1289.4 709.0,1288.8 732.8,1294.4 693.4,1295.0" fill="#839e4b" stroke="#839e4b" stroke-width="1"/>
<polygon points="732.8,1294.4 756.5,1300.1 717.0,1300.7 693.4,1295.0" fill="#819b4a" stroke="#819b4a" stroke-width="1"/>
<polygon points="756.5,1300.1 780.2,1305.8 740.6,1306.3 717.0,1300.7" fill="#819b4a" stroke="#819b4a" stroke-width="1"/>
<polygon points="709.0,1288.8 748.3,1288.1 772.1,1293.8 732.8,1294.4" fill="#839e4b" stroke="#839e4b" stroke-width="1"/>
<polygon points="772.1,1293.8 796.0,1299.6 756.5,1300.1 732.8,1294.4" fill="#819b4a" stroke="#819b4a" stroke-width="1"/>
<polygon points="796.0,1299.6 819.8,1305.3 780.2,1305.8 756.5,1300.1" fill="#819b4a" stroke="#819b4a" stroke-width="1"/>
<polygon points="748.3,1288.1 786.9,1288.5 810.9,1294.3 772.1,1293.8" fill="#839e4b" stroke="#839e4b" stroke-width="1"/>
<polygon points="810.9,1294.3 834.9,1300.1 796.0,1299.6 772.1,1293.8" fill="#819b4a" stroke="#819b4a" stroke-width="1"/>
<polygon points="834.9,1300.1 858.8,1305.9 819.8,1305.3 796.0,1299.6" fill="#819b4a" stroke="#819b4a" stroke-width="1"/>
<polygon points="786.9,1288.5 825.6,1288.9 849.7,1294.8 810.9,1294.3" fill="#839e4b" stroke="#839e4b" stroke-width="1"/>
<polygon points="849.7,1294.8 873.8,1300.6 834.9,1300.1 810.9,1294.3" fill="#819b4a" stroke="#819b4a" stroke-width="1"/>
<polygon points="873.8,1300.6 897.8,1306.5 858.8,1305.9 834.9,1300.1" fill="#819b4a" stroke="#819b4a" stroke-width="1"/>
<polygon points="825.6,1288.9 864.3,1289.3 888.5,1295.3 849.7,1294.8" fill="#839e4b" stroke="#839e4b" stroke-width="1"/>
<polygon points="888.5,1295.3 912.7,1301.2 873.8,1300.6 849.7,1294.8" fill="#819b4a" stroke="#819b4a" stroke-width="1"/>
<polygon points="912.7,1301.2 936.9,1307.1 897.8,1306.5 873.8,1300.6" fill="#819b4a" stroke="#819b4a" stroke-width="1"/>
<polygon points="918.3,1291.4 940.5,1292.2 954.6,1295.7" fill="#a34441" stroke="#a34441" stroke-width="1"/>
<polygon points="940.5,1292.2 978.6,1293.7 1003.1,1299.8 981.1,1298.9 954.6,1295.7" fill="#a24341" stroke="#a24341" stroke-width="1"/>
<polygon points="1003.1,1299.8 1017.1,1303.3 981.1,1298.9" fill="#a04340" stroke="#a04340" stroke-width="1"/>
<polygon points="864.3,1289.3 902.4,1290.8 926.7,1296.8 888.5,1295.3" fill="#839e4b" stroke="#839e4b" stroke-width="1"/>
<polygon points="926.7,1296.8 951.0,1302.8 912.7,1301.2 888.5,1295.3" fill="#819b4a" stroke="#819b4a" stroke-width="1"/>
<polygon points="951.0,1302.8 975.3,1308.7 936.9,1307.1 912.7,1301.2" fill="#819b4a" stroke="#819b4a" stroke-width="1"/>
<polygon points="902.4,1290.8 918.3,1291.4 954.6,1295.7 964.9,1298.3 926.7,1296.8" fill="#839e4b" stroke="#839e4b" stroke-width="1"/>
<polygon points="964.9,1298.3 989.3,1304.3 951.0,1302.8 926.7,1296.8" fill="#819b4a" stroke="#819b4a" stroke-width="1"/>
<polygon points="989.3,1304.3 1013.7,1310.4 975.3,1308.7 951.0,1302.8" fill="#819b4a" stroke="#819b4a" stroke-width="1"/>
<polygon points="954.6,1295.7 981.1,1298.9 964.9,1298.3" fill="#829d4b" stroke="#829d4b" stroke-width="1"/>
<polygon points="981.1,1298.9 1017.1,1303.3 1027.6,1305.9 989.3,1304.3 964.9,1298.3" fill="#819b4a" stroke="#819b4a" stroke-width="1"/>
<polygon points="1027.6,1305.9 1052.1,1312.0 1013.7,1310.4 989.3,1304.3" fill="#819b4a" stroke="#819b4a" stroke-width="1"/>
<polygon points="978.6,1293.7 1016.1,1296.2 1040.7,1302.3 1003.1,1299.8" fill="#a24341" stroke="#a24341" stroke-width="1"/>
<polygon points="1040.7,1302.3 1065.3,1308.5 1042.1,1306.9 1017.1,1303.3 1003.1,1299.8" fill="#9f4240" stroke="#9f4240" stroke-width="1"/>
<polygon points="1065.3,1308.5 1082.3,1312.8 1042.1,1306.9" fill="#9f4240" stroke="#9f4240" stroke-width="1"/>
<polygon points="1016.1,1296.2 1053.6,1298.6 1078.4,1304.9 1040.7,1302.3" fill="#a24341" stroke="#a24341" stroke-width="1"/>
<polygon points="1078.4,1304.9 1103.1,1311.1 1065.3,1308.5 1040.7,1302.3" fill="#9f4240" stroke="#9f4240" stroke-width="1"/>
<polygon points="1103.1,1311.1 1127.8,1317.4 1100.5,1315.4 1082.3,1312.8 1065.3,1308.5" fill="#9f4240" stroke="#9f4240" stroke-width="1"/>
<polygon points="1053.6,1298.6 1091.2,1301.1 1116.0,1307.4 1078.4,1304.9" fill="#a24341" stroke="#a24341" stroke-width="1"/>
<polygon points="1116.0,1307.4 1140.8,1313.7 1103.1,1311.1 1078.4,1304.9" fill="#9f4240" stroke="#9f4240" stroke-width="1"/>
<polygon points="1140.8,1313.7 1165.6,1320.0 1127.8,1317.4 1103.1,1311.1" fill="#9f4240" stroke="#9f4240" stroke-width="1"/>
<polygon points="1027.6,1305.9 1017.1,1303.3 1042.1,1306.9" fill="#819b4a" stroke="#819b4a" stroke-width="1"/>
<polygon points="1090.0,1314.7 1052.1,1312.0 1027.6,1305.9 1042.1,1306.9 1082.3,1312.8" fill="#819b4a" stroke="#819b4a" stroke-width="1"/>
<polygon points="1100.5,1315.4 1090.0,1314.7 1082.3,1312.8" fill="#819b4a" stroke="#819b4a" stroke-width="1"/>
<polygon points="1091.2,1301.1 1128.1,1304.6 1153.0,1310.9 1116.0,1307.4" fill="#a24341" stroke="#a24341" stroke-width="1"/>
<polygon points="1153.0,1310.9 1178.0,1317.3 1140.8,1313.7 1116.0,1307.4" fill="#9f4240" stroke="#9f4240" stroke-width="1"/>
<polygon points="1178.0,1317.3 1202.9,1323.7 1165.6,1320.0 1140.8,1313.7" fill="#9f4240" stroke="#9f4240" stroke-width="1"/>
<polygon points="1128.1,1304.6 1165.1,1308.0 1190.1,1314.5 1153.0,1310.9" fill="#a24341" stroke="#a24341" stroke-width="1"/>
<polygon points="1190.1,1314.5 1215.1,1320.9 1178.0,1317.3 1153.0,1310.9" fill="#9f4240" stroke="#9f4240" stroke-width="1"/>
<polygon points="1215.1,1320.9 1240.1,1327.4 1202.9,1323.7 1178.0,1317.3" fill="#9f4240" stroke="#9f4240" stroke-width="1"/>
<polygon points="1165.1,1308.0 1202.1,1311.5 1227.2,1318.0 1190.1,1314.5" fill="#a24341" stroke="#a24341" stroke-width="1"/>
<polygon points="1227.2,1318.0 1252.3,1324.5 1215.1,1320.9 1190.1,1314.5" fill="#9f4240" stroke="#9f4240" stroke-width="1"/>
<polygon points="1252.3,1324.5 1277.4,1331.0 1240.1,1327.4 1215.1,1320.9" fill="#9f4240" stroke="#9f4240" stroke-width="1"/>
<polygon points="1202.1,1311.5 1238.5,1315.9 1263.6,1322.5 1227.2,1318.0" fill="#a24341" stroke="#a24341" stroke-width="1"/>
<polygon points="1263.6,1322.5 1288.8,1329.1 1252.3,1324.5 1227.2,1318.0" fill="#9f4240" stroke="#9f4240" stroke-width="1"/>
<polygon points="1288.8,1329.1 1314.0,1335.7 1277.4,1331.0 1252.3,1324.5" fill="#9f4240" stroke="#9f4240" stroke-width="1"/>
<polygon points="1238.5,1315.9 1274.8,1320.4 1300.1,1327.0 1263.6,1322.5" fill="#a24341" stroke="#a24341" stroke-width="1"/>
<polygon points="1300.1,1327.0 1325.4,1333.7 1288.8,1329.1 1263.6,1322.5" fill="#9f4240" stroke="#9f4240" stroke-width="1"/>
<polygon points="1325.4,1333.7 1350.7,1340.3 1314.0,1335.7 1288.8,1329.1" fill="#9f4240" stroke="#9f4240" stroke-width="1"/>
<polygon points="1274.8,1320.4 1311.2,1324.8 1336.6,1331.5 1300.1,1327.0" fill="#a24341" stroke="#a24341" stroke-width="1"/>
<polygon points="1336.6,1331.5 1362.0,1338.2 1325.4,1333.7 1300.1,1327.0" fill="#9f4240" stroke="#9f4240" stroke-width="1"/>
<polygon points="1362.0,1338.2 1387.4,1345.0 1350.7,1340.3 1325.4,1333.7" fill="#9f4240" stroke="#9f4240" stroke-width="1"/>
<polygon points="1401.6,1338.4 1418.7,1340.9 1437.7,1346.1" fill="#436da0" stroke="#436da0" stroke-width="1"/>
<polygon points="1311.2,1324.8 1347.1,1330.2 1372.5,1337.0 1336.6,1331.5" fill="#a24341" stroke="#a24341" stroke-width="1"/>
<polygon points="1372.5,1337.0 1398.0,1343.8 1362.0,1338.2 1336.6,1331.5" fill="#9f4240" stroke="#9f4240" stroke-width="1"/>
<polygon points="1398.0,1343.8 1423.4,1350.6 1387.4,1345.0 1362.0,1338.2" fill="#9f4240" stroke="#9f4240" stroke-width="1"/>
<polygon points="1347.1,1330.2 1382.9,1335.6 1408.4,1342.4 1372.5,1337.0" fill="#a24341" stroke="#a24341" stroke-width="1"/>
<polygon points="1408.4,1342.4 1434.0,1349.3 1398.0,1343.8 1372.5,1337.0" fill="#9f4240" stroke="#9f4240" stroke-width="1"/>
<polygon points="1434.0,1349.3 1459.5,1356.2 1423.4,1350.6 1398.0,1343.8" fill="#9f4240" stroke="#9f4240" stroke-width="1"/>
<polygon points="1382.9,1335.6 1401.6,1338.4 1437.7,1346.1 1444.3,1347.9 1408.4,1342.4" fill="#a24341" stroke="#a24341" stroke-width="1"/>
<polygon points="1444.3,1347.9 1470.0,1354.8 1434.0,1349.3 1408.4,1342.4" fill="#9f4240" stroke="#9f4240" stroke-width="1"/>
<polygon points="1470.0,1354.8 1495.6,1361.8 1459.5,1356.2 1434.0,1349.3" fill="#9f4240" stroke="#9f4240" stroke-width="1"/>
<polygon points="1418.7,1340.9 1454.0,1347.2 1479.7,1354.3 1449.8,1348.9 1437.7,1346.1" fill="#436d9f" stroke="#436d9f" stroke-width="1"/>
<polygon points="1479.7,1354.3 1505.4,1361.3 1496.5,1359.7 1449.8,1348.9" fill="#426b9d" stroke="#426b9d" stroke-width="1"/>
<polygon points="1505.4,1361.3 1516.3,1364.3 1496.5,1359.7" fill="#426b9d" stroke="#426b9d" stroke-width="1"/>
<polygon points="1454.0,1347.2 1489.2,1353.5 1515.0,1360.6 1479.7,1354.3" fill="#436d9f" stroke="#436d9f" stroke-width="1"/>
<polygon points="1515.0,1360.6 1540.8,1367.7 1505.4,1361.3 1479.7,1354.3" fill="#426b9d" stroke="#426b9d" stroke-width="1"/>
<polygon points="1540.8,1367.7 1566.6,1374.9 1543.2,1370.5 1516.3,1364.3 1505.4,1361.3" fill="#426b9d" stroke="#426b9d" stroke-width="1"/>
<polygon points="1489.2,1353.5 1524.5,1359.8 1550.4,1367.0 1515.0,1360.6" fill="#436d9f" stroke="#436d9f" stroke-width="1"/>
<polygon points="1550.4,1367.0 1576.2,1374.2 1540.8,1367.7 1515.0,1360.6" fill="#426b9d" stroke="#426b9d" stroke-width="1"/>
<polygon points="1576.2,1374.2 1602.1,1381.4 1566.6,1374.9 1540.8,1367.7" fill="#426b9d" stroke="#426b9d" stroke-width="1"/>
<polygon points="1444.3,1347.9 1437.7,1346.1 1449.8,1348.9" fill="#a14341" stroke="#a14341" stroke-width="1"/>
<polygon points="1470.0,1354.8 1444.3,1347.9 1449.8,1348.9 1496.5,1359.7" fill="#9f4240" stroke="#9f4240" stroke-width="1"/>
<polygon points="1531.1,1368.3 1495.6,1361.8 1470.0,1354.8 1496.5,1359.7 1516.3,1364.3" fill="#9f4240" stroke="#9f4240" stroke-width="1"/>
<polygon points="1543.2,1370.5 1531.1,1368.3 1516.3,1364.3" fill="#9f4240" stroke="#9f4240" stroke-width="1"/>
<polygon points="1524.5,1359.8 1559.2,1367.0 1585.1,1374.3 1550.4,1367.0" fill="#436d9f" stroke="#436d9f" stroke-width="1"/>
<polygon points="1585.1,1374.3 1611.1,1381.6 1576.2,1374.2 1550.4,1367.0" fill="#426b9d" stroke="#426b9d" stroke-width="1"/>
<polygon points="1611.1,1381.6 1637.0,1388.8 1602.1,1381.4 1576.2,1374.2" fill="#426b9d" stroke="#426b9d" stroke-width="1"/>
<polygon points="1559.2,1367.0 1593.9,1374.3 1619.9,1381.6 1585.1,1374.3" fill="#436d9f" stroke="#436d9f" stroke-width="1"/>
<polygon points="1619.9,1381.6 1645.9,1388.9 1611.1,1381.6 1585.1,1374.3" fill="#426b9d" stroke="#426b9d" stroke-width="1"/>
<polygon points="1645.9,1388.9 1671.9,1396.3 1637.0,1388.8 1611.1,1381.6" fill="#426b9d" stroke="#426b9d" stroke-width="1"/>
<polygon points="1593.9,1374.3 1628.6,1381.5 1654.7,1388.9 1619.9,1381.6" fill="#436d9f" stroke="#436d9f" stroke-width="1"/>
<polygon points="1654.7,1388.9 1680.8,1396.3 1645.9,1388.9 1619.9,1381.6" fill="#426b9d" stroke="#426b9d" stroke-width="1"/>
<polygon points="1680.8,1396.3 1706.9,1403.7 1671.9,1396.3 1645.9,1388.9" fill="#426b9d" stroke="#426b9d" stroke-width="1"/>
<polygon points="1628.6,1381.5 1662.7,1389.5 1688.9,1397.0 1654.7,1388.9" fill="#436d9f" stroke="#436d9f" stroke-width="1"/>
<polygon points="1688.9,1397.0 1715.0,1404.5 1680.8,1396.3 1654.7,1388.9" fill="#426b9d" stroke="#426b9d" stroke-width="1"/>
<polygon points="1715.0,1404.5 1741.2,1412.0 1706.9,1403.7 1680.8,1396.3" fill="#426b9d" stroke="#426b9d" stroke-width="1"/>
<polygon points="1662.7,1389.5 1696.8,1397.6 1723.1,1405.2 1688.9,1397.0" fill="#436d9f" stroke="#436d9f" stroke-width="1"/>
<polygon points="1723.1,1405.2 1749.3,1412.8 1715.0,1404.5 1688.9,1397.0" fill="#426b9d" stroke="#426b9d" stroke-width="1"/>
<polygon points="1749.3,1412.8 1775.5,1420.4 1741.2,1412.0 1715.0,1404.5" fill="#426b9d" stroke="#426b9d" stroke-width="1"/>
<polygon points="1696.8,1397.6 1731.0,1405.7 1757.3,1413.4 1723.1,1405.2" fill="#436d9f" stroke="#436d9f" stroke-width="1"/>
<polygon points="1757.3,1413.4 1783.6,1421.0 1749.3,1412.8 1723.1,1405.2" fill="#426b9d" stroke="#426b9d" stroke-width="1"/>
<polygon points="1783.6,1421.0 1809.9,1428.7 1775.5,1420.4 1749.3,1412.8" fill="#426b9d" stroke="#426b9d" stroke-width="1"/>
</g>
<g id="mesh" fill="none" stroke="#000" stroke-opacity="0.5" stroke-width="1.5" stroke-linecap="round" stroke-linejoin="round">
<polyline points="41.6,215.1 154.1,215.0 265.3,218.0 375.0,223.9 483.3,232.8 590.2,244.5 695.7,259.0 799.8,276.3 902.4,296.2 1003.6,318.7 1103.3,343.8"/>
<polyline points="105.1,413.0 217.9,412.3 329.2,414.6 439.1,419.8 547.6,428.0 654.6,439.0 760.2,452.9 864.4,469.5 967.1,488.7 1068.3,510.6 1168.1,535.0"/>
<polyline points="168.8,591.6 281.8,590.3 393.4,592.0 503.6,596.7 612.3,604.3 719.5,614.8 825.3,628.1 929.6,644.1 1032.4,662.8 1133.8,684.1 1233.7,708.0"/>
<polyline points="232.7,750.8 346.1,749.0 458.1,750.2 568.6,754.5 677.6,761.7 785.1,771.7 891.1,784.6 995.6,800.2 1098.7,818.5 1200.2,839.4 1300.3,862.9"/>
<polyline points="296.9,890.6 410.9,888.5 523.3,889.4 634.2,893.3 743.6,900.2 851.5,909.9 957.8,922.5 1062.7,937.8 1166.0,955.9 1267.8,976.5 1368.1,999.7"/>
<polyline points="361.8,1010.9 476.3,1008.5 589.3,1009.2 700.7,1012.9 810.5,1019.6 918.8,1029.2 1025.6,1041.6 1130.8,1056.8 1234.5,1074.7 1336.6,1095.2 1437.2,1118.3"/>
<polyline points="427.4,1111.3 542.6,1108.8 656.1,1109.5 768.1,1113.1 878.6,1119.8 987.4,1129.3 1094.6,1141.7 1200.3,1156.9 1304.4,1174.8 1406.9,1195.4 1507.8,1218.6"/>
<polyline points="493.9,1191.7 609.8,1189.2 724.1,1189.9 836.8,1193.6 947.9,1200.4 1057.3,1210.1 1165.1,1222.6 1271.3,1237.9 1375.9,1256.0 1478.8,1276.8 1580.2,1300.1"/>
<polyline points="561.6,1251.5 678.3,1249.2 793.4,1250.0 906.9,1254.0 1018.7,1261.0 1128.8,1271.0 1237.2,1283.8 1344.0,1299.4 1449.2,1317.9 1552.6,1338.9 1654.5,1362.7"/>
<polyline points="630.5,1290.1 748.3,1288.1 864.3,1289.3 978.6,1293.7 1091.2,1301.1 1202.1,1311.5 1311.2,1324.8 1418.7,1340.9 1524.5,1359.8 1628.6,1381.5 1731.0,1405.7"/>
<polyline points="701.0,1306.8 819.8,1305.3 936.9,1307.1 1052.1,1312.0 1165.6,1320.0 1277.4,1331.0 1387.4,1345.0 1495.6,1361.8 1602.1,1381.4 1706.9,1403.7 1809.9,1428.7"/>
<polyline points="41.6,215.1 105.1,413.0 168.8,591.6 232.7,750.8 296.9,890.6 361.8,1010.9 427.4,1111.3 493.9,1191.7 561.6,1251.5 630.5,1290.1 701.0,1306.8"/>
<polyline points="154.1,215.0 217.9,412.3 281.8,590.3 346.1,749.0 410.9,888.5 476.3,1008.5 542.6,1108.8 609.8,1189.2 678.3,1249.2 748.3,1288.1 819.8,1305.3"/>
<polyline points="265.3,218.0 329.2,414.6 393.4,592.0 458.1,750.2 523.3,889.4 589.3,1009.2 656.1,1109.5 724.1,1189.9 793.4,1250.0 864.3,1289.3 936.9,1307.1"/>
<polyline points="375.0,223.9 439.1,419.8 503.6,596.7 568.6,754.5 634.2,893.3 700.7,1012.9 768.1,1113.1 836.8,1193.6 906.9,1254.0 978.6,1293.7 1052.1,1312.0"/>
<polyline points="483.3,232.8 547.6,428.0 612.3,604.3 677.6,761.7 743.6,900.2 810.5,1019.6 878.6,1119.8 947.9,1200.4 1018.7,1261.0 1091.2,1301.1 1165.6,1320.0"/>
<polyline points="590.2,244.5 654.6,439.0 719.5,614.8 785.1,771.7 851.5,909.9 918.8,1029.2 987.4,1129.3 1057.3,1210.1 1128.8,1271.0 1202.1,1311.5 1277.4,1331.0"/>
<polyline points="695.7,259.0 760.2,452.9 825.3,628.1 891.1,784.6 957.8,922.5 1025.6,1041.6 1094.6,1141.7 1165.1,1222.6 1237.2,1283.8 1311.2,1324.8 1387.4,1345.0"/>
<polyline points="799.8,276.3 864.4,469.5 929.6,644.1 995.6,800.2 1062.7,937.8 1130.8,1056.8 1200.3,1156.9 1271.3,1237.9 1344.0,1299.4 1418.7,1340.9 1495.6,1361.8"/>
<polyline points="902.4,296.2 967.1,488.7 1032.4,662.8 1098.7,818.5 1166.0,955.9 1234.5,1074.7 1304.4,1174.8 1375.9,1256.0 1449.2,1317.9 1524.5,1359.8 1602.1,1381.4"/>
<polyline points="1003.6,318.7 1068.3,510.6 1133.8,684.1 1200.2,839.4 1267.8,976.5 1336.6,1095.2 1406.9,1195.4 1478.8,1276.8 1552.6,1338.9 1628.6,1381.5 1706.9,1403.7"/>
<polyline points="1103.3,343.8 1168.1,535.0 1233.7,708.0 1300.3,862.9 1368.1,999.7 1437.2,1118.3 1507.8,1218.6 1580.2,1300.1 1654.5,1362.7 1731.0,1405.7 1809.9,1428.7"/>
<path d="M95.4 382.8L201.3 361.0 M201.3 361.0L304.6 338.9 M304.6 338.9L405.3 316.5 M405.3 316.5L503.4 293.9 M503.4 293.9L599.0 270.9 M687.8 443.4L751.5 426.6 M599.0 270.9L663.8 254.7 M751.5 426.6L841.8 401.9 M841.8 401.9L929.5 376.9 M929.5 376.9L1014.7 351.6 M1099.7 518.3L1156.2 500.0 M1014.7 351.6L1068.2 335.0 M163.1 575.8L268.0 551.8 M268.0 551.8L370.0 527.3 M370.0 527.3L469.3 502.5 M469.3 502.5L565.7 477.2 M565.7 477.2L659.3 451.6 M781.6 622.6L819.1 611.3 M659.3 451.6L687.8 443.4 M819.1 611.3L907.0 583.7 M907.0 583.7L992.2 555.7 M992.2 555.7L1074.6 527.3 M1179.8 695.1L1222.7 679.1 M1074.6 527.3L1099.7 518.3 M359.4 749.1L447.8 725.0 M447.8 725.0L545.0 697.1 M545.0 697.1L639.0 668.7 M639.0 668.7L730.0 639.9 M730.0 639.9L781.6 622.6 M937.1 791.5L984.6 774.1 M984.6 774.1L1066.3 742.3 M1066.3 742.3L1144.9 710.2 M1144.9 710.2L1179.8 695.1 M246.7 781.3L347.8 752.7 M347.8 752.7L359.4 749.1 M670.0 895.5L731.0 873.7 M731.0 873.7L818.1 840.5 M818.1 840.5L901.8 806.7 M901.8 806.7L937.1 791.5 M1139.3 951.2L1159.1 941.8 M1159.1 941.8L1232.4 904.7 M1232.4 904.7L1302.3 866.9 M362.0 1010.9L459.4 977.5 M459.4 977.5L552.8 943.0 M552.8 943.0L642.1 907.5 M642.1 907.5L670.0 895.5 M988.1 1037.2L1015.2 1023.2 M1015.2 1023.2L1088.1 982.3 M1088.1 982.3L1139.3 951.2 M1372.4 1103.5L1411.6 1074.5 M361.9 1010.9L362.0 1010.9 M869.1 1119.2L875.5 1115.3 M875.5 1115.3L945.8 1068.5 M945.8 1068.5L988.1 1037.2 M1307.1 1175.4L1356.1 1123.1 M1356.1 1123.1L1372.4 1103.5 M802.5 1192.5L820.7 1174.8 M820.7 1174.8L869.1 1119.2 M1284.0 1240.1L1306.6 1177.4 M1306.6 1177.4L1307.1 1175.4 M815.8 1250.8L802.5 1192.5 M1313.8 1295.0L1294.0 1257.2 M1294.0 1257.2L1284.0 1240.1 M918.3 1291.4L815.8 1250.8 M1401.6 1338.4L1313.8 1295.0 M1017.1 1303.3L918.3 1291.4 M1100.5 1315.4L1017.1 1303.3 M1437.7 1346.1L1401.6 1338.4 M1543.2 1370.5L1437.7 1346.1"/>
</g>
<g id="axes" stroke="#000" fill="none" stroke-linecap="butt">
<line x1="1809.8" y1="1460" x2="1849.5" y2="150" stroke-width="6.3"/>
<polyline points="1834.5,217.5 1849.9,142 1865,215.5" stroke-width="6.3" stroke-linejoin="round"/>
<line x1="74.1" y1="1244.5" x2="803" y2="1800.7" stroke-width="7.2"/>
<polyline points="779.2,1752 806.5,1803 748.5,1787.5" stroke-width="6.5" stroke-linejoin="round"/>
<line x1="1812" y1="1458.2" x2="558" y2="1763.8" stroke-width="7.2"/>
<polyline points="606.7,1723.7 554.5,1765 623.3,1771" stroke-width="6.5" stroke-linejoin="round"/>
<line x1="1843.8" y1="364.6" x2="1859.6" y2="364.6" stroke-width="10.5"/>
<line x1="1838.3" y1="524.5" x2="1854.1" y2="524.5" stroke-width="10.5"/>
<line x1="1833.6" y1="685.9" x2="1849.4" y2="685.9" stroke-width="10.5"/>
<line x1="1828.9" y1="842.6" x2="1844.7" y2="842.6" stroke-width="10.5"/>
<line x1="1823.3" y1="999.3" x2="1839.1" y2="999.3" stroke-width="10.5"/>
<line x1="1818.6" y1="1152.9" x2="1834.4" y2="1152.9" stroke-width="10.5"/>
<line x1="1813.9" y1="1305.6" x2="1829.7" y2="1305.6" stroke-width="10.5"/>
<line x1="1810.0" y1="1458.7" x2="1825.8" y2="1458.7" stroke-width="10.5"/>
<line x1="73.3" y1="1238.0" x2="73.3" y2="1267.4" stroke-width="6.3"/>
<line x1="393.4" y1="1486.0" x2="393.4" y2="1513.0" stroke-width="5.6"/>
<line x1="705.2" y1="1727.0" x2="705.2" y2="1756.0" stroke-width="6"/>
<line x1="1248.9" y1="1592.0" x2="1248.9" y2="1620.5" stroke-width="6"/>
<line x1="1809.6" y1="1458.0" x2="1809.6" y2="1485.5" stroke-width="6.3"/>
</g>
<g id="labels" stroke="#fff" stroke-width="1.1" stroke-linejoin="round">
<text x="1871.5" y="388.8" font-size="73" text-anchor="start" >0.34</text>
<text x="1863.6" y="547.9" font-size="73" text-anchor="start" >0.32</text>
<text x="1856.5" y="708.5" font-size="73" text-anchor="start" >0.30</text>
<text x="1854.1" y="865.3" font-size="73" text-anchor="start" >0.28</text>
<text x="1849.4" y="1023.5" font-size="73" text-anchor="start" >0.26</text>
<text x="1841.5" y="1174.7" font-size="73" text-anchor="start" >0.24</text>
<text x="1840.0" y="1327.7" font-size="73" text-anchor="start" >0.22</text>
<text x="1831.3" y="1479.0" font-size="73" text-anchor="start" >0.20</text>
<text x="72.8" y="1320.0" font-size="63" text-anchor="middle" >0</text>
<text x="388.6" y="1563.3" font-size="62" text-anchor="middle" >50</text>
<text x="651.0" y="1819.0" font-size="61" text-anchor="middle" >100</text>
<text x="737.0" y="1844.5" font-size="61" text-anchor="middle" >2.4</text>
<text x="1249.5" y="1674.0" font-size="62" text-anchor="middle" >1.2</text>
<text x="1808.7" y="1548.0" font-size="63" text-anchor="middle" >0</text>
<text y="158.5" font-size="86" x="1483.3 1551 1569.8 1594.4 1638.8 1658.2 1696">G (g/cm<tspan font-size="54" x="1764.3" y="121.8">2</tspan><tspan x="1788.9" y="158.5">)</tspan></text>
<text x="479.3" y="1800" font-size="74">X<tspan font-size="52" dy="15.5" dx="4">1</tspan></text>
<text x="468.4" y="1872.0" font-size="58" text-anchor="start" >(</text>
<text transform="translate(487,1872) scale(1.18,1)" font-size="58">%</text>
<text x="553.5" y="1872.0" font-size="58" text-anchor="start" >)</text>
<text x="791.3" y="1873" font-size="74">X<tspan font-size="52" dy="21" dx="3.5">2</tspan></text>
<text x="737" y="1938" font-size="58" letter-spacing="3">(kg/m<tspan font-size="36" dy="-20">3</tspan><tspan dy="20">)</tspan></text>
<text transform="translate(148.5,1495.2) rotate(35.1)" font-size="96" letter-spacing="20.3">F<tspan dx="2.5">iber</tspan></text>
<text transform="translate(1012.7,1808.2) rotate(-12.46)" font-size="88" letter-spacing="9.3">Accelerator</text>
</g>
<rect x="1450.6" y="430" width="1.6" height="13" fill="#fde9a8"/>
</svg></body></html>
